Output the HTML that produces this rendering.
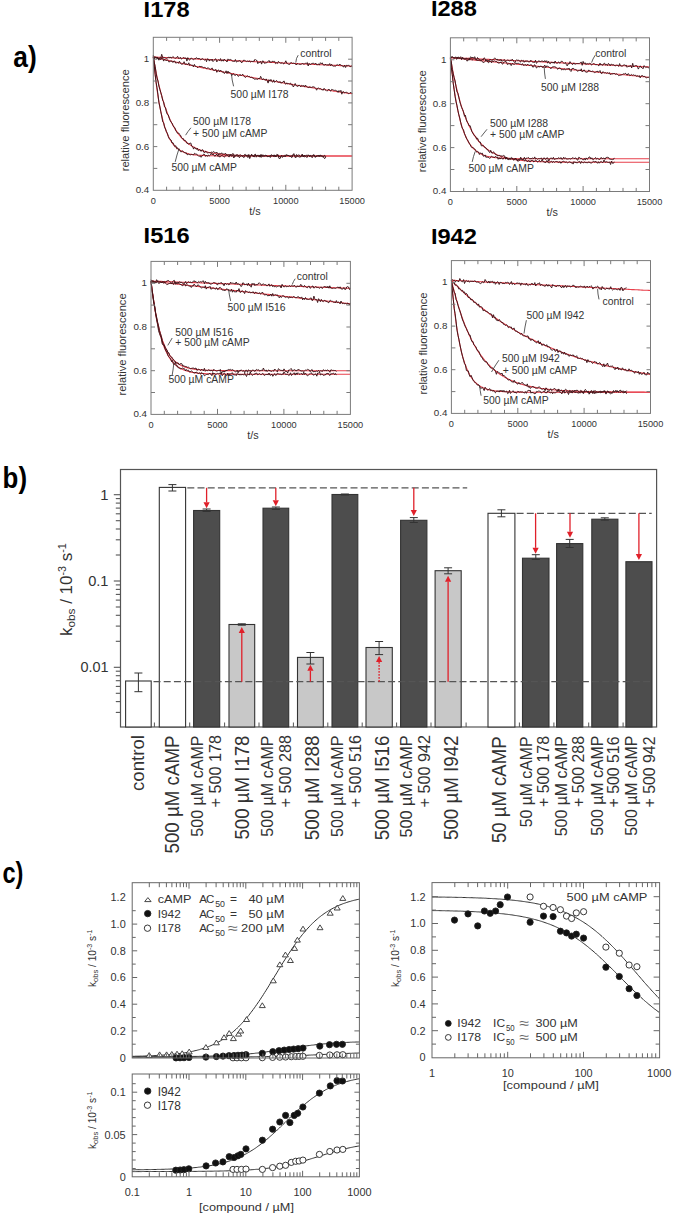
<!DOCTYPE html>
<html><head><meta charset="utf-8"><style>
html,body{margin:0;padding:0;background:#fff;}
svg{display:block;}
text{font-family:"Liberation Sans",sans-serif;}
</style></head><body>
<svg width="675" height="1217" viewBox="0 0 675 1217">
<rect width="675" height="1217" fill="#fff"/>
<text x="13.3" y="66.7" font-size="29" font-weight="bold" textLength="23.4" lengthAdjust="spacingAndGlyphs">a)</text>
<text x="2.6" y="488.0" font-size="29" font-weight="bold" textLength="24.4" lengthAdjust="spacingAndGlyphs">b)</text>
<text x="2.4" y="883.0" font-size="29" font-weight="bold" textLength="21.0" lengthAdjust="spacingAndGlyphs">c)</text>
<text x="143.6" y="16.6" font-size="22" font-weight="bold" textLength="46.0" lengthAdjust="spacingAndGlyphs">I178</text>
<path d="M153.3,57.0 L155.0,57.0 L156.6,57.1 L158.3,57.2 L160.0,57.3 L161.7,57.4 L163.3,57.4 L165.0,57.5 L166.7,57.6 L168.3,57.7 L170.0,57.7 L171.7,57.8 L173.3,57.9 L175.0,58.0 L176.7,58.1 L178.4,58.1 L180.0,58.2 L181.7,58.3 L183.4,58.4 L185.0,58.4 L186.7,58.5 L188.4,58.6 L190.1,58.7 L191.7,58.7 L193.4,58.8 L195.1,58.9 L196.7,59.0 L198.4,59.1 L200.1,59.1 L201.7,59.2 L203.4,59.3 L205.1,59.4 L206.8,59.4 L208.4,59.5 L210.1,59.6 L211.8,59.7 L213.4,59.7 L215.1,59.8 L216.8,59.9 L218.5,60.0 L220.1,60.1 L221.8,60.1 L223.5,60.2 L225.1,60.3 L226.8,60.4 L228.5,60.4 L230.1,60.5 L231.8,60.6 L233.5,60.7 L235.2,60.8 L236.8,60.8 L238.5,60.9 L240.2,61.0 L241.8,61.1 L243.5,61.1 L245.2,61.2 L246.9,61.3 L248.5,61.4 L250.2,61.4 L251.9,61.5 L253.5,61.6 L255.2,61.7 L256.9,61.8 L258.5,61.8 L260.2,61.9 L261.9,62.0 L263.6,62.1 L265.2,62.1 L266.9,62.2 L268.6,62.3 L270.2,62.4 L271.9,62.4 L273.6,62.5 L275.3,62.6 L276.9,62.7 L278.6,62.8 L280.3,62.8 L281.9,62.9 L283.6,63.0 L285.3,63.1 L286.9,63.1 L288.6,63.2 L290.3,63.3 L292.0,63.4 L293.6,63.5 L295.3,63.5 L297.0,63.6 L298.6,63.7 L300.3,63.8 L302.0,63.8 L303.7,63.9 L305.3,64.0 L307.0,64.1 L308.7,64.1 L310.3,64.2 L312.0,64.3 L313.7,64.4 L315.3,64.5 L317.0,64.5 L318.7,64.6 L320.4,64.7 L322.0,64.8 L323.7,64.8 L325.4,64.9 L327.0,65.0 L328.7,65.1 L330.4,65.1 L332.1,65.2 L333.7,65.3 L335.4,65.4 L337.1,65.5 L338.7,65.5 L340.4,65.6 L342.1,65.7 L343.7,65.8 L345.4,65.8 L347.1,65.9 L348.8,66.0 L350.4,66.1 L352.1,66.2" fill="none" stroke="#e8404c" stroke-width="1.1"/>
<path d="M153.3,57.0 L155.0,57.4 L156.6,57.7 L158.3,58.1 L160.0,58.5 L161.7,58.9 L163.3,59.3 L165.0,59.6 L166.7,60.0 L168.3,60.4 L170.0,60.8 L171.7,61.1 L173.3,61.5 L175.0,61.9 L176.7,62.2 L178.4,62.6 L180.0,63.0 L181.7,63.3 L183.4,63.7 L185.0,64.1 L186.7,64.4 L188.4,64.8 L190.1,65.1 L191.7,65.5 L193.4,65.8 L195.1,66.2 L196.7,66.5 L198.4,66.9 L200.1,67.2 L201.7,67.6 L203.4,67.9 L205.1,68.3 L206.8,68.6 L208.4,69.0 L210.1,69.3 L211.8,69.6 L213.4,70.0 L215.1,70.3 L216.8,70.6 L218.5,71.0 L220.1,71.3 L221.8,71.6 L223.5,72.0 L225.1,72.3 L226.8,72.6 L228.5,72.9 L230.1,73.3 L231.8,73.6 L233.5,73.9 L235.2,74.2 L236.8,74.5 L238.5,74.9 L240.2,75.2 L241.8,75.5 L243.5,75.8 L245.2,76.1 L246.9,76.4 L248.5,76.7 L250.2,77.1 L251.9,77.4 L253.5,77.7 L255.2,78.0 L256.9,78.3 L258.5,78.6 L260.2,78.9 L261.9,79.2 L263.6,79.5 L265.2,79.8 L266.9,80.1 L268.6,80.4 L270.2,80.7 L271.9,81.0 L273.6,81.3 L275.3,81.5 L276.9,81.8 L278.6,82.1 L280.3,82.4 L281.9,82.7 L283.6,83.0 L285.3,83.3 L286.9,83.6 L288.6,83.8 L290.3,84.1 L292.0,84.4 L293.6,84.7 L295.3,85.0 L297.0,85.2 L298.6,85.5 L300.3,85.8 L302.0,86.1 L303.7,86.3 L305.3,86.6 L307.0,86.9 L308.7,87.1 L310.3,87.4 L312.0,87.7 L313.7,87.9 L315.3,88.2 L317.0,88.5 L318.7,88.7 L320.4,89.0 L322.0,89.3 L323.7,89.5 L325.4,89.8 L327.0,90.0 L328.7,90.3 L330.4,90.5 L332.1,90.8 L333.7,91.1 L335.4,91.3 L337.1,91.6 L338.7,91.8 L340.4,92.1 L342.1,92.3 L343.7,92.6 L345.4,92.8 L347.1,93.1 L348.8,93.3 L350.4,93.5 L352.1,93.8" fill="none" stroke="#e8404c" stroke-width="1.1"/>
<path d="M153.3,57.0 L155.0,66.4 L156.6,74.9 L158.3,82.5 L160.0,89.5 L161.7,95.8 L163.3,101.5 L165.0,106.7 L166.7,111.3 L168.3,115.6 L170.0,119.4 L171.7,122.9 L173.3,126.0 L175.0,128.9 L176.7,131.4 L178.4,133.8 L180.0,135.9 L181.7,137.8 L183.4,139.5 L185.0,141.1 L186.7,142.5 L188.4,143.8 L190.1,144.9 L191.7,146.0 L193.4,146.9 L195.1,147.8 L196.7,148.5 L198.4,149.3 L200.1,149.9 L201.7,150.5 L203.4,151.0 L205.1,151.5 L206.8,151.9 L208.4,152.3 L210.1,152.6 L211.8,153.0 L213.4,153.2 L215.1,153.5 L216.8,153.7 L218.5,153.9 L220.1,154.1 L221.8,154.3 L223.5,154.5 L225.1,154.6 L226.8,154.7 L228.5,154.9 L230.1,155.0 L231.8,155.1 L233.5,155.2 L235.2,155.2 L236.8,155.3 L238.5,155.4 L240.2,155.4 L241.8,155.5 L243.5,155.5 L245.2,155.6 L246.9,155.6 L248.5,155.6 L250.2,155.7 L251.9,155.7 L253.5,155.7 L255.2,155.8 L256.9,155.8 L258.5,155.8 L260.2,155.8 L261.9,155.8 L263.6,155.8 L265.2,155.9 L266.9,155.9 L268.6,155.9 L270.2,155.9 L271.9,155.9 L273.6,155.9 L275.3,155.9 L276.9,155.9 L278.6,155.9 L280.3,155.9 L281.9,155.9 L283.6,155.9 L285.3,155.9 L286.9,155.9 L288.6,156.0 L290.3,156.0 L292.0,156.0 L293.6,156.0 L295.3,156.0 L297.0,156.0 L298.6,156.0 L300.3,156.0 L302.0,156.0 L303.7,156.0 L305.3,156.0 L307.0,156.0 L308.7,156.0 L310.3,156.0 L312.0,156.0 L313.7,156.0 L315.3,156.0 L317.0,156.0 L318.7,156.0 L320.4,156.0 L322.0,156.0 L323.7,156.0 L325.4,156.0 L327.0,156.0 L328.7,156.0 L330.4,156.0 L332.1,156.0 L333.7,156.0 L335.4,156.0 L337.1,156.0 L338.7,156.0 L340.4,156.0 L342.1,156.0 L343.7,156.0 L345.4,156.0 L347.1,156.0 L348.8,156.0 L350.4,156.0 L352.1,156.0" fill="none" stroke="#e8404c" stroke-width="1.1"/>
<path d="M153.3,57.0 L155.0,73.2 L156.6,86.8 L158.3,98.1 L160.0,107.6 L161.7,115.5 L163.3,122.2 L165.0,127.7 L166.7,132.3 L168.3,136.2 L170.0,139.5 L171.7,142.2 L173.3,144.4 L175.0,146.3 L176.7,147.9 L178.4,149.2 L180.0,150.3 L181.7,151.3 L183.4,152.0 L185.0,152.7 L186.7,153.2 L188.4,153.7 L190.1,154.1 L191.7,154.4 L193.4,154.6 L195.1,154.9 L196.7,155.0 L198.4,155.2 L200.1,155.3 L201.7,155.4 L203.4,155.5 L205.1,155.6 L206.8,155.7 L208.4,155.7 L210.1,155.8 L211.8,155.8 L213.4,155.8 L215.1,155.9 L216.8,155.9 L218.5,155.9 L220.1,155.9 L221.8,155.9 L223.5,155.9 L225.1,155.9 L226.8,155.9 L228.5,156.0 L230.1,156.0 L231.8,156.0 L233.5,156.0 L235.2,156.0 L236.8,156.0 L238.5,156.0 L240.2,156.0 L241.8,156.0 L243.5,156.0 L245.2,156.0 L246.9,156.0 L248.5,156.0 L250.2,156.0 L251.9,156.0 L253.5,156.0 L255.2,156.0 L256.9,156.0 L258.5,156.0 L260.2,156.0 L261.9,156.0 L263.6,156.0 L265.2,156.0 L266.9,156.0 L268.6,156.0 L270.2,156.0 L271.9,156.0 L273.6,156.0 L275.3,156.0 L276.9,156.0 L278.6,156.0 L280.3,156.0 L281.9,156.0 L283.6,156.0 L285.3,156.0 L286.9,156.0 L288.6,156.0 L290.3,156.0 L292.0,156.0 L293.6,156.0 L295.3,156.0 L297.0,156.0 L298.6,156.0 L300.3,156.0 L302.0,156.0 L303.7,156.0 L305.3,156.0 L307.0,156.0 L308.7,156.0 L310.3,156.0 L312.0,156.0 L313.7,156.0 L315.3,156.0 L317.0,156.0 L318.7,156.0 L320.4,156.0 L322.0,156.0 L323.7,156.0 L325.4,156.0 L327.0,156.0 L328.7,156.0 L330.4,156.0 L332.1,156.0 L333.7,156.0 L335.4,156.0 L337.1,156.0 L338.7,156.0 L340.4,156.0 L342.1,156.0 L343.7,156.0 L345.4,156.0 L347.1,156.0 L348.8,156.0 L350.4,156.0 L352.1,156.0" fill="none" stroke="#e8404c" stroke-width="1.1"/>
<path d="M153.3,55.1 L154.2,59.4 L155.2,56.7 L156.1,57.6 L157.0,57.6 L158.0,57.4 L158.9,59.1 L159.8,57.5 L160.8,58.1 L161.7,54.3 L162.6,57.2 L163.6,57.8 L164.5,57.7 L165.4,58.1 L166.4,58.5 L167.3,58.0 L168.2,57.2 L169.2,57.9 L170.1,56.9 L171.0,58.0 L172.0,57.8 L172.9,56.5 L173.8,57.4 L174.8,58.4 L175.7,58.2 L176.6,57.6 L177.6,56.3 L178.5,58.4 L179.4,58.4 L180.4,57.3 L181.3,59.1 L182.2,58.6 L183.2,57.5 L184.1,57.9 L185.0,58.4 L186.0,57.9 L186.9,61.1 L187.8,57.6 L188.8,59.5 L189.7,60.2 L190.6,58.4 L191.6,58.1 L192.5,59.2 L193.4,59.8 L194.4,58.8 L195.3,59.0 L196.2,57.7 L197.2,58.3 L198.1,58.9 L199.0,58.1 L200.0,59.3 L200.9,60.0 L201.8,58.7 L202.8,58.7 L203.7,59.5 L204.6,60.1 L205.6,59.2 L206.5,61.7 L207.4,58.8 L208.4,59.1 L209.3,61.1 L210.2,59.5 L211.2,60.5 L212.1,59.0 L213.0,61.6 L214.0,60.6 L214.9,59.2 L215.8,58.8 L216.8,61.9 L217.7,60.4 L218.6,59.7 L219.6,60.6 L220.5,58.6 L221.4,61.2 L222.4,59.8 L223.3,61.2 L224.2,59.0 L225.2,60.3 L226.1,60.7 L227.0,62.0 L228.0,58.9 L228.9,59.8 L229.8,59.8 L230.8,59.5 L231.7,60.3 L232.6,61.2 L233.6,61.4 L234.5,61.5 L235.4,59.5 L236.4,62.1 L237.3,61.4 L238.2,61.2 L239.2,60.7 L240.1,60.5 L241.0,62.2 L242.0,62.7 L242.9,61.1 L243.8,60.0 L244.8,60.5 L245.7,61.0 L246.6,61.6 L247.6,61.1 L248.5,61.6 L249.4,60.7 L250.4,62.2 L251.3,61.4 L252.2,61.6 L253.2,61.1 L254.1,61.4 L255.0,59.3 L256.0,60.3 L256.9,60.4 L257.8,63.7 L258.8,62.2 L259.7,62.4 L260.6,61.4 L261.6,64.1 L262.5,60.9 L263.4,61.1 L264.4,63.3 L265.3,63.0 L266.2,62.9 L267.2,62.2 L268.1,61.7 L269.0,60.4 L270.0,62.5 L270.9,61.7 L271.8,62.3 L272.8,60.9 L273.7,61.8 L274.6,61.3 L275.6,63.6 L276.5,62.8 L277.4,63.5 L278.4,61.4 L279.3,62.2 L280.2,63.1 L281.2,63.3 L282.1,62.5 L283.0,63.6 L284.0,63.9 L284.9,62.6 L285.8,60.8 L286.8,63.4 L287.7,63.7 L288.6,64.3 L289.6,64.5 L290.5,62.8 L291.4,62.6 L292.4,63.4 L293.3,63.1 L294.2,63.4 L295.2,63.4 L296.1,65.0 L297.0,64.0 L298.0,63.5 L298.9,64.4 L299.8,64.2 L300.8,64.5 L301.7,64.1 L302.6,63.1 L303.6,64.3 L304.5,64.1 L305.4,63.2 L306.4,63.4 L307.3,62.5 L308.2,66.0 L309.2,63.4 L310.1,64.7 L311.0,64.1 L312.0,63.5 L312.9,63.3 L313.8,63.4 L314.8,64.3 L315.7,63.0 L316.6,64.8 L317.6,64.7 L318.5,63.9 L319.4,65.1 L320.4,62.7 L321.3,63.8 L322.2,62.8 L323.2,64.8 L324.1,65.2 L325.0,64.7 L326.0,64.3 L326.9,65.5 L327.8,64.7 L328.8,65.1 L329.7,63.6 L330.6,65.8 L331.6,64.2 L332.5,65.8 L333.4,66.2 L334.4,66.0 L335.3,66.5 L336.2,65.3 L337.2,64.5 L338.1,65.4 L339.0,65.0 L340.0,64.1 L340.9,65.4 L341.8,65.5 L342.8,66.0 L343.7,67.2 L344.6,65.1 L345.6,67.5 L346.5,65.3 L347.4,65.9 L348.4,64.9 L349.3,66.1 L350.2,66.8 L351.2,65.8 L352.1,66.7" fill="none" stroke="#3a1418" stroke-width="0.95"/>
<path d="M153.3,57.1 L154.2,57.1 L155.2,57.5 L156.1,57.8 L157.0,58.6 L158.0,58.2 L158.9,60.2 L159.8,58.6 L160.8,59.8 L161.7,57.9 L162.6,57.9 L163.6,61.1 L164.5,59.4 L165.4,59.9 L166.4,60.9 L167.3,59.7 L168.2,60.8 L169.2,62.2 L170.1,61.0 L171.0,61.1 L172.0,61.1 L172.9,62.5 L173.8,61.0 L174.8,61.1 L175.7,63.1 L176.6,62.8 L177.6,62.5 L178.5,63.2 L179.4,61.2 L180.4,62.9 L181.3,64.2 L182.2,64.2 L183.2,63.7 L184.1,61.7 L185.0,64.2 L186.0,64.1 L186.9,64.0 L187.8,64.7 L188.8,62.8 L189.7,65.5 L190.6,64.6 L191.6,65.3 L192.5,65.1 L193.4,66.9 L194.4,64.4 L195.3,66.3 L196.2,66.4 L197.2,67.5 L198.1,67.5 L199.0,66.5 L200.0,66.3 L200.9,66.7 L201.8,66.5 L202.8,67.1 L203.7,68.0 L204.6,67.4 L205.6,67.8 L206.5,68.6 L207.4,68.1 L208.4,67.8 L209.3,68.9 L210.2,69.6 L211.2,68.8 L212.1,67.9 L213.0,70.1 L214.0,70.2 L214.9,70.4 L215.8,69.3 L216.8,72.3 L217.7,70.5 L218.6,69.9 L219.6,71.9 L220.5,70.0 L221.4,71.1 L222.4,72.2 L223.3,71.7 L224.2,73.5 L225.2,72.8 L226.1,70.8 L227.0,73.5 L228.0,71.1 L228.9,73.1 L229.8,72.3 L230.8,73.3 L231.7,75.6 L232.6,74.3 L233.6,73.7 L234.5,75.2 L235.4,75.5 L236.4,74.1 L237.3,75.2 L238.2,76.4 L239.2,75.6 L240.1,74.4 L241.0,75.8 L242.0,74.7 L242.9,74.3 L243.8,75.8 L244.8,77.1 L245.7,77.4 L246.6,76.4 L247.6,75.8 L248.5,76.5 L249.4,76.4 L250.4,77.5 L251.3,77.0 L252.2,77.9 L253.2,77.9 L254.1,79.0 L255.0,79.4 L256.0,78.6 L256.9,79.3 L257.8,79.3 L258.8,78.0 L259.7,78.9 L260.6,76.3 L261.6,78.3 L262.5,79.9 L263.4,78.7 L264.4,79.3 L265.3,80.4 L266.2,78.9 L267.2,80.8 L268.1,83.1 L269.0,79.7 L270.0,81.2 L270.9,79.4 L271.8,81.5 L272.8,82.2 L273.7,79.9 L274.6,82.4 L275.6,81.4 L276.5,80.4 L277.4,81.8 L278.4,82.2 L279.3,82.2 L280.2,81.6 L281.2,83.3 L282.1,82.2 L283.0,82.4 L284.0,80.9 L284.9,83.5 L285.8,84.2 L286.8,82.8 L287.7,84.0 L288.6,83.6 L289.6,83.9 L290.5,83.1 L291.4,84.9 L292.4,84.5 L293.3,87.0 L294.2,85.6 L295.2,83.5 L296.1,85.7 L297.0,85.9 L298.0,86.5 L298.9,85.0 L299.8,85.5 L300.8,86.9 L301.7,85.4 L302.6,85.9 L303.6,85.6 L304.5,87.1 L305.4,85.0 L306.4,86.4 L307.3,87.0 L308.2,87.5 L309.2,87.4 L310.1,86.6 L311.0,87.8 L312.0,86.7 L312.9,87.3 L313.8,86.7 L314.8,87.4 L315.7,88.3 L316.6,90.2 L317.6,88.3 L318.5,88.0 L319.4,88.7 L320.4,88.5 L321.3,89.6 L322.2,89.6 L323.2,90.3 L324.1,88.3 L325.0,89.6 L326.0,90.3 L326.9,91.2 L327.8,90.3 L328.8,89.0 L329.7,90.0 L330.6,91.3 L331.6,89.4 L332.5,89.6 L333.4,90.1 L334.4,90.4 L335.3,90.2 L336.2,90.9 L337.2,90.9 L338.1,92.4 L339.0,90.5 L340.0,91.8 L340.9,90.3 L341.8,94.2 L342.8,91.8 L343.7,91.7 L344.6,93.0 L345.6,92.4 L346.5,92.3 L347.4,92.6 L348.4,93.7 L349.3,93.5 L350.2,92.6 L351.2,92.5 L352.1,93.7" fill="none" stroke="#3a1418" stroke-width="0.95"/>
<path d="M153.3,56.9 L154.2,62.2 L155.2,66.5 L156.1,73.2 L157.0,78.0 L158.0,81.0 L158.9,86.2 L159.9,89.5 L160.8,92.6 L161.7,95.6 L162.7,100.3 L163.6,101.7 L164.5,106.9 L165.5,107.6 L166.4,112.1 L167.3,114.3 L168.3,114.9 L169.2,118.0 L170.2,120.5 L171.1,122.1 L172.0,123.1 L173.0,125.4 L173.9,127.0 L174.8,127.6 L175.8,130.7 L176.7,131.9 L177.6,133.3 L178.6,133.0 L179.5,134.3 L180.5,135.2 L181.4,137.5 L182.3,138.6 L183.3,138.6 L184.2,140.7 L185.1,140.4 L186.1,141.3 L187.0,143.4 L187.9,143.5 L188.9,144.2 L189.8,143.2 L190.8,143.0 L191.7,146.0 L192.6,146.5 L193.6,149.1 L194.5,147.3 L195.4,148.0 L196.4,149.4 L197.3,148.1 L198.2,150.6 L199.2,149.8 L200.1,149.8 L201.1,151.4 L202.0,149.8 L202.9,149.9 L203.9,152.4 L204.8,152.7 L205.7,151.1 L206.7,151.9 L207.6,153.2 L208.5,152.6 L209.5,152.6 L210.4,152.8 L211.4,152.1 L212.3,152.7 L213.2,151.6 L214.2,152.1 L215.1,152.9 L216.0,152.6 L217.0,152.5 L217.9,153.2 L218.8,155.1 L219.8,153.3 L220.7,154.1 L221.7,152.8 L222.6,154.3 L223.5,154.0 L224.5,154.3 L225.4,153.1 L226.3,154.5 L227.3,155.0 L228.2,154.6 L229.1,155.3 L230.1,154.8 L231.0,155.0 L232.0,154.8 L232.9,153.4 L233.8,155.5 L234.8,155.2 L235.7,155.4 L236.6,154.7 L237.6,156.4 L238.5,156.0 L239.4,155.4 L240.4,154.9 L241.3,155.5 L242.3,156.0 L243.2,156.3 L244.1,155.1 L245.1,154.2 L246.0,155.3 L246.9,155.4 L247.9,155.2 L248.8,156.5 L249.7,156.0 L250.7,155.9 L251.6,155.4 L252.6,155.7 L253.5,156.8 L254.4,154.7 L255.4,154.2 L256.3,156.0 L257.2,155.4 L258.2,155.5 L259.1,155.1 L260.0,157.2 L261.0,154.3 L261.9,156.3 L262.9,154.7 L263.8,155.8 L264.7,156.2 L265.7,156.0 L266.6,155.0 L267.5,156.7 L268.5,156.2 L269.4,156.3 L270.3,157.5 L271.3,154.7 L272.2,155.4 L273.2,155.9 L274.1,154.8 L275.0,156.8 L276.0,156.0 L276.9,154.3 L277.8,155.0 L278.8,158.0 L279.7,159.0 L280.6,156.9 L281.6,155.0 L282.5,156.4 L283.5,156.1 L284.4,155.4 L285.3,156.8 L286.3,155.8 L287.2,155.2 L288.1,155.5 L289.1,155.6 L290.0,156.5 L290.9,155.5 L291.9,156.4 L292.8,154.8 L293.8,153.6 L294.7,156.6 L295.6,158.0 L296.6,156.4 L297.5,155.6 L298.4,155.0 L299.4,155.0 L300.3,156.7 L301.2,156.7 L302.2,154.8 L303.1,157.0 L304.1,155.0 L305.0,156.2 L305.9,155.3 L306.9,155.3 L307.8,155.3 L308.7,155.2 L309.7,156.9 L310.6,155.7 L311.5,156.0 L312.5,155.7 L313.4,154.8 L314.4,156.2 L315.3,156.6 L316.2,156.6 L317.2,156.3 L318.1,155.3 L319.0,156.7 L320.0,154.9 L320.9,155.7 L321.8,156.2 L322.8,157.2 L323.7,155.8 L324.7,155.3 L325.6,157.6" fill="none" stroke="#3a1418" stroke-width="0.95"/>
<path d="M153.3,55.9 L154.2,64.9 L155.2,74.7 L156.1,82.3 L157.0,87.5 L158.0,94.9 L158.9,102.6 L159.9,106.9 L160.8,111.8 L161.7,116.0 L162.7,121.8 L163.6,122.4 L164.5,126.9 L165.5,129.0 L166.4,131.8 L167.3,133.2 L168.3,136.4 L169.2,138.7 L170.2,139.2 L171.1,140.0 L172.0,143.0 L173.0,142.7 L173.9,144.9 L174.8,146.6 L175.8,145.7 L176.7,148.7 L177.6,147.8 L178.6,149.8 L179.5,149.6 L180.5,151.7 L181.4,151.9 L182.3,150.6 L183.3,151.8 L184.2,152.3 L185.1,153.1 L186.1,152.6 L187.0,154.6 L187.9,154.6 L188.9,153.9 L189.8,154.8 L190.8,154.8 L191.7,154.4 L192.6,154.6 L193.6,154.9 L194.5,153.3 L195.4,154.0 L196.4,153.9 L197.3,155.1 L198.2,155.6 L199.2,156.6 L200.1,155.6 L201.1,157.3 L202.0,156.0 L202.9,154.8 L203.9,154.1 L204.8,154.7 L205.7,156.4 L206.7,155.2 L207.6,156.4 L208.5,155.0 L209.5,155.8 L210.4,155.0 L211.4,153.4 L212.3,155.0 L213.2,153.7 L214.2,155.7 L215.1,156.2 L216.0,154.6 L217.0,154.3 L217.9,156.4 L218.8,155.8 L219.8,157.2 L220.7,156.1 L221.7,155.1 L222.6,156.0 L223.5,156.5 L224.5,157.2 L225.4,155.6 L226.3,155.2 L227.3,155.4 L228.2,155.7 L229.1,157.1 L230.1,154.3 L231.0,156.0 L232.0,156.1 L232.9,155.3 L233.8,158.0 L234.8,156.0 L235.7,156.1 L236.6,155.6 L237.6,154.7 L238.5,155.5 L239.4,157.7 L240.4,156.3 L241.3,155.8 L242.3,155.8 L243.2,157.2 L244.1,157.5 L245.1,155.5 L246.0,155.7 L246.9,156.0 L247.9,157.6 L248.8,154.4 L249.7,158.6 L250.7,156.3 L251.6,154.1 L252.6,156.1 L253.5,155.8 L254.4,157.1 L255.4,154.7 L256.3,157.2 L257.2,155.7 L258.2,155.9 L259.1,156.9 L260.0,155.2 L261.0,157.3 L261.9,156.6 L262.9,156.0 L263.8,156.4 L264.7,155.6 L265.7,155.1 L266.6,156.3 L267.5,156.5 L268.5,156.5 L269.4,156.3 L270.3,155.2 L271.3,156.2 L272.2,155.6 L273.2,156.1 L274.1,156.8 L275.0,155.2 L276.0,156.9 L276.9,156.0 L277.8,154.6 L278.8,157.0 L279.7,156.0 L280.6,157.4 L281.6,156.5 L282.5,157.4 L283.5,156.3 L284.4,156.5 L285.3,155.9 L286.3,154.5 L287.2,155.7 L288.1,155.4 L289.1,156.0 L290.0,156.2 L290.9,156.7 L291.9,157.6 L292.8,155.9 L293.8,154.5 L294.7,155.5 L295.6,156.5 L296.6,154.5 L297.5,156.4 L298.4,156.6 L299.4,157.1 L300.3,156.9 L301.2,156.2 L302.2,154.1 L303.1,156.2 L304.1,156.9 L305.0,156.5 L305.9,156.2 L306.9,157.6 L307.8,155.9 L308.7,155.3 L309.7,155.7 L310.6,155.4 L311.5,157.2 L312.5,157.5 L313.4,154.8 L314.4,155.0 L315.3,157.4 L316.2,155.8 L317.2,156.0 L318.1,155.5 L319.0,155.8 L320.0,156.4 L320.9,155.8 L321.8,155.8 L322.8,156.0 L323.7,157.7 L324.7,158.7 L325.6,156.7" fill="none" stroke="#3a1418" stroke-width="0.95"/>
<rect x="153.3" y="37.3" width="198.8" height="153.0" fill="none" stroke="#7a7a7a" stroke-width="1"/>
<line x1="166.6" y1="37.3" x2="166.6" y2="40.9" stroke="#7a7a7a" stroke-width="1"/>
<line x1="166.6" y1="190.3" x2="166.6" y2="186.7" stroke="#7a7a7a" stroke-width="1"/>
<line x1="179.8" y1="37.3" x2="179.8" y2="40.9" stroke="#7a7a7a" stroke-width="1"/>
<line x1="179.8" y1="190.3" x2="179.8" y2="186.7" stroke="#7a7a7a" stroke-width="1"/>
<line x1="193.1" y1="37.3" x2="193.1" y2="40.9" stroke="#7a7a7a" stroke-width="1"/>
<line x1="193.1" y1="190.3" x2="193.1" y2="186.7" stroke="#7a7a7a" stroke-width="1"/>
<line x1="206.3" y1="37.3" x2="206.3" y2="40.9" stroke="#7a7a7a" stroke-width="1"/>
<line x1="206.3" y1="190.3" x2="206.3" y2="186.7" stroke="#7a7a7a" stroke-width="1"/>
<line x1="219.6" y1="37.3" x2="219.6" y2="42.8" stroke="#7a7a7a" stroke-width="1"/>
<line x1="219.6" y1="190.3" x2="219.6" y2="184.8" stroke="#7a7a7a" stroke-width="1"/>
<line x1="232.8" y1="37.3" x2="232.8" y2="40.9" stroke="#7a7a7a" stroke-width="1"/>
<line x1="232.8" y1="190.3" x2="232.8" y2="186.7" stroke="#7a7a7a" stroke-width="1"/>
<line x1="246.1" y1="37.3" x2="246.1" y2="40.9" stroke="#7a7a7a" stroke-width="1"/>
<line x1="246.1" y1="190.3" x2="246.1" y2="186.7" stroke="#7a7a7a" stroke-width="1"/>
<line x1="259.3" y1="37.3" x2="259.3" y2="40.9" stroke="#7a7a7a" stroke-width="1"/>
<line x1="259.3" y1="190.3" x2="259.3" y2="186.7" stroke="#7a7a7a" stroke-width="1"/>
<line x1="272.6" y1="37.3" x2="272.6" y2="40.9" stroke="#7a7a7a" stroke-width="1"/>
<line x1="272.6" y1="190.3" x2="272.6" y2="186.7" stroke="#7a7a7a" stroke-width="1"/>
<line x1="285.8" y1="37.3" x2="285.8" y2="42.8" stroke="#7a7a7a" stroke-width="1"/>
<line x1="285.8" y1="190.3" x2="285.8" y2="184.8" stroke="#7a7a7a" stroke-width="1"/>
<line x1="299.1" y1="37.3" x2="299.1" y2="40.9" stroke="#7a7a7a" stroke-width="1"/>
<line x1="299.1" y1="190.3" x2="299.1" y2="186.7" stroke="#7a7a7a" stroke-width="1"/>
<line x1="312.3" y1="37.3" x2="312.3" y2="40.9" stroke="#7a7a7a" stroke-width="1"/>
<line x1="312.3" y1="190.3" x2="312.3" y2="186.7" stroke="#7a7a7a" stroke-width="1"/>
<line x1="325.6" y1="37.3" x2="325.6" y2="40.9" stroke="#7a7a7a" stroke-width="1"/>
<line x1="325.6" y1="190.3" x2="325.6" y2="186.7" stroke="#7a7a7a" stroke-width="1"/>
<line x1="338.8" y1="37.3" x2="338.8" y2="40.9" stroke="#7a7a7a" stroke-width="1"/>
<line x1="338.8" y1="190.3" x2="338.8" y2="186.7" stroke="#7a7a7a" stroke-width="1"/>
<line x1="153.3" y1="168.4" x2="157.3" y2="168.4" stroke="#7a7a7a" stroke-width="1"/>
<line x1="352.1" y1="168.4" x2="348.1" y2="168.4" stroke="#7a7a7a" stroke-width="1"/>
<line x1="153.3" y1="146.6" x2="157.3" y2="146.6" stroke="#7a7a7a" stroke-width="1"/>
<line x1="352.1" y1="146.6" x2="348.1" y2="146.6" stroke="#7a7a7a" stroke-width="1"/>
<line x1="153.3" y1="124.7" x2="157.3" y2="124.7" stroke="#7a7a7a" stroke-width="1"/>
<line x1="352.1" y1="124.7" x2="348.1" y2="124.7" stroke="#7a7a7a" stroke-width="1"/>
<line x1="153.3" y1="102.9" x2="157.3" y2="102.9" stroke="#7a7a7a" stroke-width="1"/>
<line x1="352.1" y1="102.9" x2="348.1" y2="102.9" stroke="#7a7a7a" stroke-width="1"/>
<line x1="153.3" y1="81.0" x2="157.3" y2="81.0" stroke="#7a7a7a" stroke-width="1"/>
<line x1="352.1" y1="81.0" x2="348.1" y2="81.0" stroke="#7a7a7a" stroke-width="1"/>
<line x1="153.3" y1="59.2" x2="157.3" y2="59.2" stroke="#7a7a7a" stroke-width="1"/>
<line x1="352.1" y1="59.2" x2="348.1" y2="59.2" stroke="#7a7a7a" stroke-width="1"/>
<text x="149.3" y="62.1" font-size="9.8" text-anchor="end" fill="#333">1</text>
<text x="149.3" y="105.8" font-size="9.8" text-anchor="end" fill="#333">0.8</text>
<text x="149.3" y="149.5" font-size="9.8" text-anchor="end" fill="#333">0.6</text>
<text x="149.3" y="193.2" font-size="9.8" text-anchor="end" fill="#333">0.4</text>
<text x="153.3" y="203.7" font-size="9.2" text-anchor="middle" fill="#333">0</text>
<text x="219.6" y="203.7" font-size="9.2" text-anchor="middle" fill="#333">5000</text>
<text x="285.8" y="203.7" font-size="9.2" text-anchor="middle" fill="#333">10000</text>
<text x="352.1" y="203.7" font-size="9.2" text-anchor="middle" fill="#333">15000</text>
<text x="255.0" y="214.7" font-size="10.8" text-anchor="middle" fill="#333">t/s</text>
<text x="128.8" y="120.3" font-size="11" text-anchor="middle" fill="#333" textLength="102.0" lengthAdjust="spacingAndGlyphs" transform="rotate(-90 128.8 120.3)">relative fluorescence</text>
<text x="300.3" y="56.5" font-size="10.4" fill="#333">control</text>
<path d="M298.2,55.2 L296.5,58.5 L295.8,62.6" fill="none" stroke="#333" stroke-width="0.8"/>
<text x="230.6" y="98.2" font-size="10.4" fill="#333">500 µM I178</text>
<path d="M233.6,86.3 L232.2,80.0 L231.5,74.4" fill="none" stroke="#333" stroke-width="0.8"/>
<text x="193.0" y="124.8" font-size="10.4" fill="#333">500 µM I178</text>
<text x="193.0" y="136.8" font-size="10.4" fill="#333">+ 500 µM cAMP</text>
<path d="M190.9,127.8 L188.0,131.5 L185.6,135.2" fill="none" stroke="#333" stroke-width="0.8"/>
<text x="171.4" y="170.6" font-size="10.4" fill="#333">500 µM cAMP</text>
<path d="M175.2,161.9 L177.0,155.0 L179.1,148.5" fill="none" stroke="#333" stroke-width="0.8"/>
<text x="430.9" y="16.4" font-size="22" font-weight="bold" textLength="46.0" lengthAdjust="spacingAndGlyphs">I288</text>
<path d="M450.4,57.6 L452.1,57.6 L453.7,57.7 L455.4,57.8 L457.1,57.9 L458.8,58.0 L460.4,58.0 L462.1,58.1 L463.8,58.2 L465.5,58.3 L467.1,58.4 L468.8,58.4 L470.5,58.5 L472.2,58.6 L473.8,58.7 L475.5,58.8 L477.2,58.8 L478.8,58.9 L480.5,59.0 L482.2,59.1 L483.9,59.1 L485.5,59.2 L487.2,59.3 L488.9,59.4 L490.6,59.5 L492.2,59.5 L493.9,59.6 L495.6,59.7 L497.2,59.8 L498.9,59.9 L500.6,59.9 L502.3,60.0 L503.9,60.1 L505.6,60.2 L507.3,60.3 L509.0,60.3 L510.6,60.4 L512.3,60.5 L514.0,60.6 L515.7,60.7 L517.3,60.7 L519.0,60.8 L520.7,60.9 L522.3,61.0 L524.0,61.1 L525.7,61.1 L527.4,61.2 L529.0,61.3 L530.7,61.4 L532.4,61.4 L534.1,61.5 L535.7,61.6 L537.4,61.7 L539.1,61.8 L540.7,61.8 L542.4,61.9 L544.1,62.0 L545.8,62.1 L547.4,62.2 L549.1,62.2 L550.8,62.3 L552.5,62.4 L554.1,62.5 L555.8,62.6 L557.5,62.6 L559.2,62.7 L560.8,62.8 L562.5,62.9 L564.2,63.0 L565.8,63.0 L567.5,63.1 L569.2,63.2 L570.9,63.3 L572.5,63.4 L574.2,63.4 L575.9,63.5 L577.6,63.6 L579.2,63.7 L580.9,63.8 L582.6,63.8 L584.2,63.9 L585.9,64.0 L587.6,64.1 L589.3,64.1 L590.9,64.2 L592.6,64.3 L594.3,64.4 L596.0,64.5 L597.6,64.5 L599.3,64.6 L601.0,64.7 L602.7,64.8 L604.3,64.9 L606.0,64.9 L607.7,65.0 L609.3,65.1 L611.0,65.2 L612.7,65.3 L614.4,65.3 L616.0,65.4 L617.7,65.5 L619.4,65.6 L621.1,65.7 L622.7,65.7 L624.4,65.8 L626.1,65.9 L627.7,66.0 L629.4,66.1 L631.1,66.1 L632.8,66.2 L634.4,66.3 L636.1,66.4 L637.8,66.4 L639.5,66.5 L641.1,66.6 L642.8,66.7 L644.5,66.8 L646.2,66.8 L647.8,66.9 L649.5,67.0" fill="none" stroke="#e8404c" stroke-width="1.1"/>
<path d="M450.4,57.6 L452.1,57.7 L453.7,57.9 L455.4,58.1 L457.1,58.2 L458.8,58.4 L460.4,58.6 L462.1,58.7 L463.8,58.9 L465.5,59.1 L467.1,59.2 L468.8,59.4 L470.5,59.6 L472.2,59.7 L473.8,59.9 L475.5,60.1 L477.2,60.2 L478.8,60.4 L480.5,60.6 L482.2,60.7 L483.9,60.9 L485.5,61.0 L487.2,61.2 L488.9,61.4 L490.6,61.5 L492.2,61.7 L493.9,61.9 L495.6,62.0 L497.2,62.2 L498.9,62.4 L500.6,62.5 L502.3,62.7 L503.9,62.9 L505.6,63.0 L507.3,63.2 L509.0,63.4 L510.6,63.5 L512.3,63.7 L514.0,63.9 L515.7,64.0 L517.3,64.2 L519.0,64.4 L520.7,64.5 L522.3,64.7 L524.0,64.9 L525.7,65.0 L527.4,65.2 L529.0,65.4 L530.7,65.5 L532.4,65.7 L534.1,65.9 L535.7,66.0 L537.4,66.2 L539.1,66.4 L540.7,66.5 L542.4,66.7 L544.1,66.9 L545.8,67.0 L547.4,67.2 L549.1,67.4 L550.8,67.5 L552.5,67.7 L554.1,67.9 L555.8,68.0 L557.5,68.2 L559.2,68.4 L560.8,68.5 L562.5,68.7 L564.2,68.9 L565.8,69.0 L567.5,69.2 L569.2,69.4 L570.9,69.5 L572.5,69.7 L574.2,69.9 L575.9,70.0 L577.6,70.2 L579.2,70.3 L580.9,70.5 L582.6,70.7 L584.2,70.8 L585.9,71.0 L587.6,71.2 L589.3,71.3 L590.9,71.5 L592.6,71.7 L594.3,71.8 L596.0,72.0 L597.6,72.2 L599.3,72.3 L601.0,72.5 L602.7,72.7 L604.3,72.8 L606.0,73.0 L607.7,73.2 L609.3,73.3 L611.0,73.5 L612.7,73.7 L614.4,73.8 L616.0,74.0 L617.7,74.2 L619.4,74.3 L621.1,74.5 L622.7,74.7 L624.4,74.8 L626.1,75.0 L627.7,75.2 L629.4,75.3 L631.1,75.5 L632.8,75.7 L634.4,75.8 L636.1,76.0 L637.8,76.2 L639.5,76.3 L641.1,76.5 L642.8,76.7 L644.5,76.8 L646.2,77.0 L647.8,77.2 L649.5,77.3" fill="none" stroke="#e8404c" stroke-width="1.1"/>
<path d="M450.4,57.6 L452.1,67.0 L453.7,75.6 L455.4,83.4 L457.1,90.5 L458.8,97.0 L460.4,102.9 L462.1,108.3 L463.8,113.1 L465.5,117.6 L467.1,121.6 L468.8,125.3 L470.5,128.6 L472.2,131.7 L473.8,134.4 L475.5,136.9 L477.2,139.2 L478.8,141.3 L480.5,143.2 L482.2,144.9 L483.9,146.5 L485.5,147.9 L487.2,149.2 L488.9,150.4 L490.6,151.5 L492.2,152.4 L493.9,153.3 L495.6,154.1 L497.2,154.9 L498.9,155.5 L500.6,156.2 L502.3,156.7 L503.9,157.2 L505.6,157.7 L507.3,158.1 L509.0,158.5 L510.6,158.8 L512.3,159.1 L514.0,159.4 L515.7,159.7 L517.3,159.9 L519.0,160.1 L520.7,160.3 L522.3,160.5 L524.0,160.7 L525.7,160.8 L527.4,160.9 L529.0,161.1 L530.7,161.2 L532.4,161.3 L534.1,161.4 L535.7,161.5 L537.4,161.5 L539.1,161.6 L540.7,161.7 L542.4,161.7 L544.1,161.8 L545.8,161.8 L547.4,161.9 L549.1,161.9 L550.8,161.9 L552.5,162.0 L554.1,162.0 L555.8,162.0 L557.5,162.1 L559.2,162.1 L560.8,162.1 L562.5,162.1 L564.2,162.1 L565.8,162.1 L567.5,162.2 L569.2,162.2 L570.9,162.2 L572.5,162.2 L574.2,162.2 L575.9,162.2 L577.6,162.2 L579.2,162.2 L580.9,162.2 L582.6,162.2 L584.2,162.2 L585.9,162.2 L587.6,162.3 L589.3,162.3 L590.9,162.3 L592.6,162.3 L594.3,162.3 L596.0,162.3 L597.6,162.3 L599.3,162.3 L601.0,162.3 L602.7,162.3 L604.3,162.3 L606.0,162.3 L607.7,162.3 L609.3,162.3 L611.0,162.3 L612.7,162.3 L614.4,162.3 L616.0,162.3 L617.7,162.3 L619.4,162.3 L621.1,162.3 L622.7,162.3 L624.4,162.3 L626.1,162.3 L627.7,162.3 L629.4,162.3 L631.1,162.3 L632.8,162.3 L634.4,162.3 L636.1,162.3 L637.8,162.3 L639.5,162.3 L641.1,162.3 L642.8,162.3 L644.5,162.3 L646.2,162.3 L647.8,162.3 L649.5,162.3" fill="none" stroke="#e8404c" stroke-width="1.1"/>
<path d="M450.4,57.6 L452.1,73.1 L453.7,86.2 L455.4,97.3 L457.1,106.8 L458.8,114.7 L460.4,121.5 L462.1,127.2 L463.8,132.0 L465.5,136.1 L467.1,139.6 L468.8,142.6 L470.5,145.0 L472.2,147.1 L473.8,148.9 L475.5,150.4 L477.2,151.7 L478.8,152.8 L480.5,153.7 L482.2,154.5 L483.9,155.2 L485.5,155.7 L487.2,156.2 L488.9,156.6 L490.6,156.9 L492.2,157.2 L493.9,157.4 L495.6,157.7 L497.2,157.8 L498.9,158.0 L500.6,158.1 L502.3,158.2 L503.9,158.3 L505.6,158.4 L507.3,158.4 L509.0,158.5 L510.6,158.5 L512.3,158.6 L514.0,158.6 L515.7,158.6 L517.3,158.7 L519.0,158.7 L520.7,158.7 L522.3,158.7 L524.0,158.7 L525.7,158.7 L527.4,158.7 L529.0,158.7 L530.7,158.7 L532.4,158.8 L534.1,158.8 L535.7,158.8 L537.4,158.8 L539.1,158.8 L540.7,158.8 L542.4,158.8 L544.1,158.8 L545.8,158.8 L547.4,158.8 L549.1,158.8 L550.8,158.8 L552.5,158.8 L554.1,158.8 L555.8,158.8 L557.5,158.8 L559.2,158.8 L560.8,158.8 L562.5,158.8 L564.2,158.8 L565.8,158.8 L567.5,158.8 L569.2,158.8 L570.9,158.8 L572.5,158.8 L574.2,158.8 L575.9,158.8 L577.6,158.8 L579.2,158.8 L580.9,158.8 L582.6,158.8 L584.2,158.8 L585.9,158.8 L587.6,158.8 L589.3,158.8 L590.9,158.8 L592.6,158.8 L594.3,158.8 L596.0,158.8 L597.6,158.8 L599.3,158.8 L601.0,158.8 L602.7,158.8 L604.3,158.8 L606.0,158.8 L607.7,158.8 L609.3,158.8 L611.0,158.8 L612.7,158.8 L614.4,158.8 L616.0,158.8 L617.7,158.8 L619.4,158.8 L621.1,158.8 L622.7,158.8 L624.4,158.8 L626.1,158.8 L627.7,158.8 L629.4,158.8 L631.1,158.8 L632.8,158.8 L634.4,158.8 L636.1,158.8 L637.8,158.8 L639.5,158.8 L641.1,158.8 L642.8,158.8 L644.5,158.8 L646.2,158.8 L647.8,158.8 L649.5,158.8" fill="none" stroke="#e8404c" stroke-width="1.1"/>
<path d="M450.4,59.1 L451.3,57.4 L452.3,57.0 L453.2,57.5 L454.1,58.1 L455.1,57.7 L456.0,56.8 L456.9,58.5 L457.9,57.1 L458.8,57.3 L459.7,57.8 L460.7,56.7 L461.6,58.8 L462.6,57.3 L463.5,59.0 L464.4,58.9 L465.4,59.2 L466.3,57.9 L467.2,59.2 L468.2,58.4 L469.1,59.5 L470.0,57.5 L471.0,56.8 L471.9,58.4 L472.8,57.1 L473.8,58.2 L474.7,56.7 L475.6,58.7 L476.6,60.3 L477.5,57.5 L478.4,59.0 L479.4,59.9 L480.3,59.6 L481.2,60.5 L482.2,59.2 L483.1,60.1 L484.1,57.8 L485.0,58.6 L485.9,60.8 L486.9,60.7 L487.8,59.9 L488.7,61.2 L489.7,59.5 L490.6,59.5 L491.5,60.2 L492.5,60.1 L493.4,59.1 L494.3,58.3 L495.3,58.3 L496.2,59.7 L497.1,59.0 L498.1,60.5 L499.0,59.5 L499.9,60.8 L500.9,59.3 L501.8,61.1 L502.7,60.9 L503.7,60.1 L504.6,59.6 L505.5,61.5 L506.5,60.7 L507.4,60.1 L508.4,60.1 L509.3,61.1 L510.2,60.3 L511.2,60.7 L512.1,59.2 L513.0,60.0 L514.0,61.8 L514.9,62.7 L515.8,60.6 L516.8,59.6 L517.7,60.6 L518.6,60.0 L519.6,61.3 L520.5,62.1 L521.4,60.2 L522.4,60.9 L523.3,60.4 L524.2,62.3 L525.2,60.9 L526.1,61.7 L527.0,60.5 L528.0,61.8 L528.9,61.8 L529.9,61.9 L530.8,60.2 L531.7,61.4 L532.7,62.2 L533.6,62.4 L534.5,62.5 L535.5,60.2 L536.4,63.3 L537.3,62.5 L538.3,61.1 L539.2,60.7 L540.1,62.0 L541.1,61.1 L542.0,61.2 L542.9,61.0 L543.9,62.0 L544.8,60.5 L545.7,61.9 L546.7,60.7 L547.6,63.2 L548.5,61.3 L549.5,63.4 L550.4,63.7 L551.4,61.9 L552.3,63.1 L553.2,62.0 L554.2,63.4 L555.1,61.0 L556.0,62.5 L557.0,63.6 L557.9,62.5 L558.8,61.9 L559.8,63.4 L560.7,62.3 L561.6,60.9 L562.6,62.0 L563.5,62.9 L564.4,63.4 L565.4,62.4 L566.3,64.4 L567.2,65.9 L568.2,63.7 L569.1,64.1 L570.0,61.6 L571.0,63.1 L571.9,64.2 L572.9,64.4 L573.8,62.9 L574.7,64.2 L575.7,64.0 L576.6,63.6 L577.5,63.5 L578.5,63.5 L579.4,63.5 L580.3,62.5 L581.3,62.1 L582.2,65.3 L583.1,61.4 L584.1,63.7 L585.0,62.7 L585.9,64.6 L586.9,63.7 L587.8,63.8 L588.7,64.0 L589.7,63.3 L590.6,63.6 L591.5,65.1 L592.5,64.3 L593.4,63.6 L594.4,63.7 L595.3,64.7 L596.2,64.7 L597.2,64.6 L598.1,65.5 L599.0,65.7 L600.0,63.1 L600.9,65.0 L601.8,64.6 L602.8,65.4 L603.7,63.6 L604.6,63.2 L605.6,65.1 L606.5,64.4 L607.4,65.6 L608.4,63.4 L609.3,64.2 L610.2,65.8 L611.2,64.0 L612.1,64.8 L613.0,64.8 L614.0,64.9 L614.9,65.9 L615.8,65.8 L616.8,64.8 L617.7,65.5 L618.7,66.3 L619.6,63.6 L620.5,65.8 L621.5,66.1 L622.4,66.3 L623.3,65.1 L624.3,64.8 L625.2,65.6 L626.1,65.0 L627.1,67.3 L628.0,66.3 L628.9,66.4 L629.9,66.0 L630.8,65.6 L631.7,68.0 L632.7,63.3 L633.6,67.0 L634.5,65.9 L635.5,65.5 L636.4,65.5 L637.3,66.1 L638.3,69.1 L639.2,67.5 L640.2,65.8 L641.1,67.4 L642.0,67.6 L643.0,68.8 L643.9,65.6 L644.8,66.3 L645.8,67.6 L646.7,67.0 L647.6,67.0 L648.6,68.0 L649.5,67.2" fill="none" stroke="#3a1418" stroke-width="0.95"/>
<path d="M450.4,57.3 L451.3,57.1 L452.3,56.6 L453.2,57.8 L454.1,58.3 L455.1,57.6 L456.0,58.7 L456.9,59.3 L457.9,57.2 L458.8,58.7 L459.7,58.4 L460.7,58.0 L461.6,59.7 L462.6,58.2 L463.5,58.4 L464.4,59.0 L465.4,58.7 L466.3,59.8 L467.2,61.2 L468.2,59.6 L469.1,60.2 L470.0,58.7 L471.0,59.3 L471.9,60.2 L472.8,59.7 L473.8,58.6 L474.7,58.9 L475.6,59.7 L476.6,59.7 L477.5,60.5 L478.4,60.4 L479.4,59.9 L480.3,60.6 L481.2,60.3 L482.2,61.7 L483.1,62.3 L484.1,62.5 L485.0,61.4 L485.9,59.8 L486.9,60.1 L487.8,62.2 L488.7,62.8 L489.7,60.7 L490.6,61.1 L491.5,62.9 L492.5,60.7 L493.4,61.7 L494.3,60.7 L495.3,61.7 L496.2,61.3 L497.1,61.9 L498.1,63.2 L499.0,62.6 L499.9,63.1 L500.9,61.8 L501.8,63.6 L502.7,64.2 L503.7,62.2 L504.6,61.9 L505.5,61.7 L506.5,62.1 L507.4,64.6 L508.4,63.9 L509.3,63.9 L510.2,63.5 L511.2,65.6 L512.1,63.7 L513.0,63.5 L514.0,64.7 L514.9,63.8 L515.8,62.9 L516.8,64.1 L517.7,63.3 L518.6,63.4 L519.6,64.0 L520.5,64.2 L521.4,64.9 L522.4,63.6 L523.3,65.2 L524.2,65.5 L525.2,64.3 L526.1,65.7 L527.0,64.8 L528.0,64.3 L528.9,65.3 L529.9,65.3 L530.8,64.7 L531.7,64.9 L532.7,67.1 L533.6,67.0 L534.5,64.7 L535.5,65.6 L536.4,68.0 L537.3,67.4 L538.3,66.2 L539.2,67.3 L540.1,66.0 L541.1,66.5 L542.0,66.2 L542.9,67.8 L543.9,66.2 L544.8,65.1 L545.7,67.7 L546.7,65.9 L547.6,66.3 L548.5,66.7 L549.5,67.4 L550.4,68.5 L551.4,68.4 L552.3,66.9 L553.2,66.8 L554.2,66.7 L555.1,67.0 L556.0,67.2 L557.0,68.5 L557.9,69.3 L558.8,68.1 L559.8,67.9 L560.7,68.4 L561.6,70.0 L562.6,69.2 L563.5,70.1 L564.4,68.7 L565.4,69.9 L566.3,69.2 L567.2,68.8 L568.2,69.1 L569.1,68.1 L570.0,70.4 L571.0,71.5 L571.9,68.7 L572.9,68.4 L573.8,68.5 L574.7,69.6 L575.7,69.5 L576.6,69.9 L577.5,71.3 L578.5,70.8 L579.4,69.9 L580.3,71.0 L581.3,68.8 L582.2,72.0 L583.1,71.1 L584.1,69.8 L585.0,71.5 L585.9,72.0 L586.9,72.3 L587.8,71.8 L588.7,69.9 L589.7,71.0 L590.6,71.0 L591.5,72.0 L592.5,70.9 L593.4,71.6 L594.4,72.7 L595.3,72.3 L596.2,71.8 L597.2,71.0 L598.1,72.2 L599.0,71.8 L600.0,70.5 L600.9,73.2 L601.8,73.7 L602.8,71.7 L603.7,72.3 L604.6,72.9 L605.6,72.7 L606.5,73.3 L607.4,72.6 L608.4,73.5 L609.3,72.6 L610.2,74.5 L611.2,74.2 L612.1,73.5 L613.0,74.1 L614.0,73.1 L614.9,73.9 L615.8,74.4 L616.8,73.8 L617.7,74.6 L618.7,75.7 L619.6,75.4 L620.5,75.2 L621.5,74.9 L622.4,74.5 L623.3,73.8 L624.3,74.3 L625.2,73.2 L626.1,73.8 L627.1,75.2 L628.0,73.6 L628.9,74.2 L629.9,75.8 L630.8,75.1 L631.7,74.5 L632.7,75.4 L633.6,74.8 L634.5,75.4 L635.5,75.2 L636.4,76.3 L637.3,75.7 L638.3,76.5 L639.2,75.6 L640.2,77.9 L641.1,76.1 L642.0,75.4 L643.0,76.1 L643.9,76.7 L644.8,76.3 L645.8,77.7 L646.7,77.8 L647.6,77.4 L648.6,77.3 L649.5,76.4" fill="none" stroke="#3a1418" stroke-width="0.95"/>
<path d="M450.4,58.3 L451.3,62.0 L452.3,69.5 L453.2,73.6 L454.1,77.5 L455.1,80.8 L456.0,86.6 L457.0,91.9 L457.9,93.3 L458.8,97.2 L459.8,101.6 L460.7,104.7 L461.6,107.4 L462.6,109.5 L463.5,111.7 L464.5,116.3 L465.4,115.2 L466.3,119.7 L467.3,122.2 L468.2,123.3 L469.1,125.8 L470.1,125.6 L471.0,128.6 L471.9,131.6 L472.9,133.2 L473.8,134.8 L474.8,136.1 L475.7,136.5 L476.6,139.1 L477.6,138.2 L478.5,140.9 L479.4,142.1 L480.4,142.1 L481.3,145.8 L482.2,145.8 L483.2,145.3 L484.1,146.7 L485.1,147.5 L486.0,147.9 L486.9,149.5 L487.9,149.8 L488.8,151.6 L489.7,152.6 L490.7,150.3 L491.6,152.9 L492.6,153.2 L493.5,151.8 L494.4,152.6 L495.4,154.5 L496.3,154.9 L497.2,154.9 L498.2,156.1 L499.1,155.1 L500.0,155.8 L501.0,156.1 L501.9,155.9 L502.9,156.2 L503.8,155.4 L504.7,156.0 L505.7,159.2 L506.6,157.1 L507.5,159.1 L508.5,159.6 L509.4,157.9 L510.3,159.4 L511.3,159.2 L512.2,158.1 L513.2,159.9 L514.1,160.2 L515.0,159.2 L516.0,158.6 L516.9,159.3 L517.8,161.4 L518.8,160.7 L519.7,160.3 L520.7,158.5 L521.6,159.6 L522.5,159.7 L523.5,159.5 L524.4,160.9 L525.3,160.3 L526.3,160.4 L527.2,161.8 L528.1,161.0 L529.1,160.5 L530.0,162.1 L531.0,160.4 L531.9,160.5 L532.8,160.3 L533.8,162.0 L534.7,161.3 L535.6,160.1 L536.6,160.7 L537.5,162.2 L538.5,161.3 L539.4,160.3 L540.3,161.7 L541.3,161.3 L542.2,159.3 L543.1,161.7 L544.1,161.8 L545.0,162.7 L545.9,162.4 L546.9,160.4 L547.8,162.0 L548.8,163.0 L549.7,162.7 L550.6,161.9 L551.6,161.2 L552.5,162.6 L553.4,161.3 L554.4,162.4 L555.3,161.7 L556.2,161.5 L557.2,161.5 L558.1,162.4 L559.1,162.2 L560.0,161.6 L560.9,163.3 L561.9,161.9 L562.8,161.6 L563.7,161.1 L564.7,162.2 L565.6,162.3 L566.6,162.0 L567.5,162.8 L568.4,162.3 L569.4,161.8 L570.3,161.9 L571.2,163.1 L572.2,162.5 L573.1,164.1 L574.0,161.5 L575.0,162.7 L575.9,162.0 L576.9,163.2 L577.8,162.3 L578.7,161.8 L579.7,161.3 L580.6,163.5 L581.5,161.5 L582.5,162.4 L583.4,163.0 L584.4,161.8 L585.3,162.5 L586.2,162.5 L587.2,162.9 L588.1,162.1 L589.0,162.2 L590.0,162.4 L590.9,163.2 L591.8,162.8 L592.8,161.9 L593.7,161.1 L594.7,162.3 L595.6,161.0 L596.5,162.3 L597.5,163.3 L598.4,161.7 L599.3,163.2 L600.3,161.9 L601.2,161.3 L602.1,162.6 L603.1,162.4 L604.0,160.0 L605.0,162.1 L605.9,162.1 L606.8,161.6 L607.8,162.4 L608.7,162.4 L609.6,162.0 L610.6,164.5 L611.5,161.0 L612.5,163.3 L613.4,163.3 L614.3,161.8" fill="none" stroke="#3a1418" stroke-width="0.95"/>
<path d="M450.4,57.6 L451.3,67.7 L452.3,74.6 L453.2,83.3 L454.1,89.7 L455.1,96.7 L456.0,101.7 L457.0,105.7 L457.9,110.6 L458.8,114.7 L459.8,118.1 L460.7,122.5 L461.6,126.3 L462.6,128.9 L463.5,129.8 L464.5,133.7 L465.4,135.7 L466.3,138.1 L467.3,139.6 L468.2,141.2 L469.1,143.1 L470.1,144.6 L471.0,146.5 L471.9,147.7 L472.9,147.6 L473.8,148.3 L474.8,149.0 L475.7,150.6 L476.6,152.1 L477.6,151.4 L478.5,152.0 L479.4,154.5 L480.4,152.9 L481.3,153.6 L482.2,153.0 L483.2,156.0 L484.1,156.4 L485.1,154.9 L486.0,157.5 L486.9,156.8 L487.9,157.4 L488.8,157.5 L489.7,158.5 L490.7,157.2 L491.6,156.2 L492.6,156.9 L493.5,157.0 L494.4,157.9 L495.4,156.3 L496.3,157.3 L497.2,156.9 L498.2,159.3 L499.1,157.7 L500.0,159.1 L501.0,157.8 L501.9,158.0 L502.9,159.3 L503.8,158.1 L504.7,157.3 L505.7,157.9 L506.6,157.9 L507.5,159.2 L508.5,159.1 L509.4,159.5 L510.3,158.4 L511.3,157.5 L512.2,158.2 L513.2,158.6 L514.1,159.6 L515.0,158.2 L516.0,158.9 L516.9,160.4 L517.8,160.2 L518.8,159.0 L519.7,159.5 L520.7,157.2 L521.6,158.7 L522.5,159.7 L523.5,159.2 L524.4,157.3 L525.3,159.6 L526.3,158.0 L527.2,158.3 L528.1,157.4 L529.1,158.3 L530.0,159.1 L531.0,158.3 L531.9,158.7 L532.8,157.9 L533.8,158.8 L534.7,156.9 L535.6,158.9 L536.6,158.4 L537.5,159.4 L538.5,158.6 L539.4,158.7 L540.3,158.6 L541.3,157.9 L542.2,159.3 L543.1,159.5 L544.1,157.7 L545.0,159.0 L545.9,159.4 L546.9,157.7 L547.8,158.1 L548.8,161.2 L549.7,159.1 L550.6,158.0 L551.6,158.0 L552.5,159.2 L553.4,157.3 L554.4,159.5 L555.3,159.0 L556.2,158.6 L557.2,158.8 L558.1,158.0 L559.1,157.8 L560.0,158.8 L560.9,157.5 L561.9,159.4 L562.8,159.0 L563.7,157.2 L564.7,158.7 L565.6,157.8 L566.6,159.2 L567.5,159.0 L568.4,158.9 L569.4,158.6 L570.3,159.1 L571.2,158.7 L572.2,158.1 L573.1,157.6 L574.0,158.7 L575.0,158.2 L575.9,157.9 L576.9,159.7 L577.8,160.2 L578.7,157.3 L579.7,157.5 L580.6,158.7 L581.5,158.4 L582.5,159.6 L583.4,160.0 L584.4,158.5 L585.3,160.1 L586.2,157.9 L587.2,159.4 L588.1,158.5 L589.0,157.0 L590.0,157.0 L590.9,159.0 L591.8,157.8 L592.8,159.7 L593.7,159.3 L594.7,158.4 L595.6,157.5 L596.5,159.3 L597.5,158.3 L598.4,158.7 L599.3,159.9 L600.3,158.9 L601.2,157.4 L602.1,158.8 L603.1,158.3 L604.0,158.0 L605.0,159.4 L605.9,157.6 L606.8,157.4 L607.8,157.3 L608.7,157.6 L609.6,159.2 L610.6,159.3 L611.5,159.5 L612.5,159.6 L613.4,159.5 L614.3,157.9" fill="none" stroke="#3a1418" stroke-width="0.95"/>
<rect x="450.4" y="37.8" width="199.1" height="153.7" fill="none" stroke="#7a7a7a" stroke-width="1"/>
<line x1="463.7" y1="37.8" x2="463.7" y2="41.4" stroke="#7a7a7a" stroke-width="1"/>
<line x1="463.7" y1="191.5" x2="463.7" y2="187.9" stroke="#7a7a7a" stroke-width="1"/>
<line x1="476.9" y1="37.8" x2="476.9" y2="41.4" stroke="#7a7a7a" stroke-width="1"/>
<line x1="476.9" y1="191.5" x2="476.9" y2="187.9" stroke="#7a7a7a" stroke-width="1"/>
<line x1="490.2" y1="37.8" x2="490.2" y2="41.4" stroke="#7a7a7a" stroke-width="1"/>
<line x1="490.2" y1="191.5" x2="490.2" y2="187.9" stroke="#7a7a7a" stroke-width="1"/>
<line x1="503.5" y1="37.8" x2="503.5" y2="41.4" stroke="#7a7a7a" stroke-width="1"/>
<line x1="503.5" y1="191.5" x2="503.5" y2="187.9" stroke="#7a7a7a" stroke-width="1"/>
<line x1="516.8" y1="37.8" x2="516.8" y2="43.3" stroke="#7a7a7a" stroke-width="1"/>
<line x1="516.8" y1="191.5" x2="516.8" y2="186.0" stroke="#7a7a7a" stroke-width="1"/>
<line x1="530.0" y1="37.8" x2="530.0" y2="41.4" stroke="#7a7a7a" stroke-width="1"/>
<line x1="530.0" y1="191.5" x2="530.0" y2="187.9" stroke="#7a7a7a" stroke-width="1"/>
<line x1="543.3" y1="37.8" x2="543.3" y2="41.4" stroke="#7a7a7a" stroke-width="1"/>
<line x1="543.3" y1="191.5" x2="543.3" y2="187.9" stroke="#7a7a7a" stroke-width="1"/>
<line x1="556.6" y1="37.8" x2="556.6" y2="41.4" stroke="#7a7a7a" stroke-width="1"/>
<line x1="556.6" y1="191.5" x2="556.6" y2="187.9" stroke="#7a7a7a" stroke-width="1"/>
<line x1="569.9" y1="37.8" x2="569.9" y2="41.4" stroke="#7a7a7a" stroke-width="1"/>
<line x1="569.9" y1="191.5" x2="569.9" y2="187.9" stroke="#7a7a7a" stroke-width="1"/>
<line x1="583.1" y1="37.8" x2="583.1" y2="43.3" stroke="#7a7a7a" stroke-width="1"/>
<line x1="583.1" y1="191.5" x2="583.1" y2="186.0" stroke="#7a7a7a" stroke-width="1"/>
<line x1="596.4" y1="37.8" x2="596.4" y2="41.4" stroke="#7a7a7a" stroke-width="1"/>
<line x1="596.4" y1="191.5" x2="596.4" y2="187.9" stroke="#7a7a7a" stroke-width="1"/>
<line x1="609.7" y1="37.8" x2="609.7" y2="41.4" stroke="#7a7a7a" stroke-width="1"/>
<line x1="609.7" y1="191.5" x2="609.7" y2="187.9" stroke="#7a7a7a" stroke-width="1"/>
<line x1="623.0" y1="37.8" x2="623.0" y2="41.4" stroke="#7a7a7a" stroke-width="1"/>
<line x1="623.0" y1="191.5" x2="623.0" y2="187.9" stroke="#7a7a7a" stroke-width="1"/>
<line x1="636.2" y1="37.8" x2="636.2" y2="41.4" stroke="#7a7a7a" stroke-width="1"/>
<line x1="636.2" y1="191.5" x2="636.2" y2="187.9" stroke="#7a7a7a" stroke-width="1"/>
<line x1="450.4" y1="169.5" x2="454.4" y2="169.5" stroke="#7a7a7a" stroke-width="1"/>
<line x1="649.5" y1="169.5" x2="645.5" y2="169.5" stroke="#7a7a7a" stroke-width="1"/>
<line x1="450.4" y1="147.6" x2="454.4" y2="147.6" stroke="#7a7a7a" stroke-width="1"/>
<line x1="649.5" y1="147.6" x2="645.5" y2="147.6" stroke="#7a7a7a" stroke-width="1"/>
<line x1="450.4" y1="125.6" x2="454.4" y2="125.6" stroke="#7a7a7a" stroke-width="1"/>
<line x1="649.5" y1="125.6" x2="645.5" y2="125.6" stroke="#7a7a7a" stroke-width="1"/>
<line x1="450.4" y1="103.7" x2="454.4" y2="103.7" stroke="#7a7a7a" stroke-width="1"/>
<line x1="649.5" y1="103.7" x2="645.5" y2="103.7" stroke="#7a7a7a" stroke-width="1"/>
<line x1="450.4" y1="81.7" x2="454.4" y2="81.7" stroke="#7a7a7a" stroke-width="1"/>
<line x1="649.5" y1="81.7" x2="645.5" y2="81.7" stroke="#7a7a7a" stroke-width="1"/>
<line x1="450.4" y1="59.8" x2="454.4" y2="59.8" stroke="#7a7a7a" stroke-width="1"/>
<line x1="649.5" y1="59.8" x2="645.5" y2="59.8" stroke="#7a7a7a" stroke-width="1"/>
<text x="446.4" y="62.7" font-size="9.8" text-anchor="end" fill="#333">1</text>
<text x="446.4" y="106.6" font-size="9.8" text-anchor="end" fill="#333">0.8</text>
<text x="446.4" y="150.5" font-size="9.8" text-anchor="end" fill="#333">0.6</text>
<text x="446.4" y="194.4" font-size="9.8" text-anchor="end" fill="#333">0.4</text>
<text x="450.4" y="204.9" font-size="9.2" text-anchor="middle" fill="#333">0</text>
<text x="516.8" y="204.9" font-size="9.2" text-anchor="middle" fill="#333">5000</text>
<text x="583.1" y="204.9" font-size="9.2" text-anchor="middle" fill="#333">10000</text>
<text x="649.5" y="204.9" font-size="9.2" text-anchor="middle" fill="#333">15000</text>
<text x="552.2" y="215.9" font-size="10.8" text-anchor="middle" fill="#333">t/s</text>
<text x="425.9" y="121.2" font-size="11" text-anchor="middle" fill="#333" textLength="102.0" lengthAdjust="spacingAndGlyphs" transform="rotate(-90 425.9 121.2)">relative fluorescence</text>
<text x="595.2" y="57.2" font-size="10.4" fill="#333">control</text>
<path d="M595.2,55.2 L593.0,59.0 L591.6,62.6" fill="none" stroke="#333" stroke-width="0.8"/>
<text x="541.0" y="91.0" font-size="10.4" fill="#333">500 µM I288</text>
<path d="M545.4,78.9 L544.6,73.0 L544.2,67.0" fill="none" stroke="#333" stroke-width="0.8"/>
<text x="490.0" y="126.5" font-size="10.4" fill="#333">500 µM I288</text>
<text x="490.0" y="138.1" font-size="10.4" fill="#333">+ 500 µM cAMP</text>
<path d="M487.0,129.3 L484.0,133.0 L481.1,136.7" fill="none" stroke="#333" stroke-width="0.8"/>
<text x="468.4" y="171.5" font-size="10.4" fill="#333">500 µM cAMP</text>
<path d="M472.2,161.9 L473.5,156.5 L475.2,151.5" fill="none" stroke="#333" stroke-width="0.8"/>
<text x="143.6" y="243.3" font-size="22" font-weight="bold" textLength="46.0" lengthAdjust="spacingAndGlyphs">I516</text>
<path d="M151.0,281.1 L152.7,281.1 L154.4,281.2 L156.0,281.3 L157.7,281.3 L159.4,281.4 L161.1,281.4 L162.7,281.5 L164.4,281.6 L166.1,281.6 L167.8,281.7 L169.4,281.7 L171.1,281.8 L172.8,281.9 L174.5,281.9 L176.1,282.0 L177.8,282.0 L179.5,282.1 L181.2,282.2 L182.8,282.2 L184.5,282.3 L186.2,282.3 L187.9,282.4 L189.5,282.5 L191.2,282.5 L192.9,282.6 L194.6,282.6 L196.2,282.7 L197.9,282.8 L199.6,282.8 L201.3,282.9 L202.9,283.0 L204.6,283.0 L206.3,283.1 L208.0,283.1 L209.6,283.2 L211.3,283.3 L213.0,283.3 L214.7,283.4 L216.3,283.4 L218.0,283.5 L219.7,283.6 L221.4,283.6 L223.1,283.7 L224.7,283.7 L226.4,283.8 L228.1,283.9 L229.8,283.9 L231.4,284.0 L233.1,284.0 L234.8,284.1 L236.5,284.2 L238.1,284.2 L239.8,284.3 L241.5,284.3 L243.2,284.4 L244.8,284.5 L246.5,284.5 L248.2,284.6 L249.9,284.6 L251.5,284.7 L253.2,284.8 L254.9,284.8 L256.6,284.9 L258.2,285.0 L259.9,285.0 L261.6,285.1 L263.3,285.1 L264.9,285.2 L266.6,285.3 L268.3,285.3 L270.0,285.4 L271.6,285.4 L273.3,285.5 L275.0,285.6 L276.7,285.6 L278.3,285.7 L280.0,285.7 L281.7,285.8 L283.4,285.9 L285.1,285.9 L286.7,286.0 L288.4,286.0 L290.1,286.1 L291.8,286.2 L293.4,286.2 L295.1,286.3 L296.8,286.3 L298.5,286.4 L300.1,286.5 L301.8,286.5 L303.5,286.6 L305.2,286.6 L306.8,286.7 L308.5,286.8 L310.2,286.8 L311.9,286.9 L313.5,287.0 L315.2,287.0 L316.9,287.1 L318.6,287.1 L320.2,287.2 L321.9,287.3 L323.6,287.3 L325.3,287.4 L326.9,287.4 L328.6,287.5 L330.3,287.6 L332.0,287.6 L333.6,287.7 L335.3,287.7 L337.0,287.8 L338.7,287.9 L340.3,287.9 L342.0,288.0 L343.7,288.0 L345.4,288.1 L347.0,288.2 L348.7,288.2 L350.4,288.3" fill="none" stroke="#e8404c" stroke-width="1.1"/>
<path d="M151.0,281.1 L152.7,281.3 L154.4,281.5 L156.0,281.6 L157.7,281.8 L159.4,282.0 L161.1,282.2 L162.7,282.4 L164.4,282.6 L166.1,282.8 L167.8,283.0 L169.4,283.2 L171.1,283.4 L172.8,283.6 L174.5,283.7 L176.1,283.9 L177.8,284.1 L179.5,284.3 L181.2,284.5 L182.8,284.7 L184.5,284.9 L186.2,285.1 L187.9,285.3 L189.5,285.5 L191.2,285.7 L192.9,285.8 L194.6,286.0 L196.2,286.2 L197.9,286.4 L199.6,286.6 L201.3,286.8 L202.9,287.0 L204.6,287.2 L206.3,287.4 L208.0,287.6 L209.6,287.8 L211.3,287.9 L213.0,288.1 L214.7,288.3 L216.3,288.5 L218.0,288.7 L219.7,288.9 L221.4,289.1 L223.1,289.3 L224.7,289.5 L226.4,289.7 L228.1,289.9 L229.8,290.0 L231.4,290.2 L233.1,290.4 L234.8,290.6 L236.5,290.8 L238.1,291.0 L239.8,291.2 L241.5,291.4 L243.2,291.6 L244.8,291.8 L246.5,292.0 L248.2,292.2 L249.9,292.3 L251.5,292.5 L253.2,292.7 L254.9,292.9 L256.6,293.1 L258.2,293.3 L259.9,293.5 L261.6,293.7 L263.3,293.9 L264.9,294.1 L266.6,294.3 L268.3,294.4 L270.0,294.6 L271.6,294.8 L273.3,295.0 L275.0,295.2 L276.7,295.4 L278.3,295.6 L280.0,295.8 L281.7,296.0 L283.4,296.2 L285.1,296.4 L286.7,296.5 L288.4,296.7 L290.1,296.9 L291.8,297.1 L293.4,297.3 L295.1,297.5 L296.8,297.7 L298.5,297.9 L300.1,298.1 L301.8,298.3 L303.5,298.5 L305.2,298.6 L306.8,298.8 L308.5,299.0 L310.2,299.2 L311.9,299.4 L313.5,299.6 L315.2,299.8 L316.9,300.0 L318.6,300.2 L320.2,300.4 L321.9,300.6 L323.6,300.7 L325.3,300.9 L326.9,301.1 L328.6,301.3 L330.3,301.5 L332.0,301.7 L333.6,301.9 L335.3,302.1 L337.0,302.3 L338.7,302.5 L340.3,302.7 L342.0,302.8 L343.7,303.0 L345.4,303.2 L347.0,303.4 L348.7,303.6 L350.4,303.8" fill="none" stroke="#e8404c" stroke-width="1.1"/>
<path d="M151.0,281.1 L152.7,294.1 L154.4,305.3 L156.0,314.8 L157.7,323.0 L159.4,329.9 L161.1,335.9 L162.7,340.9 L164.4,345.3 L166.1,349.0 L167.8,352.1 L169.4,354.8 L171.1,357.2 L172.8,359.1 L174.5,360.8 L176.1,362.3 L177.8,363.5 L179.5,364.5 L181.2,365.4 L182.8,366.2 L184.5,366.9 L186.2,367.4 L187.9,367.9 L189.5,368.3 L191.2,368.6 L192.9,368.9 L194.6,369.2 L196.2,369.4 L197.9,369.6 L199.6,369.8 L201.3,369.9 L202.9,370.0 L204.6,370.1 L206.3,370.2 L208.0,370.3 L209.6,370.3 L211.3,370.4 L213.0,370.4 L214.7,370.5 L216.3,370.5 L218.0,370.5 L219.7,370.5 L221.4,370.6 L223.1,370.6 L224.7,370.6 L226.4,370.6 L228.1,370.6 L229.8,370.6 L231.4,370.6 L233.1,370.6 L234.8,370.7 L236.5,370.7 L238.1,370.7 L239.8,370.7 L241.5,370.7 L243.2,370.7 L244.8,370.7 L246.5,370.7 L248.2,370.7 L249.9,370.7 L251.5,370.7 L253.2,370.7 L254.9,370.7 L256.6,370.7 L258.2,370.7 L259.9,370.7 L261.6,370.7 L263.3,370.7 L264.9,370.7 L266.6,370.7 L268.3,370.7 L270.0,370.7 L271.6,370.7 L273.3,370.7 L275.0,370.7 L276.7,370.7 L278.3,370.7 L280.0,370.7 L281.7,370.7 L283.4,370.7 L285.1,370.7 L286.7,370.7 L288.4,370.7 L290.1,370.7 L291.8,370.7 L293.4,370.7 L295.1,370.7 L296.8,370.7 L298.5,370.7 L300.1,370.7 L301.8,370.7 L303.5,370.7 L305.2,370.7 L306.8,370.7 L308.5,370.7 L310.2,370.7 L311.9,370.7 L313.5,370.7 L315.2,370.7 L316.9,370.7 L318.6,370.7 L320.2,370.7 L321.9,370.7 L323.6,370.7 L325.3,370.7 L326.9,370.7 L328.6,370.7 L330.3,370.7 L332.0,370.7 L333.6,370.7 L335.3,370.7 L337.0,370.7 L338.7,370.7 L340.3,370.7 L342.0,370.7 L343.7,370.7 L345.4,370.7 L347.0,370.7 L348.7,370.7 L350.4,370.7" fill="none" stroke="#e8404c" stroke-width="1.1"/>
<path d="M151.0,281.1 L152.7,294.6 L154.4,306.2 L156.0,316.1 L157.7,324.6 L159.4,331.8 L161.1,338.0 L162.7,343.3 L164.4,347.8 L166.1,351.6 L167.8,354.9 L169.4,357.7 L171.1,360.1 L172.8,362.2 L174.5,363.9 L176.1,365.4 L177.8,366.7 L179.5,367.8 L181.2,368.7 L182.8,369.5 L184.5,370.2 L186.2,370.8 L187.9,371.3 L189.5,371.7 L191.2,372.1 L192.9,372.4 L194.6,372.6 L196.2,372.9 L197.9,373.1 L199.6,373.2 L201.3,373.4 L202.9,373.5 L204.6,373.6 L206.3,373.7 L208.0,373.7 L209.6,373.8 L211.3,373.9 L213.0,373.9 L214.7,373.9 L216.3,374.0 L218.0,374.0 L219.7,374.0 L221.4,374.1 L223.1,374.1 L224.7,374.1 L226.4,374.1 L228.1,374.1 L229.8,374.1 L231.4,374.1 L233.1,374.1 L234.8,374.1 L236.5,374.2 L238.1,374.2 L239.8,374.2 L241.5,374.2 L243.2,374.2 L244.8,374.2 L246.5,374.2 L248.2,374.2 L249.9,374.2 L251.5,374.2 L253.2,374.2 L254.9,374.2 L256.6,374.2 L258.2,374.2 L259.9,374.2 L261.6,374.2 L263.3,374.2 L264.9,374.2 L266.6,374.2 L268.3,374.2 L270.0,374.2 L271.6,374.2 L273.3,374.2 L275.0,374.2 L276.7,374.2 L278.3,374.2 L280.0,374.2 L281.7,374.2 L283.4,374.2 L285.1,374.2 L286.7,374.2 L288.4,374.2 L290.1,374.2 L291.8,374.2 L293.4,374.2 L295.1,374.2 L296.8,374.2 L298.5,374.2 L300.1,374.2 L301.8,374.2 L303.5,374.2 L305.2,374.2 L306.8,374.2 L308.5,374.2 L310.2,374.2 L311.9,374.2 L313.5,374.2 L315.2,374.2 L316.9,374.2 L318.6,374.2 L320.2,374.2 L321.9,374.2 L323.6,374.2 L325.3,374.2 L326.9,374.2 L328.6,374.2 L330.3,374.2 L332.0,374.2 L333.6,374.2 L335.3,374.2 L337.0,374.2 L338.7,374.2 L340.3,374.2 L342.0,374.2 L343.7,374.2 L345.4,374.2 L347.0,374.2 L348.7,374.2 L350.4,374.2" fill="none" stroke="#e8404c" stroke-width="1.1"/>
<path d="M151.0,279.7 L151.9,281.7 L152.9,280.4 L153.8,282.3 L154.7,281.5 L155.7,282.1 L156.6,282.7 L157.6,281.2 L158.5,281.3 L159.4,281.7 L160.4,281.9 L161.3,282.3 L162.2,281.6 L163.2,282.0 L164.1,281.3 L165.0,282.7 L166.0,281.4 L166.9,281.2 L167.9,280.5 L168.8,280.7 L169.7,281.6 L170.7,282.4 L171.6,283.5 L172.5,281.8 L173.5,280.6 L174.4,280.4 L175.3,284.3 L176.3,282.7 L177.2,282.3 L178.1,283.0 L179.1,281.9 L180.0,282.1 L181.0,282.6 L181.9,282.2 L182.8,283.7 L183.8,283.1 L184.7,283.1 L185.6,281.5 L186.6,283.8 L187.5,282.6 L188.4,281.7 L189.4,282.5 L190.3,281.7 L191.3,283.1 L192.2,282.2 L193.1,281.8 L194.1,280.6 L195.0,282.0 L195.9,281.4 L196.9,282.7 L197.8,282.7 L198.7,281.4 L199.7,282.3 L200.6,281.6 L201.6,282.2 L202.5,281.0 L203.4,280.8 L204.4,283.8 L205.3,281.3 L206.2,282.7 L207.2,282.7 L208.1,283.2 L209.0,282.5 L210.0,284.2 L210.9,283.9 L211.8,284.0 L212.8,283.0 L213.7,282.5 L214.7,282.7 L215.6,283.0 L216.5,284.0 L217.5,285.1 L218.4,283.1 L219.3,283.4 L220.3,283.2 L221.2,282.3 L222.1,283.8 L223.1,283.8 L224.0,285.8 L225.0,283.2 L225.9,283.8 L226.8,284.5 L227.8,283.5 L228.7,284.8 L229.6,284.4 L230.6,282.1 L231.5,283.3 L232.4,283.1 L233.4,283.3 L234.3,283.5 L235.3,283.9 L236.2,282.0 L237.1,284.2 L238.1,283.5 L239.0,284.4 L239.9,284.6 L240.9,286.5 L241.8,286.1 L242.7,282.9 L243.7,283.0 L244.6,284.8 L245.6,284.5 L246.5,283.9 L247.4,285.5 L248.4,283.0 L249.3,285.6 L250.2,285.3 L251.2,287.2 L252.1,283.3 L253.0,284.7 L254.0,283.3 L254.9,285.7 L255.8,284.5 L256.8,284.8 L257.7,284.7 L258.7,283.0 L259.6,282.9 L260.5,283.8 L261.5,285.4 L262.4,284.3 L263.3,283.9 L264.3,284.6 L265.2,284.7 L266.1,284.8 L267.1,286.1 L268.0,285.1 L269.0,283.9 L269.9,286.3 L270.8,285.3 L271.8,284.7 L272.7,286.7 L273.6,285.6 L274.6,287.1 L275.5,286.1 L276.4,286.9 L277.4,286.5 L278.3,286.1 L279.3,286.0 L280.2,285.9 L281.1,288.0 L282.1,284.3 L283.0,286.1 L283.9,286.9 L284.9,286.5 L285.8,285.7 L286.7,286.9 L287.7,286.4 L288.6,286.5 L289.6,285.6 L290.5,286.8 L291.4,285.7 L292.4,285.9 L293.3,286.4 L294.2,285.1 L295.2,286.3 L296.1,287.4 L297.0,286.1 L298.0,286.3 L298.9,286.5 L299.8,286.2 L300.8,284.3 L301.7,286.3 L302.7,286.1 L303.6,286.8 L304.5,285.4 L305.5,286.7 L306.4,287.4 L307.3,287.8 L308.3,286.3 L309.2,286.1 L310.1,288.3 L311.1,287.5 L312.0,286.3 L313.0,286.0 L313.9,288.2 L314.8,287.4 L315.8,286.3 L316.7,287.6 L317.6,287.5 L318.6,287.6 L319.5,288.4 L320.4,287.2 L321.4,287.0 L322.3,288.6 L323.3,287.2 L324.2,286.3 L325.1,287.2 L326.1,286.5 L327.0,287.9 L327.9,286.2 L328.9,288.2 L329.8,285.8 L330.7,288.0 L331.7,288.3 L332.6,288.5 L333.5,288.1 L334.5,288.2 L335.4,288.4 L336.4,288.1 L337.3,287.2 L338.2,287.0 L339.2,288.2 L340.1,286.8 L341.0,288.9 L342.0,288.9 L342.9,289.1 L343.8,287.5 L344.8,289.5 L345.7,289.4 L346.7,287.0 L347.6,286.6 L348.5,287.0 L349.5,289.6 L350.4,288.3" fill="none" stroke="#3a1418" stroke-width="0.95"/>
<path d="M151.0,280.3 L151.9,281.1 L152.9,282.8 L153.8,281.7 L154.7,283.1 L155.7,282.7 L156.6,279.7 L157.6,281.2 L158.5,283.3 L159.4,283.4 L160.4,281.7 L161.3,282.8 L162.2,281.8 L163.2,283.1 L164.1,282.8 L165.0,282.5 L166.0,283.7 L166.9,284.7 L167.9,284.1 L168.8,283.7 L169.7,283.4 L170.7,283.4 L171.6,283.5 L172.5,283.1 L173.5,284.5 L174.4,282.5 L175.3,282.0 L176.3,283.6 L177.2,283.9 L178.1,283.0 L179.1,283.7 L180.0,284.2 L181.0,284.7 L181.9,285.3 L182.8,285.8 L183.8,284.2 L184.7,283.8 L185.6,286.0 L186.6,285.2 L187.5,285.0 L188.4,285.7 L189.4,286.2 L190.3,285.9 L191.3,287.5 L192.2,285.8 L193.1,286.2 L194.1,284.1 L195.0,285.2 L195.9,286.5 L196.9,286.3 L197.8,284.8 L198.7,285.1 L199.7,286.5 L200.6,286.9 L201.6,288.2 L202.5,287.3 L203.4,287.2 L204.4,287.8 L205.3,285.7 L206.2,289.1 L207.2,287.6 L208.1,287.2 L209.0,287.3 L210.0,286.3 L210.9,289.2 L211.8,288.7 L212.8,288.0 L213.7,288.1 L214.7,288.7 L215.6,289.2 L216.5,287.6 L217.5,289.6 L218.4,289.3 L219.3,287.6 L220.3,287.4 L221.2,288.3 L222.1,290.0 L223.1,290.1 L224.0,290.2 L225.0,290.6 L225.9,290.0 L226.8,288.6 L227.8,289.6 L228.7,290.6 L229.6,290.8 L230.6,291.2 L231.5,289.2 L232.4,292.2 L233.4,290.2 L234.3,291.9 L235.3,291.7 L236.2,292.2 L237.1,290.0 L238.1,291.1 L239.0,288.6 L239.9,292.2 L240.9,292.3 L241.8,290.9 L242.7,291.0 L243.7,291.9 L244.6,293.6 L245.6,290.6 L246.5,291.5 L247.4,291.7 L248.4,292.7 L249.3,291.7 L250.2,292.9 L251.2,292.5 L252.1,292.8 L253.0,291.6 L254.0,293.3 L254.9,293.3 L255.8,292.1 L256.8,293.0 L257.7,293.3 L258.7,293.6 L259.6,292.6 L260.5,294.2 L261.5,293.3 L262.4,292.0 L263.3,293.6 L264.3,294.8 L265.2,295.2 L266.1,294.1 L267.1,295.5 L268.0,295.9 L269.0,295.3 L269.9,295.7 L270.8,294.0 L271.8,296.2 L272.7,293.5 L273.6,295.8 L274.6,295.1 L275.5,294.7 L276.4,295.2 L277.4,294.9 L278.3,296.6 L279.3,297.8 L280.2,296.0 L281.1,297.5 L282.1,296.6 L283.0,295.3 L283.9,296.5 L284.9,296.9 L285.8,297.5 L286.7,296.9 L287.7,296.9 L288.6,298.3 L289.6,296.7 L290.5,298.0 L291.4,297.0 L292.4,297.7 L293.3,296.5 L294.2,296.7 L295.2,297.6 L296.1,297.8 L297.0,297.4 L298.0,296.6 L298.9,297.0 L299.8,298.0 L300.8,297.9 L301.7,296.9 L302.7,299.9 L303.6,298.0 L304.5,299.5 L305.5,297.5 L306.4,299.3 L307.3,299.0 L308.3,300.0 L309.2,299.1 L310.1,298.5 L311.1,297.8 L312.0,300.6 L313.0,300.0 L313.9,296.1 L314.8,298.9 L315.8,299.9 L316.7,299.5 L317.6,302.5 L318.6,298.7 L319.5,300.1 L320.4,301.7 L321.4,299.4 L322.3,301.2 L323.3,301.7 L324.2,300.3 L325.1,300.6 L326.1,301.5 L327.0,301.2 L327.9,302.5 L328.9,302.7 L329.8,300.6 L330.7,300.4 L331.7,301.3 L332.6,301.4 L333.5,302.2 L334.5,302.1 L335.4,303.0 L336.4,300.6 L337.3,302.8 L338.2,302.0 L339.2,302.5 L340.1,303.9 L341.0,301.0 L342.0,303.2 L342.9,303.7 L343.8,303.0 L344.8,304.0 L345.7,303.2 L346.7,304.3 L347.6,303.0 L348.5,303.5 L349.5,305.0 L350.4,302.9" fill="none" stroke="#3a1418" stroke-width="0.95"/>
<path d="M151.0,280.9 L151.9,289.6 L152.9,295.2 L153.8,301.5 L154.7,306.0 L155.7,313.8 L156.6,317.1 L157.6,322.4 L158.5,325.8 L159.4,330.4 L160.4,333.6 L161.3,336.2 L162.2,340.6 L163.2,344.1 L164.1,344.6 L165.0,347.2 L166.0,348.7 L166.9,350.0 L167.9,352.5 L168.8,352.8 L169.7,355.3 L170.7,356.5 L171.6,357.0 L172.5,358.3 L173.5,359.9 L174.4,360.6 L175.4,362.3 L176.3,362.9 L177.2,363.0 L178.2,362.9 L179.1,364.7 L180.0,364.0 L181.0,363.5 L181.9,363.8 L182.8,366.1 L183.8,365.6 L184.7,366.3 L185.7,366.5 L186.6,366.7 L187.5,367.3 L188.5,367.2 L189.4,368.0 L190.3,368.7 L191.3,368.4 L192.2,368.3 L193.1,367.8 L194.1,368.7 L195.0,368.5 L196.0,368.0 L196.9,370.3 L197.8,369.8 L198.8,369.1 L199.7,369.7 L200.6,370.7 L201.6,369.0 L202.5,370.0 L203.4,370.9 L204.4,368.3 L205.3,371.3 L206.3,370.2 L207.2,370.8 L208.1,370.1 L209.1,369.7 L210.0,371.0 L210.9,370.4 L211.9,370.5 L212.8,371.3 L213.8,369.3 L214.7,370.3 L215.6,370.7 L216.6,371.1 L217.5,370.8 L218.4,370.4 L219.4,370.9 L220.3,369.4 L221.2,372.9 L222.2,372.5 L223.1,370.8 L224.1,372.2 L225.0,370.6 L225.9,371.2 L226.9,370.0 L227.8,370.2 L228.7,369.4 L229.7,369.7 L230.6,369.4 L231.5,370.1 L232.5,369.6 L233.4,370.1 L234.4,371.2 L235.3,371.8 L236.2,371.7 L237.2,370.2 L238.1,372.8 L239.0,370.5 L240.0,371.3 L240.9,369.9 L241.8,370.4 L242.8,371.3 L243.7,370.6 L244.7,372.7 L245.6,370.4 L246.5,370.2 L247.5,372.3 L248.4,369.8 L249.3,370.7 L250.3,370.5 L251.2,371.9 L252.2,370.1 L253.1,370.1 L254.0,370.6 L255.0,371.5 L255.9,369.9 L256.8,369.5 L257.8,370.3 L258.7,369.7 L259.6,371.2 L260.6,370.5 L261.5,370.3 L262.5,370.5 L263.4,368.0 L264.3,370.2 L265.3,371.1 L266.2,369.9 L267.1,371.6 L268.1,370.3 L269.0,369.9 L269.9,371.1 L270.9,370.9 L271.8,371.5 L272.8,370.5 L273.7,371.2 L274.6,369.0 L275.6,370.0 L276.5,370.8 L277.4,371.9 L278.4,368.7 L279.3,369.4 L280.2,370.2 L281.2,370.4 L282.1,370.4 L283.1,371.0 L284.0,368.9 L284.9,370.4 L285.9,371.9 L286.8,371.2 L287.7,373.0 L288.7,370.0 L289.6,369.9 L290.5,369.0 L291.5,368.7 L292.4,371.3 L293.4,370.2 L294.3,369.7 L295.2,369.9 L296.2,371.1 L297.1,369.9 L298.0,370.1 L299.0,369.3 L299.9,370.6 L300.9,370.8 L301.8,371.1 L302.7,370.9 L303.7,371.3 L304.6,370.9 L305.5,370.1 L306.5,370.2 L307.4,369.4 L308.3,369.6 L309.3,370.0 L310.2,371.7 L311.2,370.1 L312.1,369.5 L313.0,371.8 L314.0,371.6 L314.9,371.5 L315.8,371.6 L316.8,370.9 L317.7,371.5 L318.6,370.3 L319.6,371.7 L320.5,370.7 L321.5,371.1 L322.4,371.5 L323.3,369.7 L324.3,370.6 L325.2,370.1 L326.1,370.9 L327.1,370.0 L328.0,370.1 L328.9,370.8 L329.9,372.3 L330.8,369.9 L331.8,370.0 L332.7,370.5 L333.6,370.4 L334.6,370.5 L335.5,370.5 L336.4,371.6" fill="none" stroke="#3a1418" stroke-width="0.95"/>
<path d="M151.0,281.1 L151.9,288.6 L152.9,296.6 L153.8,303.5 L154.7,307.0 L155.7,313.6 L156.6,319.5 L157.6,324.3 L158.5,330.5 L159.4,333.3 L160.4,335.8 L161.3,337.6 L162.2,343.7 L163.2,345.1 L164.1,345.2 L165.0,348.7 L166.0,351.0 L166.9,352.2 L167.9,355.2 L168.8,356.8 L169.7,357.5 L170.7,358.7 L171.6,361.7 L172.5,360.4 L173.5,364.5 L174.4,364.5 L175.4,361.9 L176.3,366.0 L177.2,365.6 L178.2,367.8 L179.1,367.8 L180.0,368.7 L181.0,368.9 L181.9,368.4 L182.8,367.9 L183.8,369.1 L184.7,368.8 L185.7,371.0 L186.6,369.5 L187.5,370.6 L188.5,370.1 L189.4,372.0 L190.3,372.0 L191.3,370.8 L192.2,371.6 L193.1,372.3 L194.1,373.1 L195.0,372.7 L196.0,372.3 L196.9,372.2 L197.8,373.5 L198.8,373.4 L199.7,372.8 L200.6,374.3 L201.6,372.5 L202.5,373.4 L203.4,373.6 L204.4,375.8 L205.3,375.1 L206.3,374.6 L207.2,374.2 L208.1,374.8 L209.1,373.4 L210.0,373.7 L210.9,374.1 L211.9,375.7 L212.8,372.6 L213.8,374.2 L214.7,373.4 L215.6,374.6 L216.6,374.0 L217.5,373.4 L218.4,373.8 L219.4,373.2 L220.3,374.2 L221.2,372.2 L222.2,375.8 L223.1,374.6 L224.1,373.2 L225.0,374.3 L225.9,374.5 L226.9,375.7 L227.8,373.0 L228.7,375.9 L229.7,373.7 L230.6,374.0 L231.5,373.3 L232.5,372.8 L233.4,374.8 L234.4,374.9 L235.3,374.5 L236.2,375.7 L237.2,373.4 L238.1,374.5 L239.0,374.0 L240.0,375.2 L240.9,374.2 L241.8,374.8 L242.8,374.3 L243.7,375.2 L244.7,373.3 L245.6,374.8 L246.5,376.5 L247.5,373.6 L248.4,374.5 L249.3,375.0 L250.3,371.9 L251.2,374.3 L252.2,375.4 L253.1,374.8 L254.0,373.9 L255.0,374.4 L255.9,373.1 L256.8,373.2 L257.8,374.9 L258.7,374.2 L259.6,373.6 L260.6,374.6 L261.5,374.6 L262.5,373.4 L263.4,373.8 L264.3,375.5 L265.3,374.7 L266.2,374.6 L267.1,374.3 L268.1,374.9 L269.0,373.0 L269.9,375.1 L270.9,375.2 L271.8,374.0 L272.8,376.3 L273.7,375.2 L274.6,373.6 L275.6,375.4 L276.5,375.0 L277.4,373.2 L278.4,373.8 L279.3,374.2 L280.2,374.0 L281.2,374.8 L282.1,373.9 L283.1,374.4 L284.0,371.9 L284.9,373.7 L285.9,374.5 L286.8,374.3 L287.7,374.2 L288.7,375.5 L289.6,375.0 L290.5,372.8 L291.5,375.5 L292.4,374.7 L293.4,373.3 L294.3,372.8 L295.2,375.1 L296.2,372.9 L297.1,374.5 L298.0,372.7 L299.0,373.7 L299.9,374.5 L300.9,373.5 L301.8,373.7 L302.7,374.9 L303.7,372.2 L304.6,374.5 L305.5,373.1 L306.5,374.6 L307.4,375.9 L308.3,375.2 L309.3,374.3 L310.2,373.6 L311.2,372.6 L312.1,374.1 L313.0,374.5 L314.0,375.3 L314.9,374.2 L315.8,373.9 L316.8,376.2 L317.7,373.0 L318.6,373.2 L319.6,372.1 L320.5,375.0 L321.5,374.2 L322.4,374.2 L323.3,375.4 L324.3,375.0 L325.2,375.1 L326.1,373.7 L327.1,373.8 L328.0,373.0 L328.9,374.6 L329.9,375.5 L330.8,373.8 L331.8,373.9 L332.7,373.6 L333.6,373.1 L334.6,374.7 L335.5,373.5 L336.4,375.1" fill="none" stroke="#3a1418" stroke-width="0.95"/>
<rect x="151.0" y="261.4" width="199.4" height="153.0" fill="none" stroke="#7a7a7a" stroke-width="1"/>
<line x1="164.3" y1="261.4" x2="164.3" y2="265.0" stroke="#7a7a7a" stroke-width="1"/>
<line x1="164.3" y1="414.4" x2="164.3" y2="410.8" stroke="#7a7a7a" stroke-width="1"/>
<line x1="177.6" y1="261.4" x2="177.6" y2="265.0" stroke="#7a7a7a" stroke-width="1"/>
<line x1="177.6" y1="414.4" x2="177.6" y2="410.8" stroke="#7a7a7a" stroke-width="1"/>
<line x1="190.9" y1="261.4" x2="190.9" y2="265.0" stroke="#7a7a7a" stroke-width="1"/>
<line x1="190.9" y1="414.4" x2="190.9" y2="410.8" stroke="#7a7a7a" stroke-width="1"/>
<line x1="204.2" y1="261.4" x2="204.2" y2="265.0" stroke="#7a7a7a" stroke-width="1"/>
<line x1="204.2" y1="414.4" x2="204.2" y2="410.8" stroke="#7a7a7a" stroke-width="1"/>
<line x1="217.5" y1="261.4" x2="217.5" y2="266.9" stroke="#7a7a7a" stroke-width="1"/>
<line x1="217.5" y1="414.4" x2="217.5" y2="408.9" stroke="#7a7a7a" stroke-width="1"/>
<line x1="230.8" y1="261.4" x2="230.8" y2="265.0" stroke="#7a7a7a" stroke-width="1"/>
<line x1="230.8" y1="414.4" x2="230.8" y2="410.8" stroke="#7a7a7a" stroke-width="1"/>
<line x1="244.1" y1="261.4" x2="244.1" y2="265.0" stroke="#7a7a7a" stroke-width="1"/>
<line x1="244.1" y1="414.4" x2="244.1" y2="410.8" stroke="#7a7a7a" stroke-width="1"/>
<line x1="257.3" y1="261.4" x2="257.3" y2="265.0" stroke="#7a7a7a" stroke-width="1"/>
<line x1="257.3" y1="414.4" x2="257.3" y2="410.8" stroke="#7a7a7a" stroke-width="1"/>
<line x1="270.6" y1="261.4" x2="270.6" y2="265.0" stroke="#7a7a7a" stroke-width="1"/>
<line x1="270.6" y1="414.4" x2="270.6" y2="410.8" stroke="#7a7a7a" stroke-width="1"/>
<line x1="283.9" y1="261.4" x2="283.9" y2="266.9" stroke="#7a7a7a" stroke-width="1"/>
<line x1="283.9" y1="414.4" x2="283.9" y2="408.9" stroke="#7a7a7a" stroke-width="1"/>
<line x1="297.2" y1="261.4" x2="297.2" y2="265.0" stroke="#7a7a7a" stroke-width="1"/>
<line x1="297.2" y1="414.4" x2="297.2" y2="410.8" stroke="#7a7a7a" stroke-width="1"/>
<line x1="310.5" y1="261.4" x2="310.5" y2="265.0" stroke="#7a7a7a" stroke-width="1"/>
<line x1="310.5" y1="414.4" x2="310.5" y2="410.8" stroke="#7a7a7a" stroke-width="1"/>
<line x1="323.8" y1="261.4" x2="323.8" y2="265.0" stroke="#7a7a7a" stroke-width="1"/>
<line x1="323.8" y1="414.4" x2="323.8" y2="410.8" stroke="#7a7a7a" stroke-width="1"/>
<line x1="337.1" y1="261.4" x2="337.1" y2="265.0" stroke="#7a7a7a" stroke-width="1"/>
<line x1="337.1" y1="414.4" x2="337.1" y2="410.8" stroke="#7a7a7a" stroke-width="1"/>
<line x1="151.0" y1="392.5" x2="155.0" y2="392.5" stroke="#7a7a7a" stroke-width="1"/>
<line x1="350.4" y1="392.5" x2="346.4" y2="392.5" stroke="#7a7a7a" stroke-width="1"/>
<line x1="151.0" y1="370.7" x2="155.0" y2="370.7" stroke="#7a7a7a" stroke-width="1"/>
<line x1="350.4" y1="370.7" x2="346.4" y2="370.7" stroke="#7a7a7a" stroke-width="1"/>
<line x1="151.0" y1="348.8" x2="155.0" y2="348.8" stroke="#7a7a7a" stroke-width="1"/>
<line x1="350.4" y1="348.8" x2="346.4" y2="348.8" stroke="#7a7a7a" stroke-width="1"/>
<line x1="151.0" y1="327.0" x2="155.0" y2="327.0" stroke="#7a7a7a" stroke-width="1"/>
<line x1="350.4" y1="327.0" x2="346.4" y2="327.0" stroke="#7a7a7a" stroke-width="1"/>
<line x1="151.0" y1="305.1" x2="155.0" y2="305.1" stroke="#7a7a7a" stroke-width="1"/>
<line x1="350.4" y1="305.1" x2="346.4" y2="305.1" stroke="#7a7a7a" stroke-width="1"/>
<line x1="151.0" y1="283.3" x2="155.0" y2="283.3" stroke="#7a7a7a" stroke-width="1"/>
<line x1="350.4" y1="283.3" x2="346.4" y2="283.3" stroke="#7a7a7a" stroke-width="1"/>
<text x="147.0" y="286.2" font-size="9.8" text-anchor="end" fill="#333">1</text>
<text x="147.0" y="329.9" font-size="9.8" text-anchor="end" fill="#333">0.8</text>
<text x="147.0" y="373.6" font-size="9.8" text-anchor="end" fill="#333">0.6</text>
<text x="147.0" y="417.3" font-size="9.8" text-anchor="end" fill="#333">0.4</text>
<text x="151.0" y="427.8" font-size="9.2" text-anchor="middle" fill="#333">0</text>
<text x="217.5" y="427.8" font-size="9.2" text-anchor="middle" fill="#333">5000</text>
<text x="283.9" y="427.8" font-size="9.2" text-anchor="middle" fill="#333">10000</text>
<text x="350.4" y="427.8" font-size="9.2" text-anchor="middle" fill="#333">15000</text>
<text x="253.0" y="438.8" font-size="10.8" text-anchor="middle" fill="#333">t/s</text>
<text x="126.5" y="344.4" font-size="11" text-anchor="middle" fill="#333" textLength="102.0" lengthAdjust="spacingAndGlyphs" transform="rotate(-90 126.5 344.4)">relative fluorescence</text>
<text x="296.7" y="280.0" font-size="10.4" fill="#333">control</text>
<path d="M295.2,278.7 L293.5,281.5 L292.2,284.6" fill="none" stroke="#333" stroke-width="0.8"/>
<text x="227.6" y="311.1" font-size="10.4" fill="#333">500 µM I516</text>
<path d="M230.6,300.9 L229.4,295.0 L228.5,289.0" fill="none" stroke="#333" stroke-width="0.8"/>
<text x="175.2" y="336.3" font-size="10.4" fill="#333">500 µM I516</text>
<text x="175.2" y="346.1" font-size="10.4" fill="#333">+ 500 µM cAMP</text>
<path d="M172.2,338.0 L170.0,341.7 L167.8,345.4" fill="none" stroke="#333" stroke-width="0.8"/>
<text x="168.4" y="383.1" font-size="10.4" fill="#333">500 µM cAMP</text>
<path d="M172.2,375.0 L173.0,370.0 L173.7,364.6" fill="none" stroke="#333" stroke-width="0.8"/>
<text x="430.9" y="243.6" font-size="22" font-weight="bold" textLength="46.0" lengthAdjust="spacingAndGlyphs">I942</text>
<path d="M451.4,280.2 L453.1,280.3 L454.7,280.4 L456.4,280.5 L458.1,280.6 L459.8,280.7 L461.4,280.8 L463.1,280.8 L464.8,280.9 L466.5,281.0 L468.1,281.1 L469.8,281.2 L471.5,281.3 L473.2,281.4 L474.8,281.5 L476.5,281.5 L478.2,281.6 L479.8,281.7 L481.5,281.8 L483.2,281.9 L484.9,282.0 L486.5,282.1 L488.2,282.1 L489.9,282.2 L491.6,282.3 L493.2,282.4 L494.9,282.5 L496.6,282.6 L498.2,282.7 L499.9,282.7 L501.6,282.8 L503.3,282.9 L504.9,283.0 L506.6,283.1 L508.3,283.2 L510.0,283.3 L511.6,283.3 L513.3,283.4 L515.0,283.5 L516.7,283.6 L518.3,283.7 L520.0,283.8 L521.7,283.9 L523.3,284.0 L525.0,284.0 L526.7,284.1 L528.4,284.2 L530.0,284.3 L531.7,284.4 L533.4,284.5 L535.1,284.6 L536.7,284.6 L538.4,284.7 L540.1,284.8 L541.7,284.9 L543.4,285.0 L545.1,285.1 L546.8,285.2 L548.4,285.2 L550.1,285.3 L551.8,285.4 L553.5,285.5 L555.1,285.6 L556.8,285.7 L558.5,285.8 L560.2,285.8 L561.8,285.9 L563.5,286.0 L565.2,286.1 L566.8,286.2 L568.5,286.3 L570.2,286.4 L571.9,286.5 L573.5,286.5 L575.2,286.6 L576.9,286.7 L578.6,286.8 L580.2,286.9 L581.9,287.0 L583.6,287.1 L585.2,287.1 L586.9,287.2 L588.6,287.3 L590.3,287.4 L591.9,287.5 L593.6,287.6 L595.3,287.7 L597.0,287.7 L598.6,287.8 L600.3,287.9 L602.0,288.0 L603.7,288.1 L605.3,288.2 L607.0,288.3 L608.7,288.3 L610.3,288.4 L612.0,288.5 L613.7,288.6 L615.4,288.7 L617.0,288.8 L618.7,288.9 L620.4,289.0 L622.1,289.0 L623.7,289.1 L625.4,289.2 L627.1,289.3 L628.7,289.4 L630.4,289.5 L632.1,289.6 L633.8,289.6 L635.4,289.7 L637.1,289.8 L638.8,289.9 L640.5,290.0 L642.1,290.1 L643.8,290.2 L645.5,290.2 L647.2,290.3 L648.8,290.4 L650.5,290.5" fill="none" stroke="#e8404c" stroke-width="1.1"/>
<path d="M451.4,280.2 L453.1,282.0 L454.7,283.7 L456.4,285.4 L458.1,287.0 L459.8,288.7 L461.4,290.3 L463.1,291.9 L464.8,293.4 L466.5,295.0 L468.1,296.5 L469.8,298.0 L471.5,299.4 L473.2,300.9 L474.8,302.3 L476.5,303.7 L478.2,305.1 L479.8,306.4 L481.5,307.7 L483.2,309.0 L484.9,310.3 L486.5,311.6 L488.2,312.9 L489.9,314.1 L491.6,315.3 L493.2,316.5 L494.9,317.7 L496.6,318.8 L498.2,320.0 L499.9,321.1 L501.6,322.2 L503.3,323.3 L504.9,324.3 L506.6,325.4 L508.3,326.4 L510.0,327.4 L511.6,328.4 L513.3,329.4 L515.0,330.4 L516.7,331.4 L518.3,332.3 L520.0,333.2 L521.7,334.1 L523.3,335.0 L525.0,335.9 L526.7,336.8 L528.4,337.6 L530.0,338.5 L531.7,339.3 L533.4,340.1 L535.1,340.9 L536.7,341.7 L538.4,342.5 L540.1,343.3 L541.7,344.0 L543.4,344.8 L545.1,345.5 L546.8,346.2 L548.4,346.9 L550.1,347.6 L551.8,348.3 L553.5,349.0 L555.1,349.7 L556.8,350.3 L558.5,351.0 L560.2,351.6 L561.8,352.2 L563.5,352.8 L565.2,353.4 L566.8,354.0 L568.5,354.6 L570.2,355.2 L571.9,355.8 L573.5,356.3 L575.2,356.9 L576.9,357.4 L578.6,358.0 L580.2,358.5 L581.9,359.0 L583.6,359.5 L585.2,360.0 L586.9,360.5 L588.6,361.0 L590.3,361.5 L591.9,361.9 L593.6,362.4 L595.3,362.9 L597.0,363.3 L598.6,363.7 L600.3,364.2 L602.0,364.6 L603.7,365.0 L605.3,365.4 L607.0,365.9 L608.7,366.3 L610.3,366.7 L612.0,367.0 L613.7,367.4 L615.4,367.8 L617.0,368.2 L618.7,368.5 L620.4,368.9 L622.1,369.3 L623.7,369.6 L625.4,369.9 L627.1,370.3 L628.7,370.6 L630.4,370.9 L632.1,371.3 L633.8,371.6 L635.4,371.9 L637.1,372.2 L638.8,372.5 L640.5,372.8 L642.1,373.1 L643.8,373.4 L645.5,373.7 L647.2,374.0 L648.8,374.2 L650.5,374.5" fill="none" stroke="#e8404c" stroke-width="1.1"/>
<path d="M451.4,280.2 L453.1,287.1 L454.7,293.5 L456.4,299.5 L458.1,305.2 L459.8,310.5 L461.4,315.5 L463.1,320.2 L464.8,324.6 L466.5,328.7 L468.1,332.6 L469.8,336.2 L471.5,339.7 L473.2,342.9 L474.8,345.9 L476.5,348.7 L478.2,351.4 L479.8,353.9 L481.5,356.2 L483.2,358.4 L484.9,360.5 L486.5,362.4 L488.2,364.2 L489.9,365.9 L491.6,367.6 L493.2,369.1 L494.9,370.5 L496.6,371.8 L498.2,373.1 L499.9,374.2 L501.6,375.3 L503.3,376.4 L504.9,377.3 L506.6,378.2 L508.3,379.1 L510.0,379.9 L511.6,380.6 L513.3,381.4 L515.0,382.0 L516.7,382.6 L518.3,383.2 L520.0,383.8 L521.7,384.3 L523.3,384.8 L525.0,385.2 L526.7,385.7 L528.4,386.1 L530.0,386.4 L531.7,386.8 L533.4,387.1 L535.1,387.4 L536.7,387.7 L538.4,388.0 L540.1,388.3 L541.7,388.5 L543.4,388.7 L545.1,388.9 L546.8,389.1 L548.4,389.3 L550.1,389.5 L551.8,389.7 L553.5,389.8 L555.1,390.0 L556.8,390.1 L558.5,390.2 L560.2,390.4 L561.8,390.5 L563.5,390.6 L565.2,390.7 L566.8,390.8 L568.5,390.9 L570.2,391.0 L571.9,391.0 L573.5,391.1 L575.2,391.2 L576.9,391.2 L578.6,391.3 L580.2,391.4 L581.9,391.4 L583.6,391.5 L585.2,391.5 L586.9,391.5 L588.6,391.6 L590.3,391.6 L591.9,391.7 L593.6,391.7 L595.3,391.7 L597.0,391.8 L598.6,391.8 L600.3,391.8 L602.0,391.8 L603.7,391.9 L605.3,391.9 L607.0,391.9 L608.7,391.9 L610.3,391.9 L612.0,392.0 L613.7,392.0 L615.4,392.0 L617.0,392.0 L618.7,392.0 L620.4,392.0 L622.1,392.0 L623.7,392.1 L625.4,392.1 L627.1,392.1 L628.7,392.1 L630.4,392.1 L632.1,392.1 L633.8,392.1 L635.4,392.1 L637.1,392.1 L638.8,392.1 L640.5,392.1 L642.1,392.1 L643.8,392.1 L645.5,392.2 L647.2,392.2 L648.8,392.2 L650.5,392.2" fill="none" stroke="#e8404c" stroke-width="1.1"/>
<path d="M451.4,280.2 L453.1,297.8 L454.7,312.5 L456.4,325.0 L458.1,335.5 L459.8,344.4 L461.4,351.9 L463.1,358.2 L464.8,363.5 L466.5,368.0 L468.1,371.8 L469.8,375.0 L471.5,377.7 L473.2,380.0 L474.8,381.9 L476.5,383.5 L478.2,384.9 L479.8,386.0 L481.5,387.0 L483.2,387.8 L484.9,388.5 L486.5,389.1 L488.2,389.6 L489.9,390.0 L491.6,390.3 L493.2,390.6 L494.9,390.9 L496.6,391.1 L498.2,391.3 L499.9,391.4 L501.6,391.5 L503.3,391.7 L504.9,391.7 L506.6,391.8 L508.3,391.9 L510.0,391.9 L511.6,392.0 L513.3,392.0 L515.0,392.1 L516.7,392.1 L518.3,392.1 L520.0,392.1 L521.7,392.1 L523.3,392.2 L525.0,392.2 L526.7,392.2 L528.4,392.2 L530.0,392.2 L531.7,392.2 L533.4,392.2 L535.1,392.2 L536.7,392.2 L538.4,392.2 L540.1,392.2 L541.7,392.2 L543.4,392.2 L545.1,392.2 L546.8,392.2 L548.4,392.2 L550.1,392.2 L551.8,392.2 L553.5,392.2 L555.1,392.2 L556.8,392.2 L558.5,392.2 L560.2,392.2 L561.8,392.2 L563.5,392.2 L565.2,392.2 L566.8,392.2 L568.5,392.2 L570.2,392.2 L571.9,392.2 L573.5,392.2 L575.2,392.2 L576.9,392.2 L578.6,392.2 L580.2,392.2 L581.9,392.2 L583.6,392.2 L585.2,392.2 L586.9,392.2 L588.6,392.2 L590.3,392.2 L591.9,392.2 L593.6,392.2 L595.3,392.2 L597.0,392.2 L598.6,392.2 L600.3,392.2 L602.0,392.2 L603.7,392.2 L605.3,392.2 L607.0,392.2 L608.7,392.2 L610.3,392.2 L612.0,392.2 L613.7,392.2 L615.4,392.2 L617.0,392.2 L618.7,392.2 L620.4,392.2 L622.1,392.2 L623.7,392.2 L625.4,392.2 L627.1,392.2 L628.7,392.2 L630.4,392.2 L632.1,392.2 L633.8,392.2 L635.4,392.2 L637.1,392.2 L638.8,392.2 L640.5,392.2 L642.1,392.2 L643.8,392.2 L645.5,392.2 L647.2,392.2 L648.8,392.2 L650.5,392.2" fill="none" stroke="#e8404c" stroke-width="1.1"/>
<path d="M451.4,280.1 L452.3,279.7 L453.3,280.5 L454.2,280.2 L455.1,281.7 L456.1,281.1 L457.0,280.4 L458.0,281.7 L458.9,281.4 L459.8,278.5 L460.8,280.5 L461.7,281.6 L462.6,281.8 L463.6,279.6 L464.5,283.5 L465.5,281.3 L466.4,280.5 L467.3,281.7 L468.3,280.7 L469.2,282.2 L470.1,281.3 L471.1,281.3 L472.0,281.4 L472.9,281.3 L473.9,281.5 L474.8,280.5 L475.8,281.9 L476.7,282.2 L477.6,282.0 L478.6,282.0 L479.5,283.2 L480.4,283.6 L481.4,283.2 L482.3,281.7 L483.3,282.6 L484.2,282.4 L485.1,279.5 L486.1,281.1 L487.0,282.4 L487.9,282.8 L488.9,281.0 L489.8,283.1 L490.8,281.3 L491.7,281.9 L492.6,281.2 L493.6,283.2 L494.5,281.8 L495.4,284.3 L496.4,282.8 L497.3,281.7 L498.2,282.1 L499.2,284.5 L500.1,282.3 L501.1,282.5 L502.0,283.0 L502.9,283.7 L503.9,283.3 L504.8,283.7 L505.7,282.3 L506.7,282.8 L507.6,282.3 L508.6,282.7 L509.5,284.5 L510.4,283.3 L511.4,281.5 L512.3,284.5 L513.2,283.3 L514.2,284.3 L515.1,284.5 L516.0,283.5 L517.0,282.9 L517.9,283.1 L518.9,283.4 L519.8,283.0 L520.7,285.4 L521.7,283.2 L522.6,283.7 L523.5,284.3 L524.5,284.2 L525.4,285.0 L526.4,283.2 L527.3,285.0 L528.2,285.7 L529.2,284.4 L530.1,285.0 L531.0,284.5 L532.0,283.1 L532.9,284.7 L533.9,284.5 L534.8,282.6 L535.7,286.0 L536.7,284.4 L537.6,283.7 L538.5,283.5 L539.5,282.8 L540.4,285.6 L541.3,284.4 L542.3,285.1 L543.2,285.5 L544.2,285.8 L545.1,286.5 L546.0,284.9 L547.0,284.6 L547.9,286.3 L548.8,284.7 L549.8,285.9 L550.7,286.4 L551.7,287.9 L552.6,284.6 L553.5,285.0 L554.5,286.0 L555.4,286.1 L556.3,287.0 L557.3,285.3 L558.2,285.9 L559.1,285.4 L560.1,285.8 L561.0,287.3 L562.0,287.5 L562.9,285.7 L563.8,287.7 L564.8,285.9 L565.7,285.4 L566.6,287.5 L567.6,285.7 L568.5,286.3 L569.5,285.9 L570.4,287.1 L571.3,286.5 L572.3,286.2 L573.2,284.9 L574.1,286.0 L575.1,286.2 L576.0,287.9 L577.0,286.5 L577.9,287.5 L578.8,286.9 L579.8,286.7 L580.7,286.1 L581.6,286.5 L582.6,286.9 L583.5,287.2 L584.4,285.9 L585.4,288.0 L586.3,287.2 L587.3,286.0 L588.2,287.5 L589.1,286.6 L590.1,286.6 L591.0,285.7 L591.9,286.5 L592.9,289.1 L593.8,287.6 L594.8,287.4 L595.7,287.0 L596.6,287.4 L597.6,286.1 L598.5,286.9 L599.4,289.0 L600.4,288.6 L601.3,289.9 L602.2,286.5 L603.2,288.3 L604.1,288.3 L605.1,289.7 L606.0,288.7 L606.9,288.0 L607.9,288.8 L608.8,288.8 L609.7,289.1 L610.7,286.7 L611.6,289.1 L612.6,290.0 L613.5,289.2 L614.4,289.1 L615.4,288.9 L616.3,289.1 L617.2,290.0 L618.2,289.2 L619.1,288.7 L620.0,290.4 L621.0,287.3 L621.9,287.6 L622.9,290.9 L623.8,289.6 L624.7,288.4 L625.7,288.2 L626.6,287.8" fill="none" stroke="#3a1418" stroke-width="0.95"/>
<path d="M451.4,282.1 L452.3,282.4 L453.3,282.8 L454.2,282.8 L455.1,285.3 L456.1,284.8 L457.0,285.7 L457.9,286.4 L458.9,289.2 L459.8,288.7 L460.7,289.7 L461.7,291.1 L462.6,290.3 L463.6,292.7 L464.5,291.9 L465.4,294.7 L466.4,293.4 L467.3,294.3 L468.2,297.5 L469.2,297.2 L470.1,298.0 L471.0,300.1 L472.0,299.2 L472.9,300.2 L473.8,302.4 L474.8,302.2 L475.7,302.3 L476.6,304.0 L477.6,305.3 L478.5,303.9 L479.4,307.1 L480.4,306.6 L481.3,306.6 L482.2,307.7 L483.2,310.8 L484.1,310.1 L485.1,310.7 L486.0,311.5 L486.9,311.4 L487.9,312.1 L488.8,313.2 L489.7,313.8 L490.7,313.8 L491.6,314.2 L492.5,317.8 L493.5,314.7 L494.4,317.9 L495.3,317.3 L496.3,320.2 L497.2,319.8 L498.1,321.1 L499.1,319.5 L500.0,320.3 L500.9,321.8 L501.9,322.5 L502.8,322.6 L503.7,324.5 L504.7,324.7 L505.6,325.5 L506.5,324.6 L507.5,325.9 L508.4,327.7 L509.4,326.8 L510.3,327.2 L511.2,326.9 L512.2,329.3 L513.1,328.9 L514.0,327.9 L515.0,330.7 L515.9,331.3 L516.8,331.0 L517.8,332.5 L518.7,332.5 L519.6,333.5 L520.6,334.3 L521.5,333.2 L522.4,334.9 L523.4,336.0 L524.3,335.8 L525.2,336.2 L526.2,336.3 L527.1,336.2 L528.0,335.9 L529.0,339.1 L529.9,338.7 L530.9,340.6 L531.8,339.2 L532.7,339.4 L533.7,340.9 L534.6,341.6 L535.5,342.1 L536.5,343.0 L537.4,341.5 L538.3,340.7 L539.3,344.0 L540.2,341.9 L541.1,343.9 L542.1,345.5 L543.0,344.1 L543.9,344.4 L544.9,345.1 L545.8,346.1 L546.7,344.7 L547.7,346.9 L548.6,346.5 L549.5,346.9 L550.5,348.7 L551.4,350.0 L552.4,350.2 L553.3,349.4 L554.2,349.0 L555.2,351.4 L556.1,350.8 L557.0,349.1 L558.0,352.5 L558.9,350.8 L559.8,351.2 L560.8,351.2 L561.7,353.6 L562.6,352.3 L563.6,354.2 L564.5,352.0 L565.4,354.4 L566.4,353.6 L567.3,355.0 L568.2,354.5 L569.2,356.4 L570.1,355.0 L571.0,355.0 L572.0,355.9 L572.9,354.7 L573.9,356.2 L574.8,356.1 L575.7,356.7 L576.7,355.7 L577.6,358.4 L578.5,358.3 L579.5,358.5 L580.4,358.0 L581.3,358.7 L582.3,358.4 L583.2,359.2 L584.1,360.2 L585.1,360.1 L586.0,359.9 L586.9,362.7 L587.9,359.6 L588.8,361.7 L589.7,361.7 L590.7,361.4 L591.6,362.1 L592.5,363.5 L593.5,362.6 L594.4,361.4 L595.4,362.0 L596.3,362.0 L597.2,363.9 L598.2,363.9 L599.1,362.9 L600.0,362.8 L601.0,364.4 L601.9,365.5 L602.8,366.7 L603.8,363.8 L604.7,366.8 L605.6,365.2 L606.6,364.9 L607.5,363.0 L608.4,366.0 L609.4,366.6 L610.3,366.2 L611.2,366.4 L612.2,365.8 L613.1,366.7 L614.0,368.2 L615.0,369.7 L615.9,367.7 L616.8,368.8 L617.8,367.0 L618.7,369.8 L619.7,368.6 L620.6,369.6 L621.5,370.0 L622.5,367.8 L623.4,369.4 L624.3,369.9 L625.3,369.2 L626.2,370.9 L627.1,370.6 L628.1,371.1 L629.0,368.8 L629.9,370.5 L630.9,370.4 L631.8,370.2 L632.7,371.6 L633.7,371.7 L634.6,373.3 L635.5,371.5 L636.5,371.8 L637.4,372.7 L638.3,371.3 L639.3,374.3 L640.2,372.4 L641.2,374.2 L642.1,374.2 L643.0,373.5 L644.0,372.2 L644.9,374.7 L645.8,374.7 L646.8,375.0 L647.7,372.1 L648.6,373.7 L649.6,374.0 L650.5,372.5" fill="none" stroke="#3a1418" stroke-width="0.95"/>
<path d="M451.4,280.0 L452.3,286.1 L453.3,288.4 L454.2,292.6 L455.1,293.1 L456.1,299.7 L457.0,301.3 L458.0,305.3 L458.9,308.2 L459.8,310.7 L460.8,313.7 L461.7,316.9 L462.6,320.1 L463.6,322.1 L464.5,324.9 L465.5,327.1 L466.4,328.5 L467.3,330.9 L468.3,332.5 L469.2,335.2 L470.1,335.1 L471.1,339.6 L472.0,341.7 L472.9,341.5 L473.9,344.9 L474.8,345.8 L475.8,346.6 L476.7,349.2 L477.6,350.9 L478.6,351.1 L479.5,353.1 L480.4,355.3 L481.4,357.2 L482.3,357.7 L483.3,360.1 L484.2,360.5 L485.1,361.9 L486.1,361.6 L487.0,362.2 L487.9,364.6 L488.9,365.4 L489.8,366.9 L490.8,368.1 L491.7,368.1 L492.6,368.0 L493.6,368.9 L494.5,369.6 L495.4,371.2 L496.4,374.3 L497.3,371.5 L498.2,371.8 L499.2,372.9 L500.1,373.5 L501.1,373.9 L502.0,373.0 L502.9,375.9 L503.9,375.2 L504.8,376.5 L505.7,377.1 L506.7,378.4 L507.6,379.1 L508.6,380.3 L509.5,379.1 L510.4,380.4 L511.4,381.7 L512.3,381.7 L513.2,382.5 L514.2,380.2 L515.1,382.3 L516.0,382.3 L517.0,383.9 L517.9,384.1 L518.9,382.4 L519.8,383.9 L520.7,383.8 L521.7,382.5 L522.6,382.6 L523.5,384.2 L524.5,384.6 L525.4,385.1 L526.4,385.8 L527.3,383.9 L528.2,387.2 L529.2,386.3 L530.1,388.3 L531.0,387.9 L532.0,386.5 L532.9,386.6 L533.9,386.9 L534.8,387.7 L535.7,388.2 L536.7,388.2 L537.6,388.2 L538.5,387.0 L539.5,386.8 L540.4,387.9 L541.3,389.0 L542.3,389.5 L543.2,388.4 L544.2,389.0 L545.1,390.7 L546.0,387.8 L547.0,389.2 L547.9,389.6 L548.8,390.2 L549.8,390.3 L550.7,388.7 L551.7,390.6 L552.6,389.7 L553.5,389.2 L554.5,388.2 L555.4,389.4 L556.3,390.1 L557.3,390.6 L558.2,389.4 L559.1,389.3 L560.1,390.8 L561.0,389.9 L562.0,390.6 L562.9,392.1 L563.8,391.6 L564.8,389.9 L565.7,389.3 L566.6,390.1 L567.6,391.0 L568.5,391.6 L569.5,390.4 L570.4,390.6 L571.3,392.5 L572.3,390.4 L573.2,391.8 L574.1,390.5 L575.1,390.7 L576.0,390.5 L577.0,390.2 L577.9,390.6 L578.8,392.3 L579.8,392.3 L580.7,390.4 L581.6,390.9 L582.6,392.9 L583.5,393.4 L584.4,390.6 L585.4,389.4 L586.3,390.7 L587.3,391.8 L588.2,391.3 L589.1,394.2 L590.1,392.6 L591.0,390.7 L591.9,390.8 L592.9,393.7 L593.8,390.6 L594.8,391.2 L595.7,390.8 L596.6,391.9 L597.6,391.8 L598.5,392.8 L599.4,391.5 L600.4,391.0 L601.3,392.7 L602.2,391.5 L603.2,392.4 L604.1,390.9 L605.1,390.9 L606.0,394.1 L606.9,391.5 L607.9,390.9 L608.8,392.5 L609.7,392.1 L610.7,392.1 L611.6,393.0 L612.6,392.1 L613.5,390.5 L614.4,391.5 L615.4,390.5 L616.3,391.1 L617.2,390.9 L618.2,391.9 L619.1,391.3 L620.0,390.1 L621.0,390.6 L621.9,391.7 L622.9,392.7 L623.8,392.9 L624.7,391.8 L625.7,391.6 L626.6,393.8" fill="none" stroke="#3a1418" stroke-width="0.95"/>
<path d="M451.4,280.0 L452.3,290.1 L453.3,299.4 L454.2,308.6 L455.1,313.5 L456.1,321.9 L457.0,330.3 L458.0,335.4 L458.9,339.2 L459.8,344.2 L460.8,348.9 L461.7,353.0 L462.6,356.7 L463.6,360.2 L464.5,363.7 L465.5,364.9 L466.4,370.5 L467.3,370.8 L468.3,370.9 L469.2,374.7 L470.1,376.7 L471.1,375.3 L472.0,377.5 L472.9,379.9 L473.9,381.4 L474.8,382.1 L475.8,383.2 L476.7,383.9 L477.6,385.2 L478.6,384.7 L479.5,386.4 L480.4,388.2 L481.4,388.2 L482.3,387.4 L483.3,388.9 L484.2,390.6 L485.1,387.2 L486.1,388.5 L487.0,389.7 L487.9,390.1 L488.9,389.3 L489.8,388.7 L490.8,390.8 L491.7,390.0 L492.6,391.2 L493.6,390.4 L494.5,392.0 L495.4,392.8 L496.4,391.1 L497.3,391.3 L498.2,390.7 L499.2,392.1 L500.1,390.2 L501.1,391.5 L502.0,390.2 L502.9,392.0 L503.9,390.3 L504.8,391.9 L505.7,391.7 L506.7,391.0 L507.6,393.6 L508.6,393.0 L509.5,390.2 L510.4,393.4 L511.4,392.5 L512.3,391.5 L513.2,390.7 L514.2,392.6 L515.1,392.0 L516.0,393.2 L517.0,392.5 L517.9,391.2 L518.9,391.9 L519.8,392.2 L520.7,391.8 L521.7,392.1 L522.6,392.0 L523.5,392.5 L524.5,393.1 L525.4,391.6 L526.4,393.3 L527.3,391.3 L528.2,390.2 L529.2,390.8 L530.1,390.0 L531.0,393.2 L532.0,392.0 L532.9,393.0 L533.9,392.9 L534.8,393.9 L535.7,393.4 L536.7,391.4 L537.6,391.6 L538.5,391.1 L539.5,391.2 L540.4,391.5 L541.3,393.0 L542.3,392.4 L543.2,391.5 L544.2,391.1 L545.1,392.6 L546.0,392.7 L547.0,392.7 L547.9,390.7 L548.8,391.7 L549.8,392.5 L550.7,393.0 L551.7,391.8 L552.6,393.8 L553.5,392.4 L554.5,392.8 L555.4,392.8 L556.3,392.0 L557.3,391.8 L558.2,389.4 L559.1,392.1 L560.1,391.6 L561.0,393.0 L562.0,393.8 L562.9,391.1 L563.8,390.4 L564.8,393.2 L565.7,392.3 L566.6,391.2 L567.6,392.1 L568.5,394.5 L569.5,391.3 L570.4,392.3 L571.3,391.5 L572.3,393.1 L573.2,391.4 L574.1,391.2 L575.1,392.9 L576.0,391.7 L577.0,392.8 L577.9,392.7 L578.8,393.1 L579.8,392.6 L580.7,392.9 L581.6,391.1 L582.6,392.4 L583.5,393.3 L584.4,390.9 L585.4,391.7 L586.3,391.3 L587.3,392.3 L588.2,391.6 L589.1,392.3 L590.1,393.1 L591.0,392.1 L591.9,392.1 L592.9,392.1 L593.8,391.4 L594.8,393.8 L595.7,391.9 L596.6,393.0 L597.6,392.5 L598.5,391.8 L599.4,392.1 L600.4,392.8 L601.3,391.5 L602.2,392.2 L603.2,391.3 L604.1,391.0 L605.1,392.5 L606.0,393.2 L606.9,392.1 L607.9,391.4 L608.8,391.9 L609.7,393.3 L610.7,393.8 L611.6,393.1 L612.6,393.1 L613.5,391.6 L614.4,392.1 L615.4,391.4 L616.3,392.3 L617.2,390.6 L618.2,392.2 L619.1,391.7 L620.0,392.6 L621.0,391.7 L621.9,391.1 L622.9,391.4 L623.8,391.0 L624.7,392.7 L625.7,391.7 L626.6,390.6" fill="none" stroke="#3a1418" stroke-width="0.95"/>
<rect x="451.4" y="260.6" width="199.1" height="152.8" fill="none" stroke="#7a7a7a" stroke-width="1"/>
<line x1="464.7" y1="260.6" x2="464.7" y2="264.2" stroke="#7a7a7a" stroke-width="1"/>
<line x1="464.7" y1="413.4" x2="464.7" y2="409.8" stroke="#7a7a7a" stroke-width="1"/>
<line x1="477.9" y1="260.6" x2="477.9" y2="264.2" stroke="#7a7a7a" stroke-width="1"/>
<line x1="477.9" y1="413.4" x2="477.9" y2="409.8" stroke="#7a7a7a" stroke-width="1"/>
<line x1="491.2" y1="260.6" x2="491.2" y2="264.2" stroke="#7a7a7a" stroke-width="1"/>
<line x1="491.2" y1="413.4" x2="491.2" y2="409.8" stroke="#7a7a7a" stroke-width="1"/>
<line x1="504.5" y1="260.6" x2="504.5" y2="264.2" stroke="#7a7a7a" stroke-width="1"/>
<line x1="504.5" y1="413.4" x2="504.5" y2="409.8" stroke="#7a7a7a" stroke-width="1"/>
<line x1="517.8" y1="260.6" x2="517.8" y2="266.1" stroke="#7a7a7a" stroke-width="1"/>
<line x1="517.8" y1="413.4" x2="517.8" y2="407.9" stroke="#7a7a7a" stroke-width="1"/>
<line x1="531.0" y1="260.6" x2="531.0" y2="264.2" stroke="#7a7a7a" stroke-width="1"/>
<line x1="531.0" y1="413.4" x2="531.0" y2="409.8" stroke="#7a7a7a" stroke-width="1"/>
<line x1="544.3" y1="260.6" x2="544.3" y2="264.2" stroke="#7a7a7a" stroke-width="1"/>
<line x1="544.3" y1="413.4" x2="544.3" y2="409.8" stroke="#7a7a7a" stroke-width="1"/>
<line x1="557.6" y1="260.6" x2="557.6" y2="264.2" stroke="#7a7a7a" stroke-width="1"/>
<line x1="557.6" y1="413.4" x2="557.6" y2="409.8" stroke="#7a7a7a" stroke-width="1"/>
<line x1="570.9" y1="260.6" x2="570.9" y2="264.2" stroke="#7a7a7a" stroke-width="1"/>
<line x1="570.9" y1="413.4" x2="570.9" y2="409.8" stroke="#7a7a7a" stroke-width="1"/>
<line x1="584.1" y1="260.6" x2="584.1" y2="266.1" stroke="#7a7a7a" stroke-width="1"/>
<line x1="584.1" y1="413.4" x2="584.1" y2="407.9" stroke="#7a7a7a" stroke-width="1"/>
<line x1="597.4" y1="260.6" x2="597.4" y2="264.2" stroke="#7a7a7a" stroke-width="1"/>
<line x1="597.4" y1="413.4" x2="597.4" y2="409.8" stroke="#7a7a7a" stroke-width="1"/>
<line x1="610.7" y1="260.6" x2="610.7" y2="264.2" stroke="#7a7a7a" stroke-width="1"/>
<line x1="610.7" y1="413.4" x2="610.7" y2="409.8" stroke="#7a7a7a" stroke-width="1"/>
<line x1="624.0" y1="260.6" x2="624.0" y2="264.2" stroke="#7a7a7a" stroke-width="1"/>
<line x1="624.0" y1="413.4" x2="624.0" y2="409.8" stroke="#7a7a7a" stroke-width="1"/>
<line x1="637.2" y1="260.6" x2="637.2" y2="264.2" stroke="#7a7a7a" stroke-width="1"/>
<line x1="637.2" y1="413.4" x2="637.2" y2="409.8" stroke="#7a7a7a" stroke-width="1"/>
<line x1="451.4" y1="391.6" x2="455.4" y2="391.6" stroke="#7a7a7a" stroke-width="1"/>
<line x1="650.5" y1="391.6" x2="646.5" y2="391.6" stroke="#7a7a7a" stroke-width="1"/>
<line x1="451.4" y1="369.7" x2="455.4" y2="369.7" stroke="#7a7a7a" stroke-width="1"/>
<line x1="650.5" y1="369.7" x2="646.5" y2="369.7" stroke="#7a7a7a" stroke-width="1"/>
<line x1="451.4" y1="347.9" x2="455.4" y2="347.9" stroke="#7a7a7a" stroke-width="1"/>
<line x1="650.5" y1="347.9" x2="646.5" y2="347.9" stroke="#7a7a7a" stroke-width="1"/>
<line x1="451.4" y1="326.1" x2="455.4" y2="326.1" stroke="#7a7a7a" stroke-width="1"/>
<line x1="650.5" y1="326.1" x2="646.5" y2="326.1" stroke="#7a7a7a" stroke-width="1"/>
<line x1="451.4" y1="304.3" x2="455.4" y2="304.3" stroke="#7a7a7a" stroke-width="1"/>
<line x1="650.5" y1="304.3" x2="646.5" y2="304.3" stroke="#7a7a7a" stroke-width="1"/>
<line x1="451.4" y1="282.4" x2="455.4" y2="282.4" stroke="#7a7a7a" stroke-width="1"/>
<line x1="650.5" y1="282.4" x2="646.5" y2="282.4" stroke="#7a7a7a" stroke-width="1"/>
<text x="447.4" y="285.3" font-size="9.8" text-anchor="end" fill="#333">1</text>
<text x="447.4" y="329.0" font-size="9.8" text-anchor="end" fill="#333">0.8</text>
<text x="447.4" y="372.6" font-size="9.8" text-anchor="end" fill="#333">0.6</text>
<text x="447.4" y="416.3" font-size="9.8" text-anchor="end" fill="#333">0.4</text>
<text x="451.4" y="426.8" font-size="9.2" text-anchor="middle" fill="#333">0</text>
<text x="517.8" y="426.8" font-size="9.2" text-anchor="middle" fill="#333">5000</text>
<text x="584.1" y="426.8" font-size="9.2" text-anchor="middle" fill="#333">10000</text>
<text x="650.5" y="426.8" font-size="9.2" text-anchor="middle" fill="#333">15000</text>
<text x="553.2" y="437.8" font-size="10.8" text-anchor="middle" fill="#333">t/s</text>
<text x="426.9" y="343.5" font-size="11" text-anchor="middle" fill="#333" textLength="102.0" lengthAdjust="spacingAndGlyphs" transform="rotate(-90 426.9 343.5)">relative fluorescence</text>
<text x="602.6" y="305.2" font-size="10.4" fill="#333">control</text>
<path d="M599.0,299.4 L598.0,294.0 L597.6,289.0" fill="none" stroke="#333" stroke-width="0.8"/>
<text x="526.4" y="319.4" font-size="10.4" fill="#333">500 µM I942</text>
<path d="M526.4,320.2 L525.0,327.0 L524.0,333.5" fill="none" stroke="#333" stroke-width="0.8"/>
<text x="501.9" y="361.5" font-size="10.4" fill="#333">500 µM I942</text>
<text x="502.7" y="373.7" font-size="10.4" fill="#333">+ 500 µM cAMP</text>
<path d="M498.9,360.2 L495.0,366.0 L491.5,372.0" fill="none" stroke="#333" stroke-width="0.8"/>
<text x="483.2" y="404.0" font-size="10.4" fill="#333">500 µM cAMP</text>
<path d="M481.1,395.7 L480.2,390.5 L479.6,385.4" fill="none" stroke="#333" stroke-width="0.8"/>
<rect x="120.5" y="469.5" width="536.1" height="257.5" fill="none" stroke="#555" stroke-width="1.2"/>
<line x1="115.8" y1="712.4" x2="120.5" y2="712.4" stroke="#555" stroke-width="1.1"/>
<line x1="115.8" y1="701.6" x2="120.5" y2="701.6" stroke="#555" stroke-width="1.1"/>
<line x1="115.8" y1="693.3" x2="120.5" y2="693.3" stroke="#555" stroke-width="1.1"/>
<line x1="115.8" y1="686.4" x2="120.5" y2="686.4" stroke="#555" stroke-width="1.1"/>
<line x1="115.8" y1="680.7" x2="120.5" y2="680.7" stroke="#555" stroke-width="1.1"/>
<line x1="115.8" y1="675.7" x2="120.5" y2="675.7" stroke="#555" stroke-width="1.1"/>
<line x1="115.8" y1="671.2" x2="120.5" y2="671.2" stroke="#555" stroke-width="1.1"/>
<line x1="113.8" y1="667.3" x2="120.5" y2="667.3" stroke="#555" stroke-width="1.1"/>
<line x1="115.8" y1="641.3" x2="120.5" y2="641.3" stroke="#555" stroke-width="1.1"/>
<line x1="115.8" y1="626.1" x2="120.5" y2="626.1" stroke="#555" stroke-width="1.1"/>
<line x1="115.8" y1="615.3" x2="120.5" y2="615.3" stroke="#555" stroke-width="1.1"/>
<line x1="115.8" y1="607.0" x2="120.5" y2="607.0" stroke="#555" stroke-width="1.1"/>
<line x1="115.8" y1="600.1" x2="120.5" y2="600.1" stroke="#555" stroke-width="1.1"/>
<line x1="115.8" y1="594.4" x2="120.5" y2="594.4" stroke="#555" stroke-width="1.1"/>
<line x1="115.8" y1="589.4" x2="120.5" y2="589.4" stroke="#555" stroke-width="1.1"/>
<line x1="115.8" y1="584.9" x2="120.5" y2="584.9" stroke="#555" stroke-width="1.1"/>
<line x1="113.8" y1="581.0" x2="120.5" y2="581.0" stroke="#555" stroke-width="1.1"/>
<line x1="115.8" y1="555.0" x2="120.5" y2="555.0" stroke="#555" stroke-width="1.1"/>
<line x1="115.8" y1="539.8" x2="120.5" y2="539.8" stroke="#555" stroke-width="1.1"/>
<line x1="115.8" y1="529.0" x2="120.5" y2="529.0" stroke="#555" stroke-width="1.1"/>
<line x1="115.8" y1="520.7" x2="120.5" y2="520.7" stroke="#555" stroke-width="1.1"/>
<line x1="115.8" y1="513.8" x2="120.5" y2="513.8" stroke="#555" stroke-width="1.1"/>
<line x1="115.8" y1="508.1" x2="120.5" y2="508.1" stroke="#555" stroke-width="1.1"/>
<line x1="115.8" y1="503.1" x2="120.5" y2="503.1" stroke="#555" stroke-width="1.1"/>
<line x1="115.8" y1="498.6" x2="120.5" y2="498.6" stroke="#555" stroke-width="1.1"/>
<line x1="113.8" y1="494.7" x2="120.5" y2="494.7" stroke="#555" stroke-width="1.1"/>
<text x="108.5" y="500.0" font-size="14.8" text-anchor="end" fill="#333">1</text>
<text x="108.5" y="586.3" font-size="14.8" text-anchor="end" fill="#333" textLength="20.3" lengthAdjust="spacingAndGlyphs">0.1</text>
<text x="108.5" y="672.4" font-size="14.8" text-anchor="end" fill="#333" textLength="28.1" lengthAdjust="spacingAndGlyphs">0.01</text>
<text transform="translate(72.3 636.1) rotate(-90) scale(1.075 1)" font-size="15.8" fill="#333">k<tspan font-size="11" dy="3">obs</tspan><tspan dy="-3"> / 10</tspan><tspan font-size="10" dy="-6">-3</tspan><tspan dy="6"> s</tspan><tspan font-size="10" dy="-6">-1</tspan></text>
<rect x="125.6" y="681.0" width="25.6" height="46.0" fill="#ffffff" stroke="#333" stroke-width="1.1"/>
<rect x="159.3" y="487.4" width="26.3" height="239.6" fill="#ffffff" stroke="#333" stroke-width="1.1"/>
<rect x="193.6" y="510.5" width="26.1" height="216.5" fill="#4d4d4d" stroke="#333" stroke-width="1.1"/>
<rect x="229.0" y="624.5" width="25.7" height="102.5" fill="#c8c8c8" stroke="#333" stroke-width="1.1"/>
<rect x="263.0" y="508.2" width="25.7" height="218.8" fill="#4d4d4d" stroke="#333" stroke-width="1.1"/>
<rect x="297.5" y="657.4" width="25.8" height="69.6" fill="#c8c8c8" stroke="#333" stroke-width="1.1"/>
<rect x="332.0" y="494.5" width="25.8" height="232.5" fill="#4d4d4d" stroke="#333" stroke-width="1.1"/>
<rect x="366.0" y="647.5" width="26.3" height="79.5" fill="#c8c8c8" stroke="#333" stroke-width="1.1"/>
<rect x="400.6" y="520.3" width="26.3" height="206.7" fill="#4d4d4d" stroke="#333" stroke-width="1.1"/>
<rect x="435.1" y="570.7" width="26.1" height="156.3" fill="#c8c8c8" stroke="#333" stroke-width="1.1"/>
<rect x="488.0" y="513.3" width="26.9" height="213.7" fill="#ffffff" stroke="#333" stroke-width="1.1"/>
<rect x="522.5" y="558.2" width="26.5" height="168.8" fill="#4d4d4d" stroke="#333" stroke-width="1.1"/>
<rect x="556.6" y="543.6" width="26.2" height="183.4" fill="#4d4d4d" stroke="#333" stroke-width="1.1"/>
<rect x="591.8" y="519.2" width="26.1" height="207.8" fill="#4d4d4d" stroke="#333" stroke-width="1.1"/>
<rect x="625.9" y="561.7" width="26.1" height="165.3" fill="#4d4d4d" stroke="#333" stroke-width="1.1"/>
<line x1="154.4" y1="727.0" x2="154.4" y2="722.5" stroke="#555" stroke-width="1"/>
<line x1="189.7" y1="727.0" x2="189.7" y2="722.5" stroke="#555" stroke-width="1"/>
<line x1="224.6" y1="727.0" x2="224.6" y2="722.5" stroke="#555" stroke-width="1"/>
<line x1="259.0" y1="727.0" x2="259.0" y2="722.5" stroke="#555" stroke-width="1"/>
<line x1="293.4" y1="727.0" x2="293.4" y2="722.5" stroke="#555" stroke-width="1"/>
<line x1="327.8" y1="727.0" x2="327.8" y2="722.5" stroke="#555" stroke-width="1"/>
<line x1="362.2" y1="727.0" x2="362.2" y2="722.5" stroke="#555" stroke-width="1"/>
<line x1="396.6" y1="727.0" x2="396.6" y2="722.5" stroke="#555" stroke-width="1"/>
<line x1="431.0" y1="727.0" x2="431.0" y2="722.5" stroke="#555" stroke-width="1"/>
<line x1="466.1" y1="727.0" x2="466.1" y2="722.5" stroke="#555" stroke-width="1"/>
<line x1="519.4" y1="727.0" x2="519.4" y2="722.5" stroke="#555" stroke-width="1"/>
<line x1="553.9" y1="727.0" x2="553.9" y2="722.5" stroke="#555" stroke-width="1"/>
<line x1="588.7" y1="727.0" x2="588.7" y2="722.5" stroke="#555" stroke-width="1"/>
<line x1="623.1" y1="727.0" x2="623.1" y2="722.5" stroke="#555" stroke-width="1"/>
<line x1="187.3" y1="487.8" x2="467.2" y2="487.8" stroke="#555" stroke-width="1.3" stroke-dasharray="7 3.2"/>
<line x1="153.5" y1="681.7" x2="650.7" y2="681.7" stroke="#555" stroke-width="1.3" stroke-dasharray="7 3.2"/>
<line x1="516.6" y1="513.3" x2="651.7" y2="513.3" stroke="#555" stroke-width="1.3" stroke-dasharray="7 3.2"/>
<line x1="206.6" y1="487.8" x2="206.6" y2="502.3" stroke="#e0202a" stroke-width="1.3"/>
<path d="M203.5,502.3 L209.7,502.3 L206.6,508.3 Z" fill="#e0202a"/>
<line x1="275.8" y1="487.8" x2="275.8" y2="500.3" stroke="#e0202a" stroke-width="1.3"/>
<path d="M272.7,500.3 L278.9,500.3 L275.8,506.3 Z" fill="#e0202a"/>
<line x1="413.8" y1="487.8" x2="413.8" y2="510.1" stroke="#e0202a" stroke-width="1.3"/>
<path d="M410.7,510.1 L416.9,510.1 L413.8,516.1 Z" fill="#e0202a"/>
<line x1="241.8" y1="681.7" x2="241.8" y2="633.1" stroke="#e0202a" stroke-width="1.3"/>
<path d="M238.7,633.1 L244.9,633.1 L241.8,627.1 Z" fill="#e0202a"/>
<line x1="310.4" y1="681.7" x2="310.4" y2="670.8" stroke="#e0202a" stroke-width="1.3"/>
<path d="M307.3,670.8 L313.5,670.8 L310.4,664.8 Z" fill="#e0202a"/>
<line x1="379.1" y1="681.7" x2="379.1" y2="662.0" stroke="#e0202a" stroke-width="1.3" stroke-dasharray="1.6 1.4"/>
<path d="M376.0,662.0 L382.2,662.0 L379.1,656.0 Z" fill="#e0202a"/>
<line x1="448.1" y1="681.7" x2="448.1" y2="581.8" stroke="#e0202a" stroke-width="1.3"/>
<path d="M445.0,581.8 L451.2,581.8 L448.1,575.8 Z" fill="#e0202a"/>
<line x1="535.6" y1="513.3" x2="535.6" y2="547.8" stroke="#e0202a" stroke-width="1.3"/>
<path d="M532.5,547.8 L538.7,547.8 L535.6,553.8 Z" fill="#e0202a"/>
<line x1="570.0" y1="513.3" x2="570.0" y2="531.7" stroke="#e0202a" stroke-width="1.3"/>
<path d="M566.9,531.7 L573.1,531.7 L570.0,537.7 Z" fill="#e0202a"/>
<line x1="638.9" y1="513.3" x2="638.9" y2="553.9" stroke="#e0202a" stroke-width="1.3"/>
<path d="M635.8,553.9 L642.0,553.9 L638.9,559.9 Z" fill="#e0202a"/>
<line x1="138.4" y1="673.0" x2="138.4" y2="691.7" stroke="#333" stroke-width="1"/>
<line x1="134.4" y1="673.0" x2="142.4" y2="673.0" stroke="#333" stroke-width="1"/>
<line x1="134.4" y1="691.7" x2="142.4" y2="691.7" stroke="#333" stroke-width="1"/>
<line x1="172.4" y1="484.6" x2="172.4" y2="491.0" stroke="#333" stroke-width="1"/>
<line x1="168.4" y1="484.6" x2="176.4" y2="484.6" stroke="#333" stroke-width="1"/>
<line x1="168.4" y1="491.0" x2="176.4" y2="491.0" stroke="#333" stroke-width="1"/>
<line x1="206.6" y1="509.0" x2="206.6" y2="511.5" stroke="#333" stroke-width="1"/>
<line x1="202.6" y1="509.0" x2="210.6" y2="509.0" stroke="#333" stroke-width="1"/>
<line x1="202.6" y1="511.5" x2="210.6" y2="511.5" stroke="#333" stroke-width="1"/>
<line x1="241.8" y1="623.8" x2="241.8" y2="625.2" stroke="#333" stroke-width="1"/>
<line x1="237.8" y1="623.8" x2="245.8" y2="623.8" stroke="#333" stroke-width="1"/>
<line x1="237.8" y1="625.2" x2="245.8" y2="625.2" stroke="#333" stroke-width="1"/>
<line x1="275.9" y1="507.0" x2="275.9" y2="509.5" stroke="#333" stroke-width="1"/>
<line x1="271.9" y1="507.0" x2="279.9" y2="507.0" stroke="#333" stroke-width="1"/>
<line x1="271.9" y1="509.5" x2="279.9" y2="509.5" stroke="#333" stroke-width="1"/>
<line x1="310.4" y1="652.5" x2="310.4" y2="664.0" stroke="#333" stroke-width="1"/>
<line x1="306.4" y1="652.5" x2="314.4" y2="652.5" stroke="#333" stroke-width="1"/>
<line x1="306.4" y1="664.0" x2="314.4" y2="664.0" stroke="#333" stroke-width="1"/>
<line x1="344.9" y1="494.0" x2="344.9" y2="495.0" stroke="#333" stroke-width="1"/>
<line x1="340.9" y1="494.0" x2="348.9" y2="494.0" stroke="#333" stroke-width="1"/>
<line x1="340.9" y1="495.0" x2="348.9" y2="495.0" stroke="#333" stroke-width="1"/>
<line x1="379.1" y1="641.5" x2="379.1" y2="654.6" stroke="#333" stroke-width="1"/>
<line x1="375.1" y1="641.5" x2="383.1" y2="641.5" stroke="#333" stroke-width="1"/>
<line x1="375.1" y1="654.6" x2="383.1" y2="654.6" stroke="#333" stroke-width="1"/>
<line x1="413.8" y1="517.6" x2="413.8" y2="522.5" stroke="#333" stroke-width="1"/>
<line x1="409.8" y1="517.6" x2="417.8" y2="517.6" stroke="#333" stroke-width="1"/>
<line x1="409.8" y1="522.5" x2="417.8" y2="522.5" stroke="#333" stroke-width="1"/>
<line x1="448.1" y1="567.8" x2="448.1" y2="573.8" stroke="#333" stroke-width="1"/>
<line x1="444.1" y1="567.8" x2="452.1" y2="567.8" stroke="#333" stroke-width="1"/>
<line x1="444.1" y1="573.8" x2="452.1" y2="573.8" stroke="#333" stroke-width="1"/>
<line x1="501.4" y1="509.8" x2="501.4" y2="516.8" stroke="#333" stroke-width="1"/>
<line x1="497.4" y1="509.8" x2="505.4" y2="509.8" stroke="#333" stroke-width="1"/>
<line x1="497.4" y1="516.8" x2="505.4" y2="516.8" stroke="#333" stroke-width="1"/>
<line x1="535.8" y1="554.7" x2="535.8" y2="559.5" stroke="#333" stroke-width="1"/>
<line x1="531.8" y1="554.7" x2="539.8" y2="554.7" stroke="#333" stroke-width="1"/>
<line x1="531.8" y1="559.5" x2="539.8" y2="559.5" stroke="#333" stroke-width="1"/>
<line x1="569.7" y1="539.4" x2="569.7" y2="547.5" stroke="#333" stroke-width="1"/>
<line x1="565.7" y1="539.4" x2="573.7" y2="539.4" stroke="#333" stroke-width="1"/>
<line x1="565.7" y1="547.5" x2="573.7" y2="547.5" stroke="#333" stroke-width="1"/>
<line x1="604.8" y1="517.8" x2="604.8" y2="520.2" stroke="#333" stroke-width="1"/>
<line x1="600.8" y1="517.8" x2="608.8" y2="517.8" stroke="#333" stroke-width="1"/>
<line x1="600.8" y1="520.2" x2="608.8" y2="520.2" stroke="#333" stroke-width="1"/>
<text x="143.7" y="735.0" font-size="18.6" text-anchor="end" fill="#333" textLength="56.0" lengthAdjust="spacingAndGlyphs" transform="rotate(-90 143.7 735.0)">control</text>
<text x="178.7" y="735.5" font-size="19.5" text-anchor="end" fill="#333" textLength="118.0" lengthAdjust="spacingAndGlyphs" transform="rotate(-90 178.7 735.5)">500 µM cAMP</text>
<text x="202.8" y="735.5" font-size="17" text-anchor="end" fill="#333" textLength="101.2" lengthAdjust="spacingAndGlyphs" transform="rotate(-90 202.8 735.5)">500 µM cAMP</text>
<text x="221.1" y="735.0" font-size="16.4" text-anchor="end" fill="#333" textLength="72.5" lengthAdjust="spacingAndGlyphs" transform="rotate(-90 221.1 735.0)">+ 500 178</text>
<text x="248.5" y="735.5" font-size="19.5" text-anchor="end" fill="#333" textLength="104.0" lengthAdjust="spacingAndGlyphs" transform="rotate(-90 248.5 735.5)">500 µM I178</text>
<text x="273.0" y="735.5" font-size="17" text-anchor="end" fill="#333" textLength="101.2" lengthAdjust="spacingAndGlyphs" transform="rotate(-90 273.0 735.5)">500 µM cAMP</text>
<text x="291.2" y="735.0" font-size="16.4" text-anchor="end" fill="#333" textLength="72.5" lengthAdjust="spacingAndGlyphs" transform="rotate(-90 291.2 735.0)">+ 500 288</text>
<text x="319.1" y="735.5" font-size="19.5" text-anchor="end" fill="#333" textLength="104.8" lengthAdjust="spacingAndGlyphs" transform="rotate(-90 319.1 735.5)">500 µM I288</text>
<text x="342.6" y="735.5" font-size="17" text-anchor="end" fill="#333" textLength="101.5" lengthAdjust="spacingAndGlyphs" transform="rotate(-90 342.6 735.5)">500 µM cAMP</text>
<text x="360.7" y="735.0" font-size="16.4" text-anchor="end" fill="#333" textLength="72.5" lengthAdjust="spacingAndGlyphs" transform="rotate(-90 360.7 735.0)">+ 500 516</text>
<text x="389.1" y="735.5" font-size="19.5" text-anchor="end" fill="#333" textLength="104.8" lengthAdjust="spacingAndGlyphs" transform="rotate(-90 389.1 735.5)">500 µM I516</text>
<text x="412.3" y="735.5" font-size="17" text-anchor="end" fill="#333" textLength="102.0" lengthAdjust="spacingAndGlyphs" transform="rotate(-90 412.3 735.5)">500 µM cAMP</text>
<text x="430.3" y="735.0" font-size="16.4" text-anchor="end" fill="#333" textLength="72.5" lengthAdjust="spacingAndGlyphs" transform="rotate(-90 430.3 735.0)">+ 500 942</text>
<text x="458.2" y="735.5" font-size="19.5" text-anchor="end" fill="#333" textLength="104.5" lengthAdjust="spacingAndGlyphs" transform="rotate(-90 458.2 735.5)">500 µM I942</text>
<text x="506.0" y="736.5" font-size="19.5" text-anchor="end" fill="#333" textLength="106.5" lengthAdjust="spacingAndGlyphs" transform="rotate(-90 506.0 736.5)">50 µM cAMP</text>
<text x="532.2" y="736.5" font-size="17" text-anchor="end" fill="#333" textLength="90.8" lengthAdjust="spacingAndGlyphs" transform="rotate(-90 532.2 736.5)">50 µM cAMP</text>
<text x="549.0" y="736.0" font-size="16.4" text-anchor="end" fill="#333" textLength="71.0" lengthAdjust="spacingAndGlyphs" transform="rotate(-90 549.0 736.0)">+ 500 178</text>
<text x="567.0" y="736.0" font-size="17" text-anchor="end" fill="#333" textLength="100.3" lengthAdjust="spacingAndGlyphs" transform="rotate(-90 567.0 736.0)">500 µM cAMP</text>
<text x="584.0" y="736.0" font-size="16.4" text-anchor="end" fill="#333" textLength="71.0" lengthAdjust="spacingAndGlyphs" transform="rotate(-90 584.0 736.0)">+ 500 288</text>
<text x="602.6" y="735.5" font-size="17" text-anchor="end" fill="#333" textLength="100.3" lengthAdjust="spacingAndGlyphs" transform="rotate(-90 602.6 735.5)">500 µM cAMP</text>
<text x="619.4" y="736.5" font-size="16.4" text-anchor="end" fill="#333" textLength="71.0" lengthAdjust="spacingAndGlyphs" transform="rotate(-90 619.4 736.5)">+ 500 516</text>
<text x="637.1" y="735.5" font-size="17" text-anchor="end" fill="#333" textLength="100.3" lengthAdjust="spacingAndGlyphs" transform="rotate(-90 637.1 735.5)">500 µM cAMP</text>
<text x="655.0" y="736.5" font-size="16.4" text-anchor="end" fill="#333" textLength="71.0" lengthAdjust="spacingAndGlyphs" transform="rotate(-90 655.0 736.5)">+ 500 942</text>
<path d="M132.2,1056.3 L133.3,1056.3 L134.5,1056.3 L135.6,1056.2 L136.8,1056.2 L137.9,1056.2 L139.1,1056.2 L140.2,1056.1 L141.3,1056.1 L142.5,1056.1 L143.6,1056.0 L144.8,1056.0 L145.9,1055.9 L147.0,1055.9 L148.2,1055.9 L149.3,1055.8 L150.5,1055.8 L151.6,1055.7 L152.8,1055.7 L153.9,1055.6 L155.0,1055.6 L156.2,1055.5 L157.3,1055.4 L158.5,1055.4 L159.6,1055.3 L160.7,1055.2 L161.9,1055.2 L163.0,1055.1 L164.2,1055.0 L165.3,1054.9 L166.5,1054.8 L167.6,1054.8 L168.7,1054.7 L169.9,1054.6 L171.0,1054.5 L172.2,1054.3 L173.3,1054.2 L174.4,1054.1 L175.6,1054.0 L176.7,1053.9 L177.9,1053.7 L179.0,1053.6 L180.2,1053.4 L181.3,1053.3 L182.4,1053.1 L183.6,1052.9 L184.7,1052.8 L185.9,1052.6 L187.0,1052.4 L188.1,1052.2 L189.3,1052.0 L190.4,1051.7 L191.6,1051.5 L192.7,1051.3 L193.9,1051.0 L195.0,1050.7 L196.1,1050.5 L197.3,1050.2 L198.4,1049.9 L199.6,1049.6 L200.7,1049.2 L201.8,1048.9 L203.0,1048.5 L204.1,1048.2 L205.3,1047.8 L206.4,1047.4 L207.6,1047.0 L208.7,1046.5 L209.8,1046.1 L211.0,1045.6 L212.1,1045.1 L213.3,1044.6 L214.4,1044.1 L215.5,1043.5 L216.7,1042.9 L217.8,1042.3 L219.0,1041.7 L220.1,1041.1 L221.3,1040.4 L222.4,1039.7 L223.5,1039.0 L224.7,1038.2 L225.8,1037.5 L227.0,1036.6 L228.1,1035.8 L229.2,1035.0 L230.4,1034.1 L231.5,1033.1 L232.7,1032.2 L233.8,1031.2 L235.0,1030.2 L236.1,1029.2 L237.2,1028.1 L238.4,1027.0 L239.5,1025.8 L240.7,1024.6 L241.8,1023.4 L242.9,1022.2 L244.1,1020.9 L245.2,1019.6 L246.4,1018.2 L247.5,1016.9 L248.7,1015.5 L249.8,1014.0 L250.9,1012.5 L252.1,1011.0 L253.2,1009.5 L254.4,1007.9 L255.5,1006.3 L256.6,1004.7 L257.8,1003.0 L258.9,1001.4 L260.1,999.7 L261.2,997.9 L262.4,996.2 L263.5,994.4 L264.6,992.6 L265.8,990.8 L266.9,989.0 L268.1,987.1 L269.2,985.3 L270.3,983.4 L271.5,981.6 L272.6,979.7 L273.8,977.8 L274.9,975.9 L276.1,974.0 L277.2,972.2 L278.3,970.3 L279.5,968.4 L280.6,966.5 L281.8,964.7 L282.9,962.8 L284.0,961.0 L285.2,959.2 L286.3,957.4 L287.5,955.6 L288.6,953.8 L289.8,952.1 L290.9,950.4 L292.0,948.7 L293.2,947.0 L294.3,945.4 L295.5,943.7 L296.6,942.2 L297.7,940.6 L298.9,939.1 L300.0,937.6 L301.2,936.1 L302.3,934.7 L303.5,933.3 L304.6,931.9 L305.7,930.6 L306.9,929.3 L308.0,928.0 L309.2,926.8 L310.3,925.6 L311.4,924.4 L312.6,923.3 L313.7,922.2 L314.9,921.1 L316.0,920.1 L317.2,919.1 L318.3,918.1 L319.4,917.2 L320.6,916.3 L321.7,915.4 L322.9,914.6 L324.0,913.7 L325.1,913.0 L326.3,912.2 L327.4,911.5 L328.6,910.7 L329.7,910.1 L330.9,909.4 L332.0,908.8 L333.1,908.2 L334.3,907.6 L335.4,907.0 L336.6,906.4 L337.7,905.9 L338.8,905.4 L340.0,904.9 L341.1,904.5 L342.3,904.0 L343.4,903.6 L344.6,903.2 L345.7,902.8 L346.8,902.4 L348.0,902.0 L349.1,901.7 L350.3,901.4 L351.4,901.0 L352.5,900.7 L353.7,900.4 L354.8,900.1 L356.0,899.9 L357.1,899.6 L358.3,899.4 L359.4,899.1" fill="none" stroke="#333" stroke-width="1"/>
<path d="M132.2,1056.8 L133.3,1056.8 L134.5,1056.8 L135.6,1056.8 L136.8,1056.8 L137.9,1056.8 L139.1,1056.8 L140.2,1056.8 L141.3,1056.8 L142.5,1056.8 L143.6,1056.7 L144.8,1056.7 L145.9,1056.7 L147.0,1056.7 L148.2,1056.7 L149.3,1056.7 L150.5,1056.7 L151.6,1056.7 L152.8,1056.7 L153.9,1056.7 L155.0,1056.7 L156.2,1056.7 L157.3,1056.7 L158.5,1056.7 L159.6,1056.7 L160.7,1056.7 L161.9,1056.7 L163.0,1056.7 L164.2,1056.7 L165.3,1056.7 L166.5,1056.7 L167.6,1056.7 L168.7,1056.7 L169.9,1056.7 L171.0,1056.6 L172.2,1056.6 L173.3,1056.6 L174.4,1056.6 L175.6,1056.6 L176.7,1056.6 L177.9,1056.6 L179.0,1056.6 L180.2,1056.6 L181.3,1056.6 L182.4,1056.6 L183.6,1056.6 L184.7,1056.5 L185.9,1056.5 L187.0,1056.5 L188.1,1056.5 L189.3,1056.5 L190.4,1056.5 L191.6,1056.5 L192.7,1056.4 L193.9,1056.4 L195.0,1056.4 L196.1,1056.4 L197.3,1056.4 L198.4,1056.4 L199.6,1056.3 L200.7,1056.3 L201.8,1056.3 L203.0,1056.3 L204.1,1056.2 L205.3,1056.2 L206.4,1056.2 L207.6,1056.2 L208.7,1056.1 L209.8,1056.1 L211.0,1056.1 L212.1,1056.0 L213.3,1056.0 L214.4,1056.0 L215.5,1055.9 L216.7,1055.9 L217.8,1055.9 L219.0,1055.8 L220.1,1055.8 L221.3,1055.7 L222.4,1055.7 L223.5,1055.6 L224.7,1055.6 L225.8,1055.5 L227.0,1055.5 L228.1,1055.4 L229.2,1055.4 L230.4,1055.3 L231.5,1055.2 L232.7,1055.2 L233.8,1055.1 L235.0,1055.0 L236.1,1054.9 L237.2,1054.9 L238.4,1054.8 L239.5,1054.7 L240.7,1054.6 L241.8,1054.5 L242.9,1054.4 L244.1,1054.3 L245.2,1054.2 L246.4,1054.1 L247.5,1054.0 L248.7,1053.9 L249.8,1053.8 L250.9,1053.7 L252.1,1053.6 L253.2,1053.5 L254.4,1053.4 L255.5,1053.2 L256.6,1053.1 L257.8,1053.0 L258.9,1052.8 L260.1,1052.7 L261.2,1052.6 L262.4,1052.4 L263.5,1052.3 L264.6,1052.1 L265.8,1052.0 L266.9,1051.8 L268.1,1051.6 L269.2,1051.5 L270.3,1051.3 L271.5,1051.1 L272.6,1051.0 L273.8,1050.8 L274.9,1050.6 L276.1,1050.5 L277.2,1050.3 L278.3,1050.1 L279.5,1049.9 L280.6,1049.8 L281.8,1049.6 L282.9,1049.4 L284.0,1049.2 L285.2,1049.0 L286.3,1048.9 L287.5,1048.7 L288.6,1048.5 L289.8,1048.3 L290.9,1048.1 L292.0,1048.0 L293.2,1047.8 L294.3,1047.6 L295.5,1047.4 L296.6,1047.3 L297.7,1047.1 L298.9,1046.9 L300.0,1046.8 L301.2,1046.6 L302.3,1046.4 L303.5,1046.3 L304.6,1046.1 L305.7,1046.0 L306.9,1045.8 L308.0,1045.7 L309.2,1045.5 L310.3,1045.4 L311.4,1045.2 L312.6,1045.1 L313.7,1045.0 L314.9,1044.8 L316.0,1044.7 L317.2,1044.6 L318.3,1044.4 L319.4,1044.3 L320.6,1044.2 L321.7,1044.1 L322.9,1044.0 L324.0,1043.9 L325.1,1043.8 L326.3,1043.7 L327.4,1043.6 L328.6,1043.5 L329.7,1043.4 L330.9,1043.3 L332.0,1043.2 L333.1,1043.2 L334.3,1043.1 L335.4,1043.0 L336.6,1042.9 L337.7,1042.9 L338.8,1042.8 L340.0,1042.7 L341.1,1042.7 L342.3,1042.6 L343.4,1042.5 L344.6,1042.5 L345.7,1042.4 L346.8,1042.4 L348.0,1042.3 L349.1,1042.3 L350.3,1042.2 L351.4,1042.2 L352.5,1042.1 L353.7,1042.1 L354.8,1042.1 L356.0,1042.0 L357.1,1042.0 L358.3,1042.0 L359.4,1041.9" fill="none" stroke="#333" stroke-width="1"/>
<path d="M132.2,1057.1 L133.3,1057.1 L134.5,1057.1 L135.6,1057.1 L136.8,1057.1 L137.9,1057.1 L139.1,1057.1 L140.2,1057.1 L141.3,1057.1 L142.5,1057.1 L143.6,1057.1 L144.8,1057.1 L145.9,1057.1 L147.0,1057.1 L148.2,1057.1 L149.3,1057.1 L150.5,1057.1 L151.6,1057.1 L152.8,1057.1 L153.9,1057.1 L155.0,1057.1 L156.2,1057.1 L157.3,1057.1 L158.5,1057.1 L159.6,1057.1 L160.7,1057.1 L161.9,1057.1 L163.0,1057.1 L164.2,1057.1 L165.3,1057.1 L166.5,1057.1 L167.6,1057.1 L168.7,1057.1 L169.9,1057.1 L171.0,1057.1 L172.2,1057.1 L173.3,1057.1 L174.4,1057.1 L175.6,1057.1 L176.7,1057.1 L177.9,1057.1 L179.0,1057.0 L180.2,1057.0 L181.3,1057.0 L182.4,1057.0 L183.6,1057.0 L184.7,1057.0 L185.9,1057.0 L187.0,1057.0 L188.1,1057.0 L189.3,1057.0 L190.4,1057.0 L191.6,1057.0 L192.7,1057.0 L193.9,1057.0 L195.0,1057.0 L196.1,1057.0 L197.3,1057.0 L198.4,1057.0 L199.6,1057.0 L200.7,1057.0 L201.8,1057.0 L203.0,1057.0 L204.1,1057.0 L205.3,1057.0 L206.4,1057.0 L207.6,1057.0 L208.7,1057.0 L209.8,1057.0 L211.0,1057.0 L212.1,1057.0 L213.3,1057.0 L214.4,1057.0 L215.5,1057.0 L216.7,1057.0 L217.8,1057.0 L219.0,1057.0 L220.1,1057.0 L221.3,1057.0 L222.4,1057.0 L223.5,1057.0 L224.7,1057.0 L225.8,1057.0 L227.0,1057.0 L228.1,1057.0 L229.2,1056.9 L230.4,1056.9 L231.5,1056.9 L232.7,1056.9 L233.8,1056.9 L235.0,1056.9 L236.1,1056.9 L237.2,1056.9 L238.4,1056.9 L239.5,1056.9 L240.7,1056.9 L241.8,1056.9 L242.9,1056.9 L244.1,1056.8 L245.2,1056.8 L246.4,1056.8 L247.5,1056.8 L248.7,1056.8 L249.8,1056.8 L250.9,1056.8 L252.1,1056.8 L253.2,1056.8 L254.4,1056.7 L255.5,1056.7 L256.6,1056.7 L257.8,1056.7 L258.9,1056.7 L260.1,1056.7 L261.2,1056.7 L262.4,1056.6 L263.5,1056.6 L264.6,1056.6 L265.8,1056.6 L266.9,1056.6 L268.1,1056.5 L269.2,1056.5 L270.3,1056.5 L271.5,1056.5 L272.6,1056.4 L273.8,1056.4 L274.9,1056.4 L276.1,1056.4 L277.2,1056.3 L278.3,1056.3 L279.5,1056.3 L280.6,1056.2 L281.8,1056.2 L282.9,1056.2 L284.0,1056.1 L285.2,1056.1 L286.3,1056.1 L287.5,1056.0 L288.6,1056.0 L289.8,1056.0 L290.9,1055.9 L292.0,1055.9 L293.2,1055.8 L294.3,1055.8 L295.5,1055.7 L296.6,1055.7 L297.7,1055.7 L298.9,1055.6 L300.0,1055.6 L301.2,1055.5 L302.3,1055.5 L303.5,1055.4 L304.6,1055.4 L305.7,1055.3 L306.9,1055.3 L308.0,1055.2 L309.2,1055.1 L310.3,1055.1 L311.4,1055.0 L312.6,1055.0 L313.7,1054.9 L314.9,1054.9 L316.0,1054.8 L317.2,1054.8 L318.3,1054.7 L319.4,1054.6 L320.6,1054.6 L321.7,1054.5 L322.9,1054.5 L324.0,1054.4 L325.1,1054.4 L326.3,1054.3 L327.4,1054.3 L328.6,1054.2 L329.7,1054.1 L330.9,1054.1 L332.0,1054.0 L333.1,1054.0 L334.3,1053.9 L335.4,1053.9 L336.6,1053.8 L337.7,1053.8 L338.8,1053.7 L340.0,1053.7 L341.1,1053.6 L342.3,1053.6 L343.4,1053.6 L344.6,1053.5 L345.7,1053.5 L346.8,1053.4 L348.0,1053.4 L349.1,1053.3 L350.3,1053.3 L351.4,1053.3 L352.5,1053.2 L353.7,1053.2 L354.8,1053.1 L356.0,1053.1 L357.1,1053.1 L358.3,1053.0 L359.4,1053.0" fill="none" stroke="#333" stroke-width="1"/>
<path d="M149.2,1052.6 L152.2,1057.4 L146.2,1057.4 Z" fill="#fff" stroke="#333" stroke-width="0.9"/>
<path d="M159.6,1051.9 L162.6,1056.7 L156.6,1056.7 Z" fill="#fff" stroke="#333" stroke-width="0.9"/>
<path d="M166.6,1051.9 L169.6,1056.7 L163.6,1056.7 Z" fill="#fff" stroke="#333" stroke-width="0.9"/>
<path d="M171.8,1051.5 L174.8,1056.3 L168.8,1056.3 Z" fill="#fff" stroke="#333" stroke-width="0.9"/>
<path d="M177.0,1051.2 L180.0,1056.0 L174.0,1056.0 Z" fill="#fff" stroke="#333" stroke-width="0.9"/>
<path d="M182.2,1050.8 L185.2,1055.6 L179.2,1055.6 Z" fill="#fff" stroke="#333" stroke-width="0.9"/>
<path d="M189.2,1049.1 L192.2,1053.9 L186.2,1053.9 Z" fill="#fff" stroke="#333" stroke-width="0.9"/>
<path d="M205.9,1044.6 L208.9,1049.4 L202.9,1049.4 Z" fill="#fff" stroke="#333" stroke-width="0.9"/>
<path d="M216.4,1040.0 L219.4,1044.8 L213.4,1044.8 Z" fill="#fff" stroke="#333" stroke-width="0.9"/>
<path d="M224.0,1034.8 L227.0,1039.6 L221.0,1039.6 Z" fill="#fff" stroke="#333" stroke-width="0.9"/>
<path d="M229.2,1030.6 L232.2,1035.4 L226.2,1035.4 Z" fill="#fff" stroke="#333" stroke-width="0.9"/>
<path d="M233.4,1035.8 L236.4,1040.6 L230.4,1040.6 Z" fill="#fff" stroke="#333" stroke-width="0.9"/>
<path d="M238.6,1031.3 L241.6,1036.1 L235.6,1036.1 Z" fill="#fff" stroke="#333" stroke-width="0.9"/>
<path d="M240.7,1028.2 L243.7,1033.0 L237.7,1033.0 Z" fill="#fff" stroke="#333" stroke-width="0.9"/>
<path d="M246.6,1016.7 L249.6,1021.5 L243.6,1021.5 Z" fill="#fff" stroke="#333" stroke-width="0.9"/>
<path d="M262.3,1002.8 L265.3,1007.6 L259.3,1007.6 Z" fill="#fff" stroke="#333" stroke-width="0.9"/>
<path d="M273.3,978.0 L276.3,982.8 L270.3,982.8 Z" fill="#fff" stroke="#333" stroke-width="0.9"/>
<path d="M279.8,961.9 L282.8,966.7 L276.8,966.7 Z" fill="#fff" stroke="#333" stroke-width="0.9"/>
<path d="M285.4,952.1 L288.4,956.9 L282.4,956.9 Z" fill="#fff" stroke="#333" stroke-width="0.9"/>
<path d="M290.4,957.7 L293.4,962.5 L287.4,962.5 Z" fill="#fff" stroke="#333" stroke-width="0.9"/>
<path d="M294.6,945.6 L297.6,950.4 L291.6,950.4 Z" fill="#fff" stroke="#333" stroke-width="0.9"/>
<path d="M297.4,937.3 L300.4,942.1 L294.4,942.1 Z" fill="#fff" stroke="#333" stroke-width="0.9"/>
<path d="M303.0,926.2 L306.0,931.0 L300.0,931.0 Z" fill="#fff" stroke="#333" stroke-width="0.9"/>
<path d="M320.0,924.9 L323.0,929.7 L317.0,929.7 Z" fill="#fff" stroke="#333" stroke-width="0.9"/>
<path d="M330.2,910.4 L333.2,915.2 L327.2,915.2 Z" fill="#fff" stroke="#333" stroke-width="0.9"/>
<path d="M337.2,905.2 L340.2,910.0 L334.2,910.0 Z" fill="#fff" stroke="#333" stroke-width="0.9"/>
<path d="M342.8,895.6 L345.8,900.4 L339.8,900.4 Z" fill="#fff" stroke="#333" stroke-width="0.9"/>
<circle cx="233.0" cy="1057.8" r="3.1" fill="#fff" stroke="#222" stroke-width="0.9"/>
<circle cx="237.0" cy="1057.8" r="3.1" fill="#fff" stroke="#222" stroke-width="0.9"/>
<circle cx="241.4" cy="1057.8" r="3.1" fill="#fff" stroke="#222" stroke-width="0.9"/>
<circle cx="246.0" cy="1057.8" r="3.1" fill="#fff" stroke="#222" stroke-width="0.9"/>
<circle cx="262.3" cy="1057.7" r="3.1" fill="#fff" stroke="#222" stroke-width="0.9"/>
<circle cx="272.6" cy="1057.4" r="3.1" fill="#fff" stroke="#222" stroke-width="0.9"/>
<circle cx="279.8" cy="1057.2" r="3.1" fill="#fff" stroke="#222" stroke-width="0.9"/>
<circle cx="285.6" cy="1057.0" r="3.1" fill="#fff" stroke="#222" stroke-width="0.9"/>
<circle cx="291.3" cy="1056.7" r="3.1" fill="#fff" stroke="#222" stroke-width="0.9"/>
<circle cx="295.7" cy="1056.5" r="3.1" fill="#fff" stroke="#222" stroke-width="0.9"/>
<circle cx="299.1" cy="1056.4" r="3.1" fill="#fff" stroke="#222" stroke-width="0.9"/>
<circle cx="302.9" cy="1056.3" r="3.1" fill="#fff" stroke="#222" stroke-width="0.9"/>
<circle cx="319.4" cy="1055.4" r="3.1" fill="#fff" stroke="#222" stroke-width="0.9"/>
<circle cx="329.8" cy="1055.0" r="3.1" fill="#fff" stroke="#222" stroke-width="0.9"/>
<circle cx="337.0" cy="1054.8" r="3.1" fill="#fff" stroke="#222" stroke-width="0.9"/>
<circle cx="342.8" cy="1054.7" r="3.1" fill="#fff" stroke="#222" stroke-width="0.9"/>
<circle cx="176.0" cy="1057.9" r="3.1" fill="#111" stroke="#222" stroke-width="0.9"/>
<circle cx="180.0" cy="1057.8" r="3.1" fill="#111" stroke="#222" stroke-width="0.9"/>
<circle cx="184.0" cy="1057.7" r="3.1" fill="#111" stroke="#222" stroke-width="0.9"/>
<circle cx="189.0" cy="1057.5" r="3.1" fill="#111" stroke="#222" stroke-width="0.9"/>
<circle cx="205.9" cy="1057.1" r="3.1" fill="#111" stroke="#222" stroke-width="0.9"/>
<circle cx="216.4" cy="1056.6" r="3.1" fill="#111" stroke="#222" stroke-width="0.9"/>
<circle cx="223.0" cy="1056.1" r="3.1" fill="#111" stroke="#222" stroke-width="0.9"/>
<circle cx="229.0" cy="1055.7" r="3.1" fill="#111" stroke="#222" stroke-width="0.9"/>
<circle cx="234.0" cy="1055.5" r="3.1" fill="#111" stroke="#222" stroke-width="0.9"/>
<circle cx="238.0" cy="1055.3" r="3.1" fill="#111" stroke="#222" stroke-width="0.9"/>
<circle cx="242.0" cy="1055.1" r="3.1" fill="#111" stroke="#222" stroke-width="0.9"/>
<circle cx="246.0" cy="1054.7" r="3.1" fill="#111" stroke="#222" stroke-width="0.9"/>
<circle cx="262.3" cy="1053.3" r="3.1" fill="#111" stroke="#222" stroke-width="0.9"/>
<circle cx="272.8" cy="1051.7" r="3.1" fill="#111" stroke="#222" stroke-width="0.9"/>
<circle cx="279.0" cy="1050.7" r="3.1" fill="#111" stroke="#222" stroke-width="0.9"/>
<circle cx="284.2" cy="1050.1" r="3.1" fill="#111" stroke="#222" stroke-width="0.9"/>
<circle cx="289.1" cy="1049.5" r="3.1" fill="#111" stroke="#222" stroke-width="0.9"/>
<circle cx="293.6" cy="1049.1" r="3.1" fill="#111" stroke="#222" stroke-width="0.9"/>
<circle cx="298.2" cy="1048.7" r="3.1" fill="#111" stroke="#222" stroke-width="0.9"/>
<circle cx="303.0" cy="1048.1" r="3.1" fill="#111" stroke="#222" stroke-width="0.9"/>
<circle cx="319.8" cy="1046.1" r="3.1" fill="#111" stroke="#222" stroke-width="0.9"/>
<circle cx="329.5" cy="1044.7" r="3.1" fill="#111" stroke="#222" stroke-width="0.9"/>
<circle cx="336.5" cy="1044.3" r="3.1" fill="#111" stroke="#222" stroke-width="0.9"/>
<circle cx="342.4" cy="1044.3" r="3.1" fill="#111" stroke="#222" stroke-width="0.9"/>
<rect x="132.2" y="882.7" width="227.2" height="175.3" fill="none" stroke="#666" stroke-width="1"/>
<line x1="149.3" y1="1058.0" x2="149.3" y2="1053.5" stroke="#666" stroke-width="1"/>
<line x1="149.3" y1="882.7" x2="149.3" y2="887.2" stroke="#666" stroke-width="1"/>
<line x1="159.3" y1="1058.0" x2="159.3" y2="1053.5" stroke="#666" stroke-width="1"/>
<line x1="159.3" y1="882.7" x2="159.3" y2="887.2" stroke="#666" stroke-width="1"/>
<line x1="166.4" y1="1058.0" x2="166.4" y2="1053.5" stroke="#666" stroke-width="1"/>
<line x1="166.4" y1="882.7" x2="166.4" y2="887.2" stroke="#666" stroke-width="1"/>
<line x1="171.9" y1="1058.0" x2="171.9" y2="1053.5" stroke="#666" stroke-width="1"/>
<line x1="171.9" y1="882.7" x2="171.9" y2="887.2" stroke="#666" stroke-width="1"/>
<line x1="176.4" y1="1058.0" x2="176.4" y2="1053.5" stroke="#666" stroke-width="1"/>
<line x1="176.4" y1="882.7" x2="176.4" y2="887.2" stroke="#666" stroke-width="1"/>
<line x1="180.2" y1="1058.0" x2="180.2" y2="1053.5" stroke="#666" stroke-width="1"/>
<line x1="180.2" y1="882.7" x2="180.2" y2="887.2" stroke="#666" stroke-width="1"/>
<line x1="183.5" y1="1058.0" x2="183.5" y2="1053.5" stroke="#666" stroke-width="1"/>
<line x1="183.5" y1="882.7" x2="183.5" y2="887.2" stroke="#666" stroke-width="1"/>
<line x1="186.4" y1="1058.0" x2="186.4" y2="1053.5" stroke="#666" stroke-width="1"/>
<line x1="186.4" y1="882.7" x2="186.4" y2="887.2" stroke="#666" stroke-width="1"/>
<line x1="189.0" y1="1058.0" x2="189.0" y2="1052.0" stroke="#666" stroke-width="1"/>
<line x1="189.0" y1="882.7" x2="189.0" y2="888.7" stroke="#666" stroke-width="1"/>
<line x1="206.1" y1="1058.0" x2="206.1" y2="1053.5" stroke="#666" stroke-width="1"/>
<line x1="206.1" y1="882.7" x2="206.1" y2="887.2" stroke="#666" stroke-width="1"/>
<line x1="216.1" y1="1058.0" x2="216.1" y2="1053.5" stroke="#666" stroke-width="1"/>
<line x1="216.1" y1="882.7" x2="216.1" y2="887.2" stroke="#666" stroke-width="1"/>
<line x1="223.2" y1="1058.0" x2="223.2" y2="1053.5" stroke="#666" stroke-width="1"/>
<line x1="223.2" y1="882.7" x2="223.2" y2="887.2" stroke="#666" stroke-width="1"/>
<line x1="228.7" y1="1058.0" x2="228.7" y2="1053.5" stroke="#666" stroke-width="1"/>
<line x1="228.7" y1="882.7" x2="228.7" y2="887.2" stroke="#666" stroke-width="1"/>
<line x1="233.2" y1="1058.0" x2="233.2" y2="1053.5" stroke="#666" stroke-width="1"/>
<line x1="233.2" y1="882.7" x2="233.2" y2="887.2" stroke="#666" stroke-width="1"/>
<line x1="237.0" y1="1058.0" x2="237.0" y2="1053.5" stroke="#666" stroke-width="1"/>
<line x1="237.0" y1="882.7" x2="237.0" y2="887.2" stroke="#666" stroke-width="1"/>
<line x1="240.3" y1="1058.0" x2="240.3" y2="1053.5" stroke="#666" stroke-width="1"/>
<line x1="240.3" y1="882.7" x2="240.3" y2="887.2" stroke="#666" stroke-width="1"/>
<line x1="243.2" y1="1058.0" x2="243.2" y2="1053.5" stroke="#666" stroke-width="1"/>
<line x1="243.2" y1="882.7" x2="243.2" y2="887.2" stroke="#666" stroke-width="1"/>
<line x1="245.8" y1="1058.0" x2="245.8" y2="1052.0" stroke="#666" stroke-width="1"/>
<line x1="245.8" y1="882.7" x2="245.8" y2="888.7" stroke="#666" stroke-width="1"/>
<line x1="262.9" y1="1058.0" x2="262.9" y2="1053.5" stroke="#666" stroke-width="1"/>
<line x1="262.9" y1="882.7" x2="262.9" y2="887.2" stroke="#666" stroke-width="1"/>
<line x1="272.9" y1="1058.0" x2="272.9" y2="1053.5" stroke="#666" stroke-width="1"/>
<line x1="272.9" y1="882.7" x2="272.9" y2="887.2" stroke="#666" stroke-width="1"/>
<line x1="280.0" y1="1058.0" x2="280.0" y2="1053.5" stroke="#666" stroke-width="1"/>
<line x1="280.0" y1="882.7" x2="280.0" y2="887.2" stroke="#666" stroke-width="1"/>
<line x1="285.5" y1="1058.0" x2="285.5" y2="1053.5" stroke="#666" stroke-width="1"/>
<line x1="285.5" y1="882.7" x2="285.5" y2="887.2" stroke="#666" stroke-width="1"/>
<line x1="290.0" y1="1058.0" x2="290.0" y2="1053.5" stroke="#666" stroke-width="1"/>
<line x1="290.0" y1="882.7" x2="290.0" y2="887.2" stroke="#666" stroke-width="1"/>
<line x1="293.8" y1="1058.0" x2="293.8" y2="1053.5" stroke="#666" stroke-width="1"/>
<line x1="293.8" y1="882.7" x2="293.8" y2="887.2" stroke="#666" stroke-width="1"/>
<line x1="297.1" y1="1058.0" x2="297.1" y2="1053.5" stroke="#666" stroke-width="1"/>
<line x1="297.1" y1="882.7" x2="297.1" y2="887.2" stroke="#666" stroke-width="1"/>
<line x1="300.0" y1="1058.0" x2="300.0" y2="1053.5" stroke="#666" stroke-width="1"/>
<line x1="300.0" y1="882.7" x2="300.0" y2="887.2" stroke="#666" stroke-width="1"/>
<line x1="302.6" y1="1058.0" x2="302.6" y2="1052.0" stroke="#666" stroke-width="1"/>
<line x1="302.6" y1="882.7" x2="302.6" y2="888.7" stroke="#666" stroke-width="1"/>
<line x1="319.7" y1="1058.0" x2="319.7" y2="1053.5" stroke="#666" stroke-width="1"/>
<line x1="319.7" y1="882.7" x2="319.7" y2="887.2" stroke="#666" stroke-width="1"/>
<line x1="329.7" y1="1058.0" x2="329.7" y2="1053.5" stroke="#666" stroke-width="1"/>
<line x1="329.7" y1="882.7" x2="329.7" y2="887.2" stroke="#666" stroke-width="1"/>
<line x1="336.8" y1="1058.0" x2="336.8" y2="1053.5" stroke="#666" stroke-width="1"/>
<line x1="336.8" y1="882.7" x2="336.8" y2="887.2" stroke="#666" stroke-width="1"/>
<line x1="342.3" y1="1058.0" x2="342.3" y2="1053.5" stroke="#666" stroke-width="1"/>
<line x1="342.3" y1="882.7" x2="342.3" y2="887.2" stroke="#666" stroke-width="1"/>
<line x1="346.8" y1="1058.0" x2="346.8" y2="1053.5" stroke="#666" stroke-width="1"/>
<line x1="346.8" y1="882.7" x2="346.8" y2="887.2" stroke="#666" stroke-width="1"/>
<line x1="350.6" y1="1058.0" x2="350.6" y2="1053.5" stroke="#666" stroke-width="1"/>
<line x1="350.6" y1="882.7" x2="350.6" y2="887.2" stroke="#666" stroke-width="1"/>
<line x1="353.9" y1="1058.0" x2="353.9" y2="1053.5" stroke="#666" stroke-width="1"/>
<line x1="353.9" y1="882.7" x2="353.9" y2="887.2" stroke="#666" stroke-width="1"/>
<line x1="356.8" y1="1058.0" x2="356.8" y2="1053.5" stroke="#666" stroke-width="1"/>
<line x1="356.8" y1="882.7" x2="356.8" y2="887.2" stroke="#666" stroke-width="1"/>
<line x1="132.2" y1="1044.2" x2="135.7" y2="1044.2" stroke="#666" stroke-width="1"/>
<line x1="359.4" y1="1044.2" x2="355.9" y2="1044.2" stroke="#666" stroke-width="1"/>
<line x1="132.2" y1="1030.9" x2="137.2" y2="1030.9" stroke="#666" stroke-width="1"/>
<line x1="359.4" y1="1030.9" x2="354.4" y2="1030.9" stroke="#666" stroke-width="1"/>
<line x1="132.2" y1="1017.5" x2="135.7" y2="1017.5" stroke="#666" stroke-width="1"/>
<line x1="359.4" y1="1017.5" x2="355.9" y2="1017.5" stroke="#666" stroke-width="1"/>
<line x1="132.2" y1="1004.2" x2="137.2" y2="1004.2" stroke="#666" stroke-width="1"/>
<line x1="359.4" y1="1004.2" x2="354.4" y2="1004.2" stroke="#666" stroke-width="1"/>
<line x1="132.2" y1="990.8" x2="135.7" y2="990.8" stroke="#666" stroke-width="1"/>
<line x1="359.4" y1="990.8" x2="355.9" y2="990.8" stroke="#666" stroke-width="1"/>
<line x1="132.2" y1="977.5" x2="137.2" y2="977.5" stroke="#666" stroke-width="1"/>
<line x1="359.4" y1="977.5" x2="354.4" y2="977.5" stroke="#666" stroke-width="1"/>
<line x1="132.2" y1="964.1" x2="135.7" y2="964.1" stroke="#666" stroke-width="1"/>
<line x1="359.4" y1="964.1" x2="355.9" y2="964.1" stroke="#666" stroke-width="1"/>
<line x1="132.2" y1="950.8" x2="137.2" y2="950.8" stroke="#666" stroke-width="1"/>
<line x1="359.4" y1="950.8" x2="354.4" y2="950.8" stroke="#666" stroke-width="1"/>
<line x1="132.2" y1="937.4" x2="135.7" y2="937.4" stroke="#666" stroke-width="1"/>
<line x1="359.4" y1="937.4" x2="355.9" y2="937.4" stroke="#666" stroke-width="1"/>
<line x1="132.2" y1="924.1" x2="137.2" y2="924.1" stroke="#666" stroke-width="1"/>
<line x1="359.4" y1="924.1" x2="354.4" y2="924.1" stroke="#666" stroke-width="1"/>
<line x1="132.2" y1="910.7" x2="135.7" y2="910.7" stroke="#666" stroke-width="1"/>
<line x1="359.4" y1="910.7" x2="355.9" y2="910.7" stroke="#666" stroke-width="1"/>
<text x="125.7" y="1061.5" font-size="10.9" text-anchor="end" fill="#333">0</text>
<text x="125.7" y="1034.8" font-size="10.9" text-anchor="end" fill="#333">0.2</text>
<text x="125.7" y="1008.1" font-size="10.9" text-anchor="end" fill="#333">0.4</text>
<text x="125.7" y="981.4" font-size="10.9" text-anchor="end" fill="#333">0.6</text>
<text x="125.7" y="954.7" font-size="10.9" text-anchor="end" fill="#333">0.8</text>
<text x="125.7" y="928.0" font-size="10.9" text-anchor="end" fill="#333">1.0</text>
<text x="125.7" y="901.3" font-size="10.9" text-anchor="end" fill="#333">1.2</text>
<text transform="translate(95.9 987) rotate(-90)" font-size="10.2" fill="#333">k<tspan font-size="7.5" dy="2">obs</tspan><tspan dy="-2"> / 10</tspan><tspan font-size="7" dy="-4">-3</tspan><tspan dy="4"> s</tspan><tspan font-size="7" dy="-4">-1</tspan></text>
<path d="M147.9,897.6 L151.1,901.6 L144.7,901.6 Z" fill="#fff" stroke="#333" stroke-width="0.9"/>
<circle cx="147.7" cy="913.6" r="3.2" fill="#111" stroke="#222" stroke-width="0.9"/>
<circle cx="147.5" cy="928.2" r="3.2" fill="#fff" stroke="#222" stroke-width="0.9"/>
<text x="157.8" y="903.2" font-size="11.5" fill="#333" textLength="33.7" lengthAdjust="spacingAndGlyphs">cAMP</text>
<text x="157.7" y="917.6" font-size="11.5" fill="#333" textLength="23.1" lengthAdjust="spacingAndGlyphs">I942</text>
<text x="157.7" y="932.2" font-size="11.5" fill="#333" textLength="23.1" lengthAdjust="spacingAndGlyphs">I178</text>
<text x="199.3" y="903.2" font-size="11.5" fill="#333" textLength="15" lengthAdjust="spacing">AC</text>
<text x="215.2" y="907.0" font-size="8.8" fill="#333">50</text>
<text x="230.0" y="903.2" font-size="11.5" fill="#333" textLength="7.0" lengthAdjust="spacingAndGlyphs">=</text>
<text x="284.4" y="903.2" font-size="11.5" text-anchor="end" fill="#333" textLength="36.0" lengthAdjust="spacingAndGlyphs">40 µM</text>
<text x="199.3" y="917.7" font-size="11.5" fill="#333" textLength="15" lengthAdjust="spacing">AC</text>
<text x="215.2" y="921.5" font-size="8.8" fill="#333">50</text>
<text x="230.0" y="917.7" font-size="11.5" fill="#333" textLength="7.0" lengthAdjust="spacingAndGlyphs">=</text>
<text x="284.4" y="917.7" font-size="11.5" text-anchor="end" fill="#333" textLength="36.0" lengthAdjust="spacingAndGlyphs">50 µM</text>
<text x="199.3" y="932.2" font-size="11.5" fill="#333" textLength="15" lengthAdjust="spacing">AC</text>
<text x="215.2" y="936.0" font-size="8.8" fill="#333">50</text>
<text x="228.0" y="932.5" font-size="14" fill="#666" textLength="10.0" lengthAdjust="spacingAndGlyphs">≈</text>
<text x="284.4" y="932.2" font-size="11.5" text-anchor="end" fill="#333" textLength="43.3" lengthAdjust="spacingAndGlyphs">200 µM</text>
<path d="M132.2,1169.8 L133.3,1169.8 L134.5,1169.8 L135.6,1169.7 L136.8,1169.7 L137.9,1169.7 L139.1,1169.7 L140.2,1169.7 L141.3,1169.7 L142.5,1169.7 L143.6,1169.7 L144.8,1169.6 L145.9,1169.6 L147.0,1169.6 L148.2,1169.6 L149.3,1169.6 L150.5,1169.6 L151.6,1169.5 L152.8,1169.5 L153.9,1169.5 L155.0,1169.5 L156.2,1169.5 L157.3,1169.4 L158.5,1169.4 L159.6,1169.4 L160.7,1169.4 L161.9,1169.3 L163.0,1169.3 L164.2,1169.3 L165.3,1169.2 L166.5,1169.2 L167.6,1169.2 L168.7,1169.1 L169.9,1169.1 L171.0,1169.0 L172.2,1169.0 L173.3,1169.0 L174.4,1168.9 L175.6,1168.9 L176.7,1168.8 L177.9,1168.8 L179.0,1168.7 L180.2,1168.6 L181.3,1168.6 L182.4,1168.5 L183.6,1168.4 L184.7,1168.4 L185.9,1168.3 L187.0,1168.2 L188.1,1168.1 L189.3,1168.1 L190.4,1168.0 L191.6,1167.9 L192.7,1167.8 L193.9,1167.7 L195.0,1167.6 L196.1,1167.5 L197.3,1167.4 L198.4,1167.2 L199.6,1167.1 L200.7,1167.0 L201.8,1166.8 L203.0,1166.7 L204.1,1166.5 L205.3,1166.4 L206.4,1166.2 L207.6,1166.1 L208.7,1165.9 L209.8,1165.7 L211.0,1165.5 L212.1,1165.3 L213.3,1165.1 L214.4,1164.9 L215.5,1164.7 L216.7,1164.4 L217.8,1164.2 L219.0,1163.9 L220.1,1163.6 L221.3,1163.4 L222.4,1163.1 L223.5,1162.8 L224.7,1162.5 L225.8,1162.1 L227.0,1161.8 L228.1,1161.4 L229.2,1161.1 L230.4,1160.7 L231.5,1160.3 L232.7,1159.9 L233.8,1159.5 L235.0,1159.0 L236.1,1158.6 L237.2,1158.1 L238.4,1157.6 L239.5,1157.1 L240.7,1156.6 L241.8,1156.0 L242.9,1155.5 L244.1,1154.9 L245.2,1154.3 L246.4,1153.7 L247.5,1153.0 L248.7,1152.4 L249.8,1151.7 L250.9,1151.0 L252.1,1150.3 L253.2,1149.6 L254.4,1148.8 L255.5,1148.1 L256.6,1147.3 L257.8,1146.4 L258.9,1145.6 L260.1,1144.8 L261.2,1143.9 L262.4,1143.0 L263.5,1142.1 L264.6,1141.2 L265.8,1140.2 L266.9,1139.3 L268.1,1138.3 L269.2,1137.3 L270.3,1136.3 L271.5,1135.3 L272.6,1134.3 L273.8,1133.2 L274.9,1132.2 L276.1,1131.1 L277.2,1130.0 L278.3,1129.0 L279.5,1127.9 L280.6,1126.8 L281.8,1125.7 L282.9,1124.6 L284.0,1123.5 L285.2,1122.4 L286.3,1121.2 L287.5,1120.1 L288.6,1119.0 L289.8,1117.9 L290.9,1116.8 L292.0,1115.7 L293.2,1114.7 L294.3,1113.6 L295.5,1112.5 L296.6,1111.4 L297.7,1110.4 L298.9,1109.4 L300.0,1108.3 L301.2,1107.3 L302.3,1106.3 L303.5,1105.3 L304.6,1104.4 L305.7,1103.4 L306.9,1102.5 L308.0,1101.6 L309.2,1100.7 L310.3,1099.8 L311.4,1098.9 L312.6,1098.1 L313.7,1097.3 L314.9,1096.5 L316.0,1095.7 L317.2,1094.9 L318.3,1094.2 L319.4,1093.5 L320.6,1092.8 L321.7,1092.1 L322.9,1091.4 L324.0,1090.8 L325.1,1090.1 L326.3,1089.5 L327.4,1088.9 L328.6,1088.4 L329.7,1087.8 L330.9,1087.3 L332.0,1086.8 L333.1,1086.3 L334.3,1085.8 L335.4,1085.3 L336.6,1084.9 L337.7,1084.4 L338.8,1084.0 L340.0,1083.6 L341.1,1083.2 L342.3,1082.9 L343.4,1082.5 L344.6,1082.2 L345.7,1081.8 L346.8,1081.5 L348.0,1081.2 L349.1,1080.9 L350.3,1080.6 L351.4,1080.3 L352.5,1080.1 L353.7,1079.8 L354.8,1079.6 L356.0,1079.3 L357.1,1079.1 L358.3,1078.9 L359.4,1078.7" fill="none" stroke="#333" stroke-width="1"/>
<path d="M132.2,1171.6 L133.3,1171.6 L134.5,1171.6 L135.6,1171.6 L136.8,1171.6 L137.9,1171.6 L139.1,1171.6 L140.2,1171.6 L141.3,1171.6 L142.5,1171.5 L143.6,1171.5 L144.8,1171.5 L145.9,1171.5 L147.0,1171.5 L148.2,1171.5 L149.3,1171.5 L150.5,1171.5 L151.6,1171.5 L152.8,1171.5 L153.9,1171.5 L155.0,1171.5 L156.2,1171.5 L157.3,1171.5 L158.5,1171.5 L159.6,1171.5 L160.7,1171.5 L161.9,1171.5 L163.0,1171.5 L164.2,1171.5 L165.3,1171.5 L166.5,1171.5 L167.6,1171.5 L168.7,1171.5 L169.9,1171.5 L171.0,1171.5 L172.2,1171.5 L173.3,1171.5 L174.4,1171.5 L175.6,1171.5 L176.7,1171.5 L177.9,1171.5 L179.0,1171.5 L180.2,1171.5 L181.3,1171.5 L182.4,1171.5 L183.6,1171.4 L184.7,1171.4 L185.9,1171.4 L187.0,1171.4 L188.1,1171.4 L189.3,1171.4 L190.4,1171.4 L191.6,1171.4 L192.7,1171.4 L193.9,1171.4 L195.0,1171.4 L196.1,1171.4 L197.3,1171.4 L198.4,1171.3 L199.6,1171.3 L200.7,1171.3 L201.8,1171.3 L203.0,1171.3 L204.1,1171.3 L205.3,1171.3 L206.4,1171.3 L207.6,1171.2 L208.7,1171.2 L209.8,1171.2 L211.0,1171.2 L212.1,1171.2 L213.3,1171.2 L214.4,1171.1 L215.5,1171.1 L216.7,1171.1 L217.8,1171.1 L219.0,1171.1 L220.1,1171.0 L221.3,1171.0 L222.4,1171.0 L223.5,1171.0 L224.7,1170.9 L225.8,1170.9 L227.0,1170.9 L228.1,1170.8 L229.2,1170.8 L230.4,1170.8 L231.5,1170.7 L232.7,1170.7 L233.8,1170.7 L235.0,1170.6 L236.1,1170.6 L237.2,1170.5 L238.4,1170.5 L239.5,1170.4 L240.7,1170.4 L241.8,1170.3 L242.9,1170.3 L244.1,1170.2 L245.2,1170.1 L246.4,1170.1 L247.5,1170.0 L248.7,1169.9 L249.8,1169.9 L250.9,1169.8 L252.1,1169.7 L253.2,1169.6 L254.4,1169.5 L255.5,1169.4 L256.6,1169.3 L257.8,1169.3 L258.9,1169.2 L260.1,1169.0 L261.2,1168.9 L262.4,1168.8 L263.5,1168.7 L264.6,1168.6 L265.8,1168.5 L266.9,1168.3 L268.1,1168.2 L269.2,1168.0 L270.3,1167.9 L271.5,1167.7 L272.6,1167.6 L273.8,1167.4 L274.9,1167.3 L276.1,1167.1 L277.2,1166.9 L278.3,1166.7 L279.5,1166.5 L280.6,1166.3 L281.8,1166.1 L282.9,1165.9 L284.0,1165.7 L285.2,1165.5 L286.3,1165.2 L287.5,1165.0 L288.6,1164.8 L289.8,1164.5 L290.9,1164.2 L292.0,1164.0 L293.2,1163.7 L294.3,1163.4 L295.5,1163.2 L296.6,1162.9 L297.7,1162.6 L298.9,1162.3 L300.0,1162.0 L301.2,1161.7 L302.3,1161.4 L303.5,1161.0 L304.6,1160.7 L305.7,1160.4 L306.9,1160.1 L308.0,1159.7 L309.2,1159.4 L310.3,1159.0 L311.4,1158.7 L312.6,1158.3 L313.7,1158.0 L314.9,1157.6 L316.0,1157.3 L317.2,1156.9 L318.3,1156.6 L319.4,1156.2 L320.6,1155.9 L321.7,1155.5 L322.9,1155.1 L324.0,1154.8 L325.1,1154.4 L326.3,1154.1 L327.4,1153.7 L328.6,1153.4 L329.7,1153.0 L330.9,1152.7 L332.0,1152.4 L333.1,1152.0 L334.3,1151.7 L335.4,1151.4 L336.6,1151.1 L337.7,1150.7 L338.8,1150.4 L340.0,1150.1 L341.1,1149.8 L342.3,1149.5 L343.4,1149.2 L344.6,1149.0 L345.7,1148.7 L346.8,1148.4 L348.0,1148.1 L349.1,1147.9 L350.3,1147.6 L351.4,1147.4 L352.5,1147.2 L353.7,1146.9 L354.8,1146.7 L356.0,1146.5 L357.1,1146.3 L358.3,1146.1 L359.4,1145.9" fill="none" stroke="#333" stroke-width="1"/>
<circle cx="233.0" cy="1169.4" r="3.1" fill="#fff" stroke="#222" stroke-width="0.9"/>
<circle cx="237.0" cy="1169.4" r="3.1" fill="#fff" stroke="#222" stroke-width="0.9"/>
<circle cx="241.4" cy="1169.4" r="3.1" fill="#fff" stroke="#222" stroke-width="0.9"/>
<circle cx="246.0" cy="1169.1" r="3.1" fill="#fff" stroke="#222" stroke-width="0.9"/>
<circle cx="262.4" cy="1169.4" r="3.1" fill="#fff" stroke="#222" stroke-width="0.9"/>
<circle cx="272.6" cy="1167.6" r="3.1" fill="#fff" stroke="#222" stroke-width="0.9"/>
<circle cx="279.8" cy="1166.2" r="3.1" fill="#fff" stroke="#222" stroke-width="0.9"/>
<circle cx="285.6" cy="1165.3" r="3.1" fill="#fff" stroke="#222" stroke-width="0.9"/>
<circle cx="291.3" cy="1162.4" r="3.1" fill="#fff" stroke="#222" stroke-width="0.9"/>
<circle cx="295.7" cy="1161.3" r="3.1" fill="#fff" stroke="#222" stroke-width="0.9"/>
<circle cx="299.1" cy="1161.0" r="3.1" fill="#fff" stroke="#222" stroke-width="0.9"/>
<circle cx="302.9" cy="1160.1" r="3.1" fill="#fff" stroke="#222" stroke-width="0.9"/>
<circle cx="319.4" cy="1154.4" r="3.1" fill="#fff" stroke="#222" stroke-width="0.9"/>
<circle cx="329.8" cy="1151.5" r="3.1" fill="#fff" stroke="#222" stroke-width="0.9"/>
<circle cx="337.0" cy="1150.0" r="3.1" fill="#fff" stroke="#222" stroke-width="0.9"/>
<circle cx="342.8" cy="1149.4" r="3.1" fill="#fff" stroke="#222" stroke-width="0.9"/>
<circle cx="175.8" cy="1170.2" r="3.1" fill="#111" stroke="#222" stroke-width="0.9"/>
<circle cx="180.1" cy="1170.0" r="3.1" fill="#111" stroke="#222" stroke-width="0.9"/>
<circle cx="183.9" cy="1169.7" r="3.1" fill="#111" stroke="#222" stroke-width="0.9"/>
<circle cx="188.8" cy="1168.8" r="3.1" fill="#111" stroke="#222" stroke-width="0.9"/>
<circle cx="206.1" cy="1165.9" r="3.1" fill="#111" stroke="#222" stroke-width="0.9"/>
<circle cx="215.6" cy="1163.0" r="3.1" fill="#111" stroke="#222" stroke-width="0.9"/>
<circle cx="222.9" cy="1161.9" r="3.1" fill="#111" stroke="#222" stroke-width="0.9"/>
<circle cx="229.2" cy="1156.7" r="3.1" fill="#111" stroke="#222" stroke-width="0.9"/>
<circle cx="234.1" cy="1157.5" r="3.1" fill="#111" stroke="#222" stroke-width="0.9"/>
<circle cx="237.9" cy="1155.8" r="3.1" fill="#111" stroke="#222" stroke-width="0.9"/>
<circle cx="240.8" cy="1154.4" r="3.1" fill="#111" stroke="#222" stroke-width="0.9"/>
<circle cx="246.0" cy="1148.9" r="3.1" fill="#111" stroke="#222" stroke-width="0.9"/>
<circle cx="262.4" cy="1140.2" r="3.1" fill="#111" stroke="#222" stroke-width="0.9"/>
<circle cx="272.6" cy="1129.2" r="3.1" fill="#111" stroke="#222" stroke-width="0.9"/>
<circle cx="279.8" cy="1122.0" r="3.1" fill="#111" stroke="#222" stroke-width="0.9"/>
<circle cx="285.6" cy="1115.4" r="3.1" fill="#111" stroke="#222" stroke-width="0.9"/>
<circle cx="289.9" cy="1122.6" r="3.1" fill="#111" stroke="#222" stroke-width="0.9"/>
<circle cx="294.2" cy="1115.4" r="3.1" fill="#111" stroke="#222" stroke-width="0.9"/>
<circle cx="297.7" cy="1113.3" r="3.1" fill="#111" stroke="#222" stroke-width="0.9"/>
<circle cx="302.9" cy="1107.0" r="3.1" fill="#111" stroke="#222" stroke-width="0.9"/>
<circle cx="319.4" cy="1093.1" r="3.1" fill="#111" stroke="#222" stroke-width="0.9"/>
<circle cx="330.3" cy="1085.9" r="3.1" fill="#111" stroke="#222" stroke-width="0.9"/>
<circle cx="337.0" cy="1080.7" r="3.1" fill="#111" stroke="#222" stroke-width="0.9"/>
<circle cx="342.5" cy="1081.0" r="3.1" fill="#111" stroke="#222" stroke-width="0.9"/>
<rect x="132.2" y="1074.0" width="227.2" height="102.8" fill="none" stroke="#666" stroke-width="1"/>
<line x1="149.3" y1="1176.8" x2="149.3" y2="1172.3" stroke="#666" stroke-width="1"/>
<line x1="149.3" y1="1074.0" x2="149.3" y2="1078.5" stroke="#666" stroke-width="1"/>
<line x1="159.3" y1="1176.8" x2="159.3" y2="1172.3" stroke="#666" stroke-width="1"/>
<line x1="159.3" y1="1074.0" x2="159.3" y2="1078.5" stroke="#666" stroke-width="1"/>
<line x1="166.4" y1="1176.8" x2="166.4" y2="1172.3" stroke="#666" stroke-width="1"/>
<line x1="166.4" y1="1074.0" x2="166.4" y2="1078.5" stroke="#666" stroke-width="1"/>
<line x1="171.9" y1="1176.8" x2="171.9" y2="1172.3" stroke="#666" stroke-width="1"/>
<line x1="171.9" y1="1074.0" x2="171.9" y2="1078.5" stroke="#666" stroke-width="1"/>
<line x1="176.4" y1="1176.8" x2="176.4" y2="1172.3" stroke="#666" stroke-width="1"/>
<line x1="176.4" y1="1074.0" x2="176.4" y2="1078.5" stroke="#666" stroke-width="1"/>
<line x1="180.2" y1="1176.8" x2="180.2" y2="1172.3" stroke="#666" stroke-width="1"/>
<line x1="180.2" y1="1074.0" x2="180.2" y2="1078.5" stroke="#666" stroke-width="1"/>
<line x1="183.5" y1="1176.8" x2="183.5" y2="1172.3" stroke="#666" stroke-width="1"/>
<line x1="183.5" y1="1074.0" x2="183.5" y2="1078.5" stroke="#666" stroke-width="1"/>
<line x1="186.4" y1="1176.8" x2="186.4" y2="1172.3" stroke="#666" stroke-width="1"/>
<line x1="186.4" y1="1074.0" x2="186.4" y2="1078.5" stroke="#666" stroke-width="1"/>
<line x1="189.0" y1="1176.8" x2="189.0" y2="1170.8" stroke="#666" stroke-width="1"/>
<line x1="189.0" y1="1074.0" x2="189.0" y2="1080.0" stroke="#666" stroke-width="1"/>
<line x1="206.1" y1="1176.8" x2="206.1" y2="1172.3" stroke="#666" stroke-width="1"/>
<line x1="206.1" y1="1074.0" x2="206.1" y2="1078.5" stroke="#666" stroke-width="1"/>
<line x1="216.1" y1="1176.8" x2="216.1" y2="1172.3" stroke="#666" stroke-width="1"/>
<line x1="216.1" y1="1074.0" x2="216.1" y2="1078.5" stroke="#666" stroke-width="1"/>
<line x1="223.2" y1="1176.8" x2="223.2" y2="1172.3" stroke="#666" stroke-width="1"/>
<line x1="223.2" y1="1074.0" x2="223.2" y2="1078.5" stroke="#666" stroke-width="1"/>
<line x1="228.7" y1="1176.8" x2="228.7" y2="1172.3" stroke="#666" stroke-width="1"/>
<line x1="228.7" y1="1074.0" x2="228.7" y2="1078.5" stroke="#666" stroke-width="1"/>
<line x1="233.2" y1="1176.8" x2="233.2" y2="1172.3" stroke="#666" stroke-width="1"/>
<line x1="233.2" y1="1074.0" x2="233.2" y2="1078.5" stroke="#666" stroke-width="1"/>
<line x1="237.0" y1="1176.8" x2="237.0" y2="1172.3" stroke="#666" stroke-width="1"/>
<line x1="237.0" y1="1074.0" x2="237.0" y2="1078.5" stroke="#666" stroke-width="1"/>
<line x1="240.3" y1="1176.8" x2="240.3" y2="1172.3" stroke="#666" stroke-width="1"/>
<line x1="240.3" y1="1074.0" x2="240.3" y2="1078.5" stroke="#666" stroke-width="1"/>
<line x1="243.2" y1="1176.8" x2="243.2" y2="1172.3" stroke="#666" stroke-width="1"/>
<line x1="243.2" y1="1074.0" x2="243.2" y2="1078.5" stroke="#666" stroke-width="1"/>
<line x1="245.8" y1="1176.8" x2="245.8" y2="1170.8" stroke="#666" stroke-width="1"/>
<line x1="245.8" y1="1074.0" x2="245.8" y2="1080.0" stroke="#666" stroke-width="1"/>
<line x1="262.9" y1="1176.8" x2="262.9" y2="1172.3" stroke="#666" stroke-width="1"/>
<line x1="262.9" y1="1074.0" x2="262.9" y2="1078.5" stroke="#666" stroke-width="1"/>
<line x1="272.9" y1="1176.8" x2="272.9" y2="1172.3" stroke="#666" stroke-width="1"/>
<line x1="272.9" y1="1074.0" x2="272.9" y2="1078.5" stroke="#666" stroke-width="1"/>
<line x1="280.0" y1="1176.8" x2="280.0" y2="1172.3" stroke="#666" stroke-width="1"/>
<line x1="280.0" y1="1074.0" x2="280.0" y2="1078.5" stroke="#666" stroke-width="1"/>
<line x1="285.5" y1="1176.8" x2="285.5" y2="1172.3" stroke="#666" stroke-width="1"/>
<line x1="285.5" y1="1074.0" x2="285.5" y2="1078.5" stroke="#666" stroke-width="1"/>
<line x1="290.0" y1="1176.8" x2="290.0" y2="1172.3" stroke="#666" stroke-width="1"/>
<line x1="290.0" y1="1074.0" x2="290.0" y2="1078.5" stroke="#666" stroke-width="1"/>
<line x1="293.8" y1="1176.8" x2="293.8" y2="1172.3" stroke="#666" stroke-width="1"/>
<line x1="293.8" y1="1074.0" x2="293.8" y2="1078.5" stroke="#666" stroke-width="1"/>
<line x1="297.1" y1="1176.8" x2="297.1" y2="1172.3" stroke="#666" stroke-width="1"/>
<line x1="297.1" y1="1074.0" x2="297.1" y2="1078.5" stroke="#666" stroke-width="1"/>
<line x1="300.0" y1="1176.8" x2="300.0" y2="1172.3" stroke="#666" stroke-width="1"/>
<line x1="300.0" y1="1074.0" x2="300.0" y2="1078.5" stroke="#666" stroke-width="1"/>
<line x1="302.6" y1="1176.8" x2="302.6" y2="1170.8" stroke="#666" stroke-width="1"/>
<line x1="302.6" y1="1074.0" x2="302.6" y2="1080.0" stroke="#666" stroke-width="1"/>
<line x1="319.7" y1="1176.8" x2="319.7" y2="1172.3" stroke="#666" stroke-width="1"/>
<line x1="319.7" y1="1074.0" x2="319.7" y2="1078.5" stroke="#666" stroke-width="1"/>
<line x1="329.7" y1="1176.8" x2="329.7" y2="1172.3" stroke="#666" stroke-width="1"/>
<line x1="329.7" y1="1074.0" x2="329.7" y2="1078.5" stroke="#666" stroke-width="1"/>
<line x1="336.8" y1="1176.8" x2="336.8" y2="1172.3" stroke="#666" stroke-width="1"/>
<line x1="336.8" y1="1074.0" x2="336.8" y2="1078.5" stroke="#666" stroke-width="1"/>
<line x1="342.3" y1="1176.8" x2="342.3" y2="1172.3" stroke="#666" stroke-width="1"/>
<line x1="342.3" y1="1074.0" x2="342.3" y2="1078.5" stroke="#666" stroke-width="1"/>
<line x1="346.8" y1="1176.8" x2="346.8" y2="1172.3" stroke="#666" stroke-width="1"/>
<line x1="346.8" y1="1074.0" x2="346.8" y2="1078.5" stroke="#666" stroke-width="1"/>
<line x1="350.6" y1="1176.8" x2="350.6" y2="1172.3" stroke="#666" stroke-width="1"/>
<line x1="350.6" y1="1074.0" x2="350.6" y2="1078.5" stroke="#666" stroke-width="1"/>
<line x1="353.9" y1="1176.8" x2="353.9" y2="1172.3" stroke="#666" stroke-width="1"/>
<line x1="353.9" y1="1074.0" x2="353.9" y2="1078.5" stroke="#666" stroke-width="1"/>
<line x1="356.8" y1="1176.8" x2="356.8" y2="1172.3" stroke="#666" stroke-width="1"/>
<line x1="356.8" y1="1074.0" x2="356.8" y2="1078.5" stroke="#666" stroke-width="1"/>
<line x1="132.2" y1="1168.5" x2="135.7" y2="1168.5" stroke="#666" stroke-width="1"/>
<line x1="359.4" y1="1168.5" x2="355.9" y2="1168.5" stroke="#666" stroke-width="1"/>
<line x1="132.2" y1="1160.0" x2="135.7" y2="1160.0" stroke="#666" stroke-width="1"/>
<line x1="359.4" y1="1160.0" x2="355.9" y2="1160.0" stroke="#666" stroke-width="1"/>
<line x1="132.2" y1="1151.6" x2="135.7" y2="1151.6" stroke="#666" stroke-width="1"/>
<line x1="359.4" y1="1151.6" x2="355.9" y2="1151.6" stroke="#666" stroke-width="1"/>
<line x1="132.2" y1="1143.1" x2="135.7" y2="1143.1" stroke="#666" stroke-width="1"/>
<line x1="359.4" y1="1143.1" x2="355.9" y2="1143.1" stroke="#666" stroke-width="1"/>
<line x1="132.2" y1="1134.6" x2="137.2" y2="1134.6" stroke="#666" stroke-width="1"/>
<line x1="359.4" y1="1134.6" x2="354.4" y2="1134.6" stroke="#666" stroke-width="1"/>
<line x1="132.2" y1="1126.1" x2="135.7" y2="1126.1" stroke="#666" stroke-width="1"/>
<line x1="359.4" y1="1126.1" x2="355.9" y2="1126.1" stroke="#666" stroke-width="1"/>
<line x1="132.2" y1="1117.6" x2="135.7" y2="1117.6" stroke="#666" stroke-width="1"/>
<line x1="359.4" y1="1117.6" x2="355.9" y2="1117.6" stroke="#666" stroke-width="1"/>
<line x1="132.2" y1="1109.2" x2="135.7" y2="1109.2" stroke="#666" stroke-width="1"/>
<line x1="359.4" y1="1109.2" x2="355.9" y2="1109.2" stroke="#666" stroke-width="1"/>
<line x1="132.2" y1="1100.7" x2="135.7" y2="1100.7" stroke="#666" stroke-width="1"/>
<line x1="359.4" y1="1100.7" x2="355.9" y2="1100.7" stroke="#666" stroke-width="1"/>
<line x1="132.2" y1="1092.2" x2="137.2" y2="1092.2" stroke="#666" stroke-width="1"/>
<line x1="359.4" y1="1092.2" x2="354.4" y2="1092.2" stroke="#666" stroke-width="1"/>
<line x1="132.2" y1="1083.7" x2="135.7" y2="1083.7" stroke="#666" stroke-width="1"/>
<line x1="359.4" y1="1083.7" x2="355.9" y2="1083.7" stroke="#666" stroke-width="1"/>
<text x="125.7" y="1180.9" font-size="10.9" text-anchor="end" fill="#333">0</text>
<text x="125.7" y="1138.5" font-size="10.9" text-anchor="end" fill="#333">0.05</text>
<text x="125.7" y="1096.1" font-size="10.9" text-anchor="end" fill="#333">0.1</text>
<text x="132.2" y="1195.5" font-size="10.9" text-anchor="middle" fill="#333">0.1</text>
<text x="189.0" y="1195.5" font-size="10.9" text-anchor="middle" fill="#333">1</text>
<text x="245.8" y="1195.5" font-size="10.9" text-anchor="middle" fill="#333">10</text>
<text x="302.6" y="1195.5" font-size="10.9" text-anchor="middle" fill="#333">100</text>
<text x="359.4" y="1195.5" font-size="10.9" text-anchor="middle" fill="#333">1000</text>
<text x="246.5" y="1210.5" font-size="11.4" text-anchor="middle" fill="#333" textLength="95.0" lengthAdjust="spacingAndGlyphs">[compound / µM]</text>
<text transform="translate(95.9 1149) rotate(-90)" font-size="10.2" fill="#333">k<tspan font-size="7.5" dy="2">obs</tspan><tspan dy="-2"> / 10</tspan><tspan font-size="7" dy="-4">-3</tspan><tspan dy="4"> s</tspan><tspan font-size="7" dy="-4">-1</tspan></text>
<circle cx="147.7" cy="1091.1" r="3.2" fill="#111" stroke="#222" stroke-width="0.9"/>
<circle cx="147.5" cy="1105.2" r="3.2" fill="#fff" stroke="#222" stroke-width="0.9"/>
<text x="157.7" y="1095.6" font-size="12.2" fill="#333" textLength="23.1" lengthAdjust="spacingAndGlyphs">I942</text>
<text x="157.7" y="1109.8" font-size="12.2" fill="#333" textLength="23.1" lengthAdjust="spacingAndGlyphs">I178</text>
<path d="M432.0,897.0 L433.1,897.0 L434.3,897.0 L435.4,897.0 L436.6,897.1 L437.7,897.1 L438.8,897.1 L440.0,897.1 L441.1,897.1 L442.3,897.1 L443.4,897.1 L444.6,897.1 L445.7,897.2 L446.8,897.2 L448.0,897.2 L449.1,897.2 L450.3,897.2 L451.4,897.2 L452.5,897.3 L453.7,897.3 L454.8,897.3 L456.0,897.3 L457.1,897.4 L458.3,897.4 L459.4,897.4 L460.5,897.4 L461.7,897.4 L462.8,897.5 L464.0,897.5 L465.1,897.5 L466.2,897.6 L467.4,897.6 L468.5,897.6 L469.7,897.7 L470.8,897.7 L472.0,897.7 L473.1,897.8 L474.2,897.8 L475.4,897.8 L476.5,897.9 L477.7,897.9 L478.8,898.0 L479.9,898.0 L481.1,898.0 L482.2,898.1 L483.4,898.1 L484.5,898.2 L485.7,898.2 L486.8,898.3 L487.9,898.4 L489.1,898.4 L490.2,898.5 L491.4,898.5 L492.5,898.6 L493.6,898.7 L494.8,898.7 L495.9,898.8 L497.1,898.9 L498.2,899.0 L499.4,899.0 L500.5,899.1 L501.6,899.2 L502.8,899.3 L503.9,899.4 L505.1,899.5 L506.2,899.6 L507.3,899.7 L508.5,899.8 L509.6,899.9 L510.8,900.0 L511.9,900.1 L513.1,900.2 L514.2,900.3 L515.3,900.5 L516.5,900.6 L517.6,900.7 L518.8,900.9 L519.9,901.0 L521.0,901.1 L522.2,901.3 L523.3,901.5 L524.5,901.6 L525.6,901.8 L526.8,902.0 L527.9,902.1 L529.0,902.3 L530.2,902.5 L531.3,902.7 L532.5,902.9 L533.6,903.1 L534.7,903.3 L535.9,903.6 L537.0,903.8 L538.2,904.0 L539.3,904.3 L540.5,904.5 L541.6,904.8 L542.7,905.1 L543.9,905.4 L545.0,905.6 L546.2,905.9 L547.3,906.2 L548.4,906.6 L549.6,906.9 L550.7,907.2 L551.9,907.6 L553.0,907.9 L554.2,908.3 L555.3,908.7 L556.4,909.0 L557.6,909.4 L558.7,909.9 L559.9,910.3 L561.0,910.7 L562.1,911.2 L563.3,911.6 L564.4,912.1 L565.6,912.6 L566.7,913.1 L567.9,913.6 L569.0,914.1 L570.1,914.7 L571.3,915.2 L572.4,915.8 L573.6,916.4 L574.7,917.0 L575.8,917.6 L577.0,918.3 L578.1,918.9 L579.3,919.6 L580.4,920.3 L581.6,921.0 L582.7,921.7 L583.8,922.4 L585.0,923.2 L586.1,923.9 L587.3,924.7 L588.4,925.5 L589.5,926.3 L590.7,927.2 L591.8,928.0 L593.0,928.9 L594.1,929.8 L595.3,930.7 L596.4,931.6 L597.5,932.6 L598.7,933.5 L599.8,934.5 L601.0,935.5 L602.1,936.5 L603.2,937.6 L604.4,938.6 L605.5,939.7 L606.7,940.7 L607.8,941.8 L609.0,942.9 L610.1,944.1 L611.2,945.2 L612.4,946.4 L613.5,947.5 L614.7,948.7 L615.8,949.9 L616.9,951.1 L618.1,952.4 L619.2,953.6 L620.4,954.8 L621.5,956.1 L622.7,957.4 L623.8,958.6 L624.9,959.9 L626.1,961.2 L627.2,962.5 L628.4,963.8 L629.5,965.1 L630.6,966.4 L631.8,967.7 L632.9,969.1 L634.1,970.4 L635.2,971.7 L636.4,973.0 L637.5,974.4 L638.6,975.7 L639.8,977.0 L640.9,978.3 L642.1,979.7 L643.2,981.0 L644.3,982.3 L645.5,983.6 L646.6,984.9 L647.8,986.2 L648.9,987.4 L650.1,988.7 L651.2,990.0 L652.3,991.2 L653.5,992.5 L654.6,993.7 L655.8,994.9 L656.9,996.2 L658.0,997.4 L659.2,998.5" fill="none" stroke="#333" stroke-width="1"/>
<path d="M432.0,910.5 L433.1,910.6 L434.3,910.6 L435.4,910.6 L436.6,910.6 L437.7,910.6 L438.8,910.6 L440.0,910.7 L441.1,910.7 L442.3,910.7 L443.4,910.7 L444.6,910.7 L445.7,910.8 L446.8,910.8 L448.0,910.8 L449.1,910.8 L450.3,910.9 L451.4,910.9 L452.5,910.9 L453.7,911.0 L454.8,911.0 L456.0,911.0 L457.1,911.0 L458.3,911.1 L459.4,911.1 L460.5,911.1 L461.7,911.2 L462.8,911.2 L464.0,911.3 L465.1,911.3 L466.2,911.3 L467.4,911.4 L468.5,911.4 L469.7,911.5 L470.8,911.5 L472.0,911.6 L473.1,911.6 L474.2,911.7 L475.4,911.7 L476.5,911.8 L477.7,911.9 L478.8,911.9 L479.9,912.0 L481.1,912.0 L482.2,912.1 L483.4,912.2 L484.5,912.3 L485.7,912.3 L486.8,912.4 L487.9,912.5 L489.1,912.6 L490.2,912.7 L491.4,912.7 L492.5,912.8 L493.6,912.9 L494.8,913.0 L495.9,913.1 L497.1,913.2 L498.2,913.3 L499.4,913.4 L500.5,913.6 L501.6,913.7 L502.8,913.8 L503.9,913.9 L505.1,914.1 L506.2,914.2 L507.3,914.3 L508.5,914.5 L509.6,914.6 L510.8,914.8 L511.9,914.9 L513.1,915.1 L514.2,915.3 L515.3,915.5 L516.5,915.6 L517.6,915.8 L518.8,916.0 L519.9,916.2 L521.0,916.4 L522.2,916.6 L523.3,916.9 L524.5,917.1 L525.6,917.3 L526.8,917.6 L527.9,917.8 L529.0,918.1 L530.2,918.3 L531.3,918.6 L532.5,918.9 L533.6,919.2 L534.7,919.5 L535.9,919.8 L537.0,920.1 L538.2,920.4 L539.3,920.7 L540.5,921.1 L541.6,921.4 L542.7,921.8 L543.9,922.2 L545.0,922.6 L546.2,923.0 L547.3,923.4 L548.4,923.8 L549.6,924.2 L550.7,924.7 L551.9,925.1 L553.0,925.6 L554.2,926.1 L555.3,926.6 L556.4,927.1 L557.6,927.6 L558.7,928.2 L559.9,928.7 L561.0,929.3 L562.1,929.8 L563.3,930.4 L564.4,931.0 L565.6,931.7 L566.7,932.3 L567.9,932.9 L569.0,933.6 L570.1,934.3 L571.3,935.0 L572.4,935.7 L573.6,936.4 L574.7,937.1 L575.8,937.9 L577.0,938.7 L578.1,939.5 L579.3,940.3 L580.4,941.1 L581.6,941.9 L582.7,942.8 L583.8,943.6 L585.0,944.5 L586.1,945.4 L587.3,946.3 L588.4,947.2 L589.5,948.2 L590.7,949.1 L591.8,950.1 L593.0,951.0 L594.1,952.0 L595.3,953.0 L596.4,954.1 L597.5,955.1 L598.7,956.1 L599.8,957.2 L601.0,958.2 L602.1,959.3 L603.2,960.4 L604.4,961.5 L605.5,962.6 L606.7,963.7 L607.8,964.8 L609.0,965.9 L610.1,967.0 L611.2,968.2 L612.4,969.3 L613.5,970.4 L614.7,971.6 L615.8,972.7 L616.9,973.9 L618.1,975.0 L619.2,976.2 L620.4,977.4 L621.5,978.5 L622.7,979.7 L623.8,980.8 L624.9,982.0 L626.1,983.1 L627.2,984.2 L628.4,985.4 L629.5,986.5 L630.6,987.6 L631.8,988.7 L632.9,989.9 L634.1,991.0 L635.2,992.1 L636.4,993.1 L637.5,994.2 L638.6,995.3 L639.8,996.3 L640.9,997.4 L642.1,998.4 L643.2,999.4 L644.3,1000.5 L645.5,1001.5 L646.6,1002.4 L647.8,1003.4 L648.9,1004.4 L650.1,1005.3 L651.2,1006.2 L652.3,1007.2 L653.5,1008.1 L654.6,1009.0 L655.8,1009.8 L656.9,1010.7 L658.0,1011.5 L659.2,1012.4" fill="none" stroke="#333" stroke-width="1"/>
<circle cx="530.1" cy="897.0" r="3.1" fill="#fff" stroke="#222" stroke-width="0.9"/>
<circle cx="543.5" cy="906.3" r="3.1" fill="#fff" stroke="#222" stroke-width="0.9"/>
<circle cx="553.1" cy="907.5" r="3.1" fill="#fff" stroke="#222" stroke-width="0.9"/>
<circle cx="560.4" cy="909.7" r="3.1" fill="#fff" stroke="#222" stroke-width="0.9"/>
<circle cx="566.5" cy="916.1" r="3.1" fill="#fff" stroke="#222" stroke-width="0.9"/>
<circle cx="571.6" cy="918.5" r="3.1" fill="#fff" stroke="#222" stroke-width="0.9"/>
<circle cx="576.3" cy="912.9" r="3.1" fill="#fff" stroke="#222" stroke-width="0.9"/>
<circle cx="583.6" cy="911.7" r="3.1" fill="#fff" stroke="#222" stroke-width="0.9"/>
<circle cx="605.9" cy="947.1" r="3.1" fill="#fff" stroke="#222" stroke-width="0.9"/>
<circle cx="619.3" cy="953.2" r="3.1" fill="#fff" stroke="#222" stroke-width="0.9"/>
<circle cx="629.1" cy="965.0" r="3.1" fill="#fff" stroke="#222" stroke-width="0.9"/>
<circle cx="636.9" cy="966.7" r="3.1" fill="#fff" stroke="#222" stroke-width="0.9"/>
<circle cx="454.5" cy="920.1" r="3.1" fill="#111" stroke="#222" stroke-width="0.9"/>
<circle cx="468.0" cy="913.9" r="3.1" fill="#111" stroke="#222" stroke-width="0.9"/>
<circle cx="477.7" cy="925.9" r="3.1" fill="#111" stroke="#222" stroke-width="0.9"/>
<circle cx="484.4" cy="911.0" r="3.1" fill="#111" stroke="#222" stroke-width="0.9"/>
<circle cx="490.2" cy="913.3" r="3.1" fill="#111" stroke="#222" stroke-width="0.9"/>
<circle cx="495.6" cy="911.0" r="3.1" fill="#111" stroke="#222" stroke-width="0.9"/>
<circle cx="500.2" cy="904.7" r="3.1" fill="#111" stroke="#222" stroke-width="0.9"/>
<circle cx="507.5" cy="897.0" r="3.1" fill="#111" stroke="#222" stroke-width="0.9"/>
<circle cx="530.1" cy="922.2" r="3.1" fill="#111" stroke="#222" stroke-width="0.9"/>
<circle cx="543.5" cy="916.1" r="3.1" fill="#111" stroke="#222" stroke-width="0.9"/>
<circle cx="553.1" cy="916.6" r="3.1" fill="#111" stroke="#222" stroke-width="0.9"/>
<circle cx="560.4" cy="931.2" r="3.1" fill="#111" stroke="#222" stroke-width="0.9"/>
<circle cx="566.5" cy="932.9" r="3.1" fill="#111" stroke="#222" stroke-width="0.9"/>
<circle cx="571.6" cy="936.1" r="3.1" fill="#111" stroke="#222" stroke-width="0.9"/>
<circle cx="576.3" cy="934.2" r="3.1" fill="#111" stroke="#222" stroke-width="0.9"/>
<circle cx="583.6" cy="938.1" r="3.1" fill="#111" stroke="#222" stroke-width="0.9"/>
<circle cx="605.9" cy="967.2" r="3.1" fill="#111" stroke="#222" stroke-width="0.9"/>
<circle cx="619.3" cy="976.5" r="3.1" fill="#111" stroke="#222" stroke-width="0.9"/>
<circle cx="629.1" cy="988.7" r="3.1" fill="#111" stroke="#222" stroke-width="0.9"/>
<circle cx="636.9" cy="995.5" r="3.1" fill="#111" stroke="#222" stroke-width="0.9"/>
<rect x="432.0" y="882.6" width="227.6" height="175.2" fill="none" stroke="#666" stroke-width="1"/>
<line x1="454.8" y1="1057.8" x2="454.8" y2="1053.3" stroke="#666" stroke-width="1"/>
<line x1="454.8" y1="882.6" x2="454.8" y2="887.1" stroke="#666" stroke-width="1"/>
<line x1="468.1" y1="1057.8" x2="468.1" y2="1053.3" stroke="#666" stroke-width="1"/>
<line x1="468.1" y1="882.6" x2="468.1" y2="887.1" stroke="#666" stroke-width="1"/>
<line x1="477.6" y1="1057.8" x2="477.6" y2="1053.3" stroke="#666" stroke-width="1"/>
<line x1="477.6" y1="882.6" x2="477.6" y2="887.1" stroke="#666" stroke-width="1"/>
<line x1="484.9" y1="1057.8" x2="484.9" y2="1053.3" stroke="#666" stroke-width="1"/>
<line x1="484.9" y1="882.6" x2="484.9" y2="887.1" stroke="#666" stroke-width="1"/>
<line x1="490.9" y1="1057.8" x2="490.9" y2="1053.3" stroke="#666" stroke-width="1"/>
<line x1="490.9" y1="882.6" x2="490.9" y2="887.1" stroke="#666" stroke-width="1"/>
<line x1="496.0" y1="1057.8" x2="496.0" y2="1053.3" stroke="#666" stroke-width="1"/>
<line x1="496.0" y1="882.6" x2="496.0" y2="887.1" stroke="#666" stroke-width="1"/>
<line x1="500.4" y1="1057.8" x2="500.4" y2="1053.3" stroke="#666" stroke-width="1"/>
<line x1="500.4" y1="882.6" x2="500.4" y2="887.1" stroke="#666" stroke-width="1"/>
<line x1="504.3" y1="1057.8" x2="504.3" y2="1053.3" stroke="#666" stroke-width="1"/>
<line x1="504.3" y1="882.6" x2="504.3" y2="887.1" stroke="#666" stroke-width="1"/>
<line x1="507.7" y1="1057.8" x2="507.7" y2="1051.8" stroke="#666" stroke-width="1"/>
<line x1="507.7" y1="882.6" x2="507.7" y2="888.6" stroke="#666" stroke-width="1"/>
<line x1="530.5" y1="1057.8" x2="530.5" y2="1053.3" stroke="#666" stroke-width="1"/>
<line x1="530.5" y1="882.6" x2="530.5" y2="887.1" stroke="#666" stroke-width="1"/>
<line x1="543.9" y1="1057.8" x2="543.9" y2="1053.3" stroke="#666" stroke-width="1"/>
<line x1="543.9" y1="882.6" x2="543.9" y2="887.1" stroke="#666" stroke-width="1"/>
<line x1="553.3" y1="1057.8" x2="553.3" y2="1053.3" stroke="#666" stroke-width="1"/>
<line x1="553.3" y1="882.6" x2="553.3" y2="887.1" stroke="#666" stroke-width="1"/>
<line x1="560.7" y1="1057.8" x2="560.7" y2="1053.3" stroke="#666" stroke-width="1"/>
<line x1="560.7" y1="882.6" x2="560.7" y2="887.1" stroke="#666" stroke-width="1"/>
<line x1="566.7" y1="1057.8" x2="566.7" y2="1053.3" stroke="#666" stroke-width="1"/>
<line x1="566.7" y1="882.6" x2="566.7" y2="887.1" stroke="#666" stroke-width="1"/>
<line x1="571.7" y1="1057.8" x2="571.7" y2="1053.3" stroke="#666" stroke-width="1"/>
<line x1="571.7" y1="882.6" x2="571.7" y2="887.1" stroke="#666" stroke-width="1"/>
<line x1="576.1" y1="1057.8" x2="576.1" y2="1053.3" stroke="#666" stroke-width="1"/>
<line x1="576.1" y1="882.6" x2="576.1" y2="887.1" stroke="#666" stroke-width="1"/>
<line x1="580.0" y1="1057.8" x2="580.0" y2="1053.3" stroke="#666" stroke-width="1"/>
<line x1="580.0" y1="882.6" x2="580.0" y2="887.1" stroke="#666" stroke-width="1"/>
<line x1="583.5" y1="1057.8" x2="583.5" y2="1051.8" stroke="#666" stroke-width="1"/>
<line x1="583.5" y1="882.6" x2="583.5" y2="888.6" stroke="#666" stroke-width="1"/>
<line x1="606.3" y1="1057.8" x2="606.3" y2="1053.3" stroke="#666" stroke-width="1"/>
<line x1="606.3" y1="882.6" x2="606.3" y2="887.1" stroke="#666" stroke-width="1"/>
<line x1="619.6" y1="1057.8" x2="619.6" y2="1053.3" stroke="#666" stroke-width="1"/>
<line x1="619.6" y1="882.6" x2="619.6" y2="887.1" stroke="#666" stroke-width="1"/>
<line x1="629.1" y1="1057.8" x2="629.1" y2="1053.3" stroke="#666" stroke-width="1"/>
<line x1="629.1" y1="882.6" x2="629.1" y2="887.1" stroke="#666" stroke-width="1"/>
<line x1="636.4" y1="1057.8" x2="636.4" y2="1053.3" stroke="#666" stroke-width="1"/>
<line x1="636.4" y1="882.6" x2="636.4" y2="887.1" stroke="#666" stroke-width="1"/>
<line x1="642.4" y1="1057.8" x2="642.4" y2="1053.3" stroke="#666" stroke-width="1"/>
<line x1="642.4" y1="882.6" x2="642.4" y2="887.1" stroke="#666" stroke-width="1"/>
<line x1="647.5" y1="1057.8" x2="647.5" y2="1053.3" stroke="#666" stroke-width="1"/>
<line x1="647.5" y1="882.6" x2="647.5" y2="887.1" stroke="#666" stroke-width="1"/>
<line x1="651.9" y1="1057.8" x2="651.9" y2="1053.3" stroke="#666" stroke-width="1"/>
<line x1="651.9" y1="882.6" x2="651.9" y2="887.1" stroke="#666" stroke-width="1"/>
<line x1="655.7" y1="1057.8" x2="655.7" y2="1053.3" stroke="#666" stroke-width="1"/>
<line x1="655.7" y1="882.6" x2="655.7" y2="887.1" stroke="#666" stroke-width="1"/>
<line x1="432.0" y1="1044.1" x2="436.0" y2="1044.1" stroke="#666" stroke-width="1"/>
<line x1="659.6" y1="1044.1" x2="655.6" y2="1044.1" stroke="#666" stroke-width="1"/>
<line x1="432.0" y1="1030.7" x2="438.0" y2="1030.7" stroke="#666" stroke-width="1"/>
<line x1="659.6" y1="1030.7" x2="653.6" y2="1030.7" stroke="#666" stroke-width="1"/>
<line x1="432.0" y1="1017.3" x2="436.0" y2="1017.3" stroke="#666" stroke-width="1"/>
<line x1="659.6" y1="1017.3" x2="655.6" y2="1017.3" stroke="#666" stroke-width="1"/>
<line x1="432.0" y1="1003.9" x2="438.0" y2="1003.9" stroke="#666" stroke-width="1"/>
<line x1="659.6" y1="1003.9" x2="653.6" y2="1003.9" stroke="#666" stroke-width="1"/>
<line x1="432.0" y1="990.5" x2="436.0" y2="990.5" stroke="#666" stroke-width="1"/>
<line x1="659.6" y1="990.5" x2="655.6" y2="990.5" stroke="#666" stroke-width="1"/>
<line x1="432.0" y1="977.1" x2="438.0" y2="977.1" stroke="#666" stroke-width="1"/>
<line x1="659.6" y1="977.1" x2="653.6" y2="977.1" stroke="#666" stroke-width="1"/>
<line x1="432.0" y1="963.7" x2="436.0" y2="963.7" stroke="#666" stroke-width="1"/>
<line x1="659.6" y1="963.7" x2="655.6" y2="963.7" stroke="#666" stroke-width="1"/>
<line x1="432.0" y1="950.3" x2="438.0" y2="950.3" stroke="#666" stroke-width="1"/>
<line x1="659.6" y1="950.3" x2="653.6" y2="950.3" stroke="#666" stroke-width="1"/>
<line x1="432.0" y1="936.9" x2="436.0" y2="936.9" stroke="#666" stroke-width="1"/>
<line x1="659.6" y1="936.9" x2="655.6" y2="936.9" stroke="#666" stroke-width="1"/>
<line x1="432.0" y1="923.5" x2="438.0" y2="923.5" stroke="#666" stroke-width="1"/>
<line x1="659.6" y1="923.5" x2="653.6" y2="923.5" stroke="#666" stroke-width="1"/>
<line x1="432.0" y1="910.1" x2="436.0" y2="910.1" stroke="#666" stroke-width="1"/>
<line x1="659.6" y1="910.1" x2="655.6" y2="910.1" stroke="#666" stroke-width="1"/>
<line x1="432.0" y1="896.7" x2="438.0" y2="896.7" stroke="#666" stroke-width="1"/>
<line x1="659.6" y1="896.7" x2="653.6" y2="896.7" stroke="#666" stroke-width="1"/>
<text x="425.5" y="1061.4" font-size="10.9" text-anchor="end" fill="#333">0</text>
<text x="425.5" y="1034.6" font-size="10.9" text-anchor="end" fill="#333">0.2</text>
<text x="425.5" y="1007.8" font-size="10.9" text-anchor="end" fill="#333">0.4</text>
<text x="425.5" y="981.0" font-size="10.9" text-anchor="end" fill="#333">0.6</text>
<text x="425.5" y="954.2" font-size="10.9" text-anchor="end" fill="#333">0.8</text>
<text x="425.5" y="927.4" font-size="10.9" text-anchor="end" fill="#333">1.0</text>
<text x="425.5" y="900.6" font-size="10.9" text-anchor="end" fill="#333">1.2</text>
<text x="432.0" y="1077.2" font-size="10.9" text-anchor="middle" fill="#333">1</text>
<text x="507.7" y="1077.2" font-size="10.9" text-anchor="middle" fill="#333">10</text>
<text x="583.5" y="1077.2" font-size="10.9" text-anchor="middle" fill="#333">100</text>
<text x="659.2" y="1077.2" font-size="10.9" text-anchor="middle" fill="#333">1000</text>
<text x="550.9" y="1089.2" font-size="11.4" text-anchor="middle" fill="#333" textLength="96.0" lengthAdjust="spacingAndGlyphs">[compound / µM]</text>
<text transform="translate(399.4 987) rotate(-90)" font-size="10.2" fill="#333">k<tspan font-size="7.5" dy="2">obs</tspan><tspan dy="-2"> / 10</tspan><tspan font-size="7" dy="-4">-3</tspan><tspan dy="4"> s</tspan><tspan font-size="7" dy="-4">-1</tspan></text>
<text x="566.5" y="901.0" font-size="11.8" fill="#333" textLength="80.9" lengthAdjust="spacingAndGlyphs">500 µM cAMP</text>
<circle cx="448.3" cy="1023.4" r="2.9" fill="#111" stroke="#222" stroke-width="0.9"/>
<circle cx="448.3" cy="1037.4" r="2.9" fill="#fff" stroke="#222" stroke-width="0.9"/>
<text x="457.3" y="1027.2" font-size="11.2" fill="#333" textLength="23.8" lengthAdjust="spacingAndGlyphs">I942</text>
<text x="457.3" y="1041.4" font-size="11.2" fill="#333" textLength="23.8" lengthAdjust="spacingAndGlyphs">I178</text>
<text x="493.1" y="1027.2" font-size="11.2" fill="#333" textLength="12.0" lengthAdjust="spacingAndGlyphs">IC</text>
<text x="506.0" y="1030.6" font-size="8.6" fill="#333" textLength="8.7" lengthAdjust="spacingAndGlyphs">50</text>
<text x="519.6" y="1027.5" font-size="14" fill="#666" textLength="9.8" lengthAdjust="spacingAndGlyphs">≈</text>
<text x="535.6" y="1027.2" font-size="11.2" fill="#333" textLength="42.2" lengthAdjust="spacingAndGlyphs">300 µM</text>
<text x="493.1" y="1041.4" font-size="11.2" fill="#333" textLength="12.0" lengthAdjust="spacingAndGlyphs">IC</text>
<text x="506.0" y="1044.8" font-size="8.6" fill="#333" textLength="8.7" lengthAdjust="spacingAndGlyphs">50</text>
<text x="519.6" y="1041.7" font-size="14" fill="#666" textLength="9.8" lengthAdjust="spacingAndGlyphs">≈</text>
<text x="535.6" y="1041.4" font-size="11.2" fill="#333" textLength="42.2" lengthAdjust="spacingAndGlyphs">500 µM</text>
</svg></body></html>
